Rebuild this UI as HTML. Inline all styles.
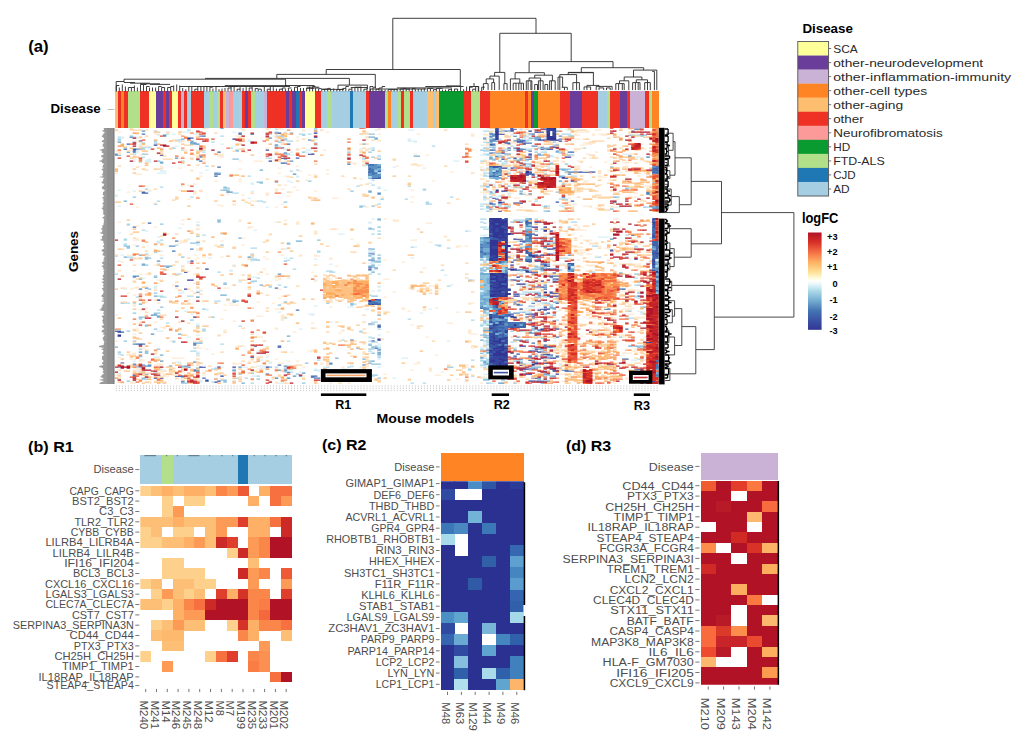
<!DOCTYPE html>
<html><head><meta charset="utf-8"><title>Figure</title>
<style>html,body{margin:0;padding:0;background:#fff;}svg{display:block;font-family:"Liberation Sans",sans-serif;}</style>
</head><body>
<svg width="1019" height="740" viewBox="0 0 1019 740">
<rect width="1019" height="740" fill="#fff"/>
<g shape-rendering="crispEdges"><rect x="114.8" y="91.4" width="3.0" height="36.4" fill="#fdbf6f"/><rect x="117.6" y="91.4" width="3.5" height="36.4" fill="#ee3124"/><rect x="120.7" y="91.4" width="4.0" height="36.4" fill="#ff8524"/><rect x="124.4" y="91.4" width="3.5" height="36.4" fill="#ee3124"/><rect x="127.6" y="91.4" width="12.7" height="36.4" fill="#b2df8a"/><rect x="139.9" y="91.4" width="9.5" height="36.4" fill="#ee3124"/><rect x="149.2" y="91.4" width="6.9" height="36.4" fill="#ffff99"/><rect x="155.7" y="91.4" width="7.4" height="36.4" fill="#6a3d9a"/><rect x="162.9" y="91.4" width="3.5" height="36.4" fill="#ee3124"/><rect x="166.1" y="91.4" width="3.3" height="36.4" fill="#6a3d9a"/><rect x="169.1" y="91.4" width="3.0" height="36.4" fill="#ee3124"/><rect x="171.8" y="91.4" width="6.8" height="36.4" fill="#ffff99"/><rect x="178.3" y="91.4" width="3.5" height="36.4" fill="#ee3124"/><rect x="181.4" y="91.4" width="3.0" height="36.4" fill="#cab2d6"/><rect x="184.2" y="91.4" width="3.3" height="36.4" fill="#ee3124"/><rect x="187.2" y="91.4" width="3.9" height="36.4" fill="#a6cee3"/><rect x="190.8" y="91.4" width="13.6" height="36.4" fill="#ee3124"/><rect x="204.1" y="91.4" width="6.1" height="36.4" fill="#a6cee3"/><rect x="209.9" y="91.4" width="3.7" height="36.4" fill="#b2df8a"/><rect x="213.3" y="91.4" width="3.9" height="36.4" fill="#a6cee3"/><rect x="216.9" y="91.4" width="3.3" height="36.4" fill="#b2df8a"/><rect x="219.9" y="91.4" width="3.3" height="36.4" fill="#ee3124"/><rect x="222.9" y="91.4" width="3.5" height="36.4" fill="#fdbf6f"/><rect x="226.1" y="91.4" width="3.0" height="36.4" fill="#cab2d6"/><rect x="228.8" y="91.4" width="4.4" height="36.4" fill="#fb9a99"/><rect x="233.0" y="91.4" width="9.2" height="36.4" fill="#a6cee3"/><rect x="241.9" y="91.4" width="3.7" height="36.4" fill="#ee3124"/><rect x="245.3" y="91.4" width="3.0" height="36.4" fill="#6a3d9a"/><rect x="248.0" y="91.4" width="3.5" height="36.4" fill="#ee3124"/><rect x="251.2" y="91.4" width="3.7" height="36.4" fill="#b2df8a"/><rect x="254.6" y="91.4" width="9.6" height="36.4" fill="#a6cee3"/><rect x="264.0" y="91.4" width="3.3" height="36.4" fill="#cab2d6"/><rect x="267.0" y="91.4" width="19.5" height="36.4" fill="#ee3124"/><rect x="286.2" y="91.4" width="3.3" height="36.4" fill="#6a3d9a"/><rect x="289.2" y="91.4" width="3.5" height="36.4" fill="#ee3124"/><rect x="292.4" y="91.4" width="3.5" height="36.4" fill="#6a3d9a"/><rect x="295.6" y="91.4" width="3.3" height="36.4" fill="#1f78b4"/><rect x="298.6" y="91.4" width="3.3" height="36.4" fill="#ee3124"/><rect x="301.6" y="91.4" width="3.7" height="36.4" fill="#6a3d9a"/><rect x="305.0" y="91.4" width="10.3" height="36.4" fill="#ffff99"/><rect x="315.1" y="91.4" width="6.2" height="36.4" fill="#ee3124"/><rect x="321.0" y="91.4" width="6.8" height="36.4" fill="#a6cee3"/><rect x="327.4" y="91.4" width="3.7" height="36.4" fill="#b2df8a"/><rect x="330.9" y="91.4" width="19.5" height="36.4" fill="#a6cee3"/><rect x="350.1" y="91.4" width="3.5" height="36.4" fill="#1f78b4"/><rect x="353.3" y="91.4" width="12.9" height="36.4" fill="#a6cee3"/><rect x="365.9" y="91.4" width="3.3" height="36.4" fill="#ee3124"/><rect x="368.9" y="91.4" width="16.6" height="36.4" fill="#6a3d9a"/><rect x="385.2" y="91.4" width="3.3" height="36.4" fill="#b2df8a"/><rect x="388.2" y="91.4" width="3.3" height="36.4" fill="#ff8524"/><rect x="391.3" y="91.4" width="6.6" height="36.4" fill="#a6cee3"/><rect x="397.6" y="91.4" width="3.3" height="36.4" fill="#b2df8a"/><rect x="400.6" y="91.4" width="3.7" height="36.4" fill="#ee3124"/><rect x="404.0" y="91.4" width="6.2" height="36.4" fill="#b2df8a"/><rect x="409.9" y="91.4" width="3.6" height="36.4" fill="#ee3124"/><rect x="413.2" y="91.4" width="13.8" height="36.4" fill="#a6cee3"/><rect x="426.7" y="91.4" width="6.5" height="36.4" fill="#fdbf6f"/><rect x="432.9" y="91.4" width="3.5" height="36.4" fill="#a6cee3"/><rect x="436.1" y="91.4" width="3.6" height="36.4" fill="#fdbf6f"/><rect x="439.3" y="91.4" width="25.0" height="36.4" fill="#0a9b30"/><rect x="464.1" y="91.4" width="6.9" height="36.4" fill="#ee3124"/><rect x="470.7" y="91.4" width="9.9" height="36.4" fill="#b2df8a"/><rect x="480.3" y="91.4" width="9.9" height="36.4" fill="#ee3124"/><rect x="489.9" y="91.4" width="35.0" height="36.4" fill="#ff8524"/><rect x="524.6" y="91.4" width="3.7" height="36.4" fill="#ee3124"/><rect x="528.0" y="91.4" width="3.2" height="36.4" fill="#ff8524"/><rect x="530.9" y="91.4" width="3.5" height="36.4" fill="#6a3d9a"/><rect x="534.1" y="91.4" width="4.0" height="36.4" fill="#0a9b30"/><rect x="537.8" y="91.4" width="22.4" height="36.4" fill="#ff8524"/><rect x="559.9" y="91.4" width="9.9" height="36.4" fill="#ee3124"/><rect x="569.5" y="91.4" width="12.8" height="36.4" fill="#6a3d9a"/><rect x="582.0" y="91.4" width="16.5" height="36.4" fill="#ee3124"/><rect x="598.2" y="91.4" width="9.1" height="36.4" fill="#a6cee3"/><rect x="607.0" y="91.4" width="3.7" height="36.4" fill="#b2df8a"/><rect x="610.4" y="91.4" width="10.2" height="36.4" fill="#ee3124"/><rect x="620.3" y="91.4" width="6.9" height="36.4" fill="#6a3d9a"/><rect x="626.9" y="91.4" width="3.2" height="36.4" fill="#ee3124"/><rect x="629.8" y="91.4" width="15.8" height="36.4" fill="#cab2d6"/><rect x="645.3" y="91.4" width="4.3" height="36.4" fill="#ee3124"/><rect x="649.3" y="91.4" width="3.2" height="36.4" fill="#b2df8a"/><rect x="652.2" y="91.4" width="6.7" height="36.4" fill="#ff8524"/></g>
<defs><clipPath id="hc"><rect x="114.8" y="128.0" width="543.8" height="256.0"/></clipPath></defs><g clip-path="url(#hc)"><g fill="none" stroke-width="1.25"><path stroke="#313695" d="M510.3 128.0h3.5M543.5 129.0h12.6M510.3 130.0h3.5M528.4 131.0h3.5M534.5 132.0h3.5M274.7 133.0h3.5M313.9 133.0h3.5M501.3 134.0h3.5M313.9 137.0h3.5M187.1 138.0h3.5M187.1 139.0h3.5M232.4 139.0h3.5M543.5 140.0h15.6M138.7 141.0h3.5M153.8 145.0h3.5M540.5 147.0h3.5M552.6 147.0h6.5M280.7 148.0h3.5M507.3 148.0h3.5M540.5 149.0h3.5M546.6 149.0h6.5M501.3 150.0h3.5M307.9 154.0h6.5M528.4 154.0h3.5M159.9 155.0h3.5M495.2 156.0h3.5M564.7 157.0h6.5M280.7 158.0h3.5M513.3 158.0h3.5M501.3 159.0h3.5M522.4 164.0h3.5M501.3 168.0h6.5M510.3 168.0h3.5M525.4 171.0h3.5M525.4 172.0h6.5M588.9 172.0h3.5M525.4 173.0h3.5M525.4 175.0h3.5M561.7 177.0h3.5M561.7 178.0h6.5M519.4 182.0h3.5M495.2 190.0h3.5M495.2 191.0h3.5M501.3 191.0h3.5M492.2 198.0h3.5M498.2 202.0h6.5M498.2 203.0h3.5M513.3 203.0h9.6M498.2 211.0h3.5M534.5 222.0h3.5M531.5 227.0h6.5M543.5 227.0h3.5M543.5 230.0h3.5M543.5 231.0h3.5M549.6 231.0h3.5M534.5 235.0h3.5M513.3 239.0h6.5M519.4 241.0h6.5M546.6 244.0h3.5M552.6 248.0h3.5M546.6 249.0h3.5M519.4 251.0h3.5M610.0 251.0h3.5M546.6 254.0h3.5M540.5 255.0h3.5M534.5 256.0h6.5M634.2 259.0h3.5M534.5 261.0h3.5M510.3 262.0h3.5M540.5 264.0h3.5M510.3 265.0h3.5M543.5 266.0h3.5M205.2 269.0h3.5M368.3 269.0h3.5M510.3 269.0h6.5M546.6 269.0h3.5M510.3 270.0h3.5M525.4 271.0h3.5M184.0 272.0h3.5M525.4 272.0h6.5M552.6 273.0h3.5M543.5 275.0h3.5M516.4 277.0h3.5M552.6 279.0h6.5M187.1 280.0h6.5M510.3 280.0h3.5M540.5 281.0h3.5M516.4 284.0h9.6M531.5 287.0h3.5M537.5 287.0h3.5M507.3 289.0h3.5M543.5 292.0h3.5M549.6 292.0h3.5M543.5 293.0h3.5M552.6 293.0h6.5M513.3 294.0h6.5M513.3 296.0h6.5M510.3 299.0h3.5M156.8 300.0h3.5M516.4 301.0h3.5M534.5 301.0h3.5M516.4 304.0h3.5M543.5 307.0h3.5M519.4 309.0h3.5M540.5 309.0h9.6M537.5 310.0h3.5M510.3 316.0h3.5M193.1 317.0h3.5M510.3 317.0h6.5M525.4 317.0h3.5M513.3 318.0h3.5M531.5 318.0h3.5M114.5 331.0h3.5M117.6 335.0h3.5M534.5 335.0h6.5M117.6 336.0h3.5M371.3 341.0h3.5M519.4 346.0h6.5M534.5 349.0h3.5M528.4 351.0h3.5M534.5 351.0h3.5M537.5 352.0h3.5M543.5 354.0h3.5M540.5 355.0h3.5M250.5 357.0h3.5M510.3 358.0h6.5M540.5 358.0h15.6M528.4 360.0h3.5M543.5 360.0h3.5M120.6 363.0h3.5M519.4 363.0h3.5M534.5 363.0h3.5M543.5 363.0h3.5M531.5 364.0h6.5M132.7 365.0h3.5M519.4 365.0h3.5M531.5 365.0h3.5M199.1 367.0h3.5M217.3 367.0h3.5M265.6 367.0h3.5M504.3 368.0h3.5M519.4 369.0h15.6M549.6 369.0h3.5M193.1 370.0h3.5M489.2 371.0h6.5M543.5 371.0h3.5M552.6 371.0h3.5M504.3 373.0h3.5M522.4 374.0h9.6M555.6 374.0h3.5M178.0 376.0h3.5M220.3 376.0h3.5M510.3 376.0h3.5M531.5 378.0h6.5M528.4 381.0h3.5"/><path stroke="#36459c" d="M498.2 134.0h3.5M537.5 139.0h3.5M540.5 140.0h3.5M516.4 141.0h6.5M558.7 141.0h3.5M522.4 143.0h3.5M507.3 144.0h3.5M549.6 147.0h3.5M528.4 157.0h3.5M268.6 161.0h3.5M585.8 172.0h3.5M525.4 174.0h6.5M570.7 181.0h6.5M537.5 222.0h3.5M549.6 249.0h3.5M610.0 250.0h3.5M371.3 254.0h3.5M190.1 261.0h3.5M537.5 261.0h3.5M543.5 265.0h3.5M546.6 266.0h3.5M507.3 269.0h3.5M513.3 270.0h3.5M513.3 280.0h3.5M534.5 287.0h3.5M184.0 289.0h3.5M549.6 293.0h3.5M552.6 296.0h3.5M555.6 303.0h3.5M513.3 304.0h3.5M546.6 313.0h3.5M531.5 314.0h6.5M531.5 316.0h3.5M531.5 326.0h3.5M540.5 329.0h3.5M540.5 330.0h3.5M117.6 331.0h3.5M117.6 332.0h3.5M377.4 339.0h3.5M377.4 340.0h3.5M543.5 341.0h3.5M531.5 351.0h3.5M540.5 352.0h3.5M510.3 353.0h3.5M537.5 364.0h3.5M202.2 367.0h3.5M232.4 367.0h3.5M489.2 367.0h3.5M552.6 370.0h3.5M286.8 372.0h3.5M175.0 376.0h3.5M153.8 378.0h3.5M159.9 378.0h3.5M214.2 382.0h3.5"/><path stroke="#3a54a4" d="M510.3 129.0h6.5M510.3 131.0h3.5M537.5 132.0h3.5M277.7 133.0h3.5M492.2 139.0h3.5M537.5 140.0h3.5M522.4 141.0h3.5M132.7 142.0h3.5M516.4 142.0h6.5M507.3 143.0h3.5M522.4 144.0h3.5M123.6 149.0h3.5M132.7 149.0h3.5M522.4 149.0h3.5M543.5 149.0h3.5M132.7 150.0h3.5M265.6 150.0h3.5M489.2 150.0h3.5M501.3 153.0h3.5M519.4 160.0h3.5M513.3 168.0h3.5M519.4 172.0h3.5M579.8 172.0h6.5M591.9 172.0h3.5M528.4 173.0h3.5M504.3 191.0h3.5M528.4 194.0h3.5M570.7 201.0h3.5M555.6 202.0h3.5M489.2 203.0h3.5M510.3 234.0h3.5M531.5 234.0h3.5M631.2 235.0h3.5M519.4 239.0h3.5M196.1 242.0h3.5M552.6 243.0h3.5M552.6 249.0h3.5M531.5 255.0h6.5M531.5 257.0h3.5M516.4 260.0h3.5M543.5 264.0h3.5M549.6 269.0h6.5M525.4 270.0h3.5M531.5 272.0h6.5M531.5 274.0h3.5M549.6 277.0h3.5M540.5 287.0h3.5M622.1 289.0h3.5M537.5 295.0h3.5M549.6 296.0h3.5M555.6 296.0h3.5M537.5 301.0h3.5M543.5 310.0h3.5M510.3 314.0h3.5M525.4 314.0h3.5M555.6 329.0h3.5M537.5 330.0h3.5M253.5 346.0h3.5M277.7 347.0h3.5M374.4 348.0h3.5M377.4 350.0h3.5M543.5 352.0h3.5M516.4 354.0h3.5M546.6 354.0h3.5M546.6 355.0h6.5M138.7 356.0h3.5M513.3 356.0h3.5M528.4 356.0h3.5M531.5 360.0h3.5M543.5 367.0h3.5M534.5 369.0h3.5M637.2 369.0h6.5M232.4 370.0h3.5M495.2 371.0h3.5M564.7 371.0h3.5M144.8 374.0h3.5M504.3 374.0h3.5M132.7 375.0h3.5M181.0 376.0h3.5M310.9 377.0h3.5M501.3 377.0h3.5M205.2 380.0h3.5M205.2 381.0h3.5M217.3 381.0h3.5M531.5 381.0h3.5"/><path stroke="#4064ac" d="M634.2 129.0h6.5M540.5 132.0h3.5M238.4 134.0h3.5M250.5 134.0h3.5M489.2 134.0h3.5M190.1 138.0h3.5M522.4 140.0h3.5M513.3 141.0h3.5M504.3 142.0h3.5M126.6 144.0h3.5M286.8 144.0h3.5M489.2 144.0h6.5M274.7 145.0h3.5M489.2 145.0h3.5M516.4 149.0h6.5M492.2 150.0h3.5M516.4 150.0h3.5M132.7 151.0h3.5M217.3 152.0h3.5M570.7 152.0h3.5M283.7 153.0h3.5M489.2 153.0h3.5M498.2 153.0h3.5M528.4 155.0h3.5M628.1 156.0h3.5M295.8 158.0h3.5M199.1 161.0h3.5M280.7 163.0h3.5M365.3 164.0h3.5M519.4 165.0h3.5M217.3 167.0h3.5M573.8 172.0h6.5M217.3 174.0h3.5M531.5 174.0h3.5M531.5 175.0h3.5M214.2 176.0h3.5M141.7 192.0h3.5M141.7 193.0h6.5M646.3 193.0h3.5M495.2 199.0h3.5M613.0 202.0h3.5M489.2 204.0h3.5M519.4 222.0h3.5M147.8 223.0h3.5M549.6 238.0h3.5M519.4 248.0h3.5M371.3 260.0h3.5M513.3 260.0h3.5M368.3 267.0h3.5M543.5 269.0h3.5M555.6 269.0h3.5M516.4 270.0h3.5M522.4 270.0h3.5M549.6 276.0h3.5M552.6 281.0h3.5M543.5 289.0h3.5M534.5 293.0h3.5M546.6 296.0h3.5M637.2 296.0h3.5M531.5 303.0h3.5M607.0 309.0h3.5M507.3 314.0h3.5M528.4 314.0h3.5M507.3 315.0h3.5M507.3 316.0h3.5M377.4 326.0h3.5M377.4 327.0h3.5M534.5 327.0h3.5M120.6 332.0h3.5M138.7 344.0h3.5M138.7 345.0h3.5M543.5 345.0h3.5M277.7 346.0h3.5M543.5 347.0h3.5M549.6 347.0h6.5M486.1 350.0h3.5M534.5 356.0h3.5M622.1 359.0h6.5M362.3 365.0h3.5M634.2 369.0h3.5M283.7 370.0h3.5M555.6 370.0h3.5M564.7 370.0h3.5M567.7 371.0h6.5M265.6 374.0h3.5M543.5 374.0h3.5M489.2 375.0h3.5M132.7 376.0h3.5M310.9 376.0h6.5M181.0 377.0h3.5M202.2 378.0h3.5M537.5 381.0h3.5"/><path stroke="#4575b4" d="M504.3 131.0h6.5M631.2 131.0h3.5M238.4 133.0h3.5M141.7 134.0h3.5M492.2 134.0h3.5M528.4 134.0h6.5M202.2 136.0h3.5M513.3 136.0h3.5M129.7 137.0h3.5M537.5 137.0h3.5M516.4 139.0h3.5M558.7 139.0h3.5M519.4 140.0h3.5M193.1 143.0h3.5M504.3 143.0h3.5M525.4 143.0h6.5M492.2 145.0h3.5M513.3 148.0h3.5M138.7 149.0h3.5M507.3 150.0h3.5M528.4 151.0h3.5M132.7 152.0h3.5M567.7 152.0h3.5M492.2 153.0h6.5M646.3 157.0h3.5M528.4 159.0h3.5M283.7 163.0h3.5M347.2 164.0h3.5M567.7 172.0h6.5M214.2 174.0h3.5M567.7 174.0h3.5M513.3 187.0h3.5M489.2 192.0h3.5M646.3 192.0h3.5M646.3 194.0h3.5M561.7 197.0h3.5M492.2 204.0h3.5M132.7 227.0h3.5M549.6 239.0h3.5M175.0 241.0h3.5M522.4 242.0h3.5M172.0 251.0h3.5M549.6 254.0h3.5M507.3 257.0h3.5M519.4 260.0h3.5M374.4 268.0h3.5M540.5 268.0h3.5M519.4 270.0h3.5M540.5 270.0h3.5M552.6 276.0h6.5M175.0 286.0h3.5M543.5 287.0h3.5M274.7 288.0h3.5M138.7 289.0h3.5M619.1 289.0h3.5M534.5 297.0h6.5M516.4 305.0h3.5M604.0 309.0h3.5M295.8 310.0h3.5M368.3 324.0h3.5M377.4 325.0h3.5M534.5 329.0h3.5M625.1 329.0h3.5M555.6 337.0h3.5M350.2 340.0h3.5M531.5 343.0h3.5M135.7 344.0h3.5M141.7 344.0h3.5M543.5 346.0h6.5M546.6 347.0h3.5M540.5 349.0h3.5M513.3 350.0h3.5M555.6 356.0h3.5M555.6 357.0h3.5M528.4 358.0h3.5M519.4 359.0h3.5M147.8 365.0h3.5M277.7 365.0h3.5M561.7 370.0h3.5M153.8 373.0h3.5M546.6 374.0h3.5M489.2 376.0h3.5M274.7 378.0h3.5M286.8 378.0h3.5M313.9 378.0h6.5M181.0 381.0h3.5M534.5 381.0h3.5M540.5 381.0h3.5"/><path stroke="#5c91c2" d="M220.3 128.0h3.5M141.7 131.0h3.5M501.3 131.0h3.5M489.2 133.0h3.5M162.9 135.0h3.5M492.2 135.0h3.5M162.9 136.0h3.5M199.1 136.0h3.5M489.2 136.0h6.5M558.7 136.0h3.5M489.2 137.0h3.5M534.5 137.0h3.5M268.6 138.0h3.5M483.1 138.0h3.5M307.9 140.0h3.5M489.2 140.0h6.5M516.4 140.0h3.5M489.2 141.0h9.6M117.6 142.0h3.5M489.2 142.0h3.5M190.1 144.0h3.5M196.1 144.0h3.5M555.6 145.0h3.5M531.5 146.0h6.5M135.7 149.0h3.5M519.4 150.0h3.5M126.6 152.0h3.5M114.5 154.0h3.5M504.3 154.0h6.5M537.5 154.0h3.5M114.5 155.0h3.5M199.1 156.0h3.5M199.1 157.0h3.5M175.0 158.0h3.5M519.4 158.0h3.5M525.4 160.0h3.5M289.8 161.0h3.5M564.7 172.0h3.5M214.2 173.0h3.5M292.8 174.0h3.5M507.3 176.0h3.5M495.2 179.0h3.5M558.7 181.0h3.5M516.4 187.0h3.5M226.3 192.0h6.5M377.4 193.0h3.5M377.4 194.0h3.5M489.2 209.0h3.5M377.4 219.0h3.5M510.3 227.0h3.5M610.0 239.0h3.5M519.4 244.0h3.5M168.9 246.0h6.5M543.5 247.0h3.5M543.5 248.0h3.5M190.1 249.0h3.5M368.3 249.0h3.5M368.3 253.0h3.5M567.7 255.0h3.5M247.5 257.0h3.5M377.4 258.0h3.5M516.4 258.0h3.5M537.5 258.0h3.5M368.3 260.0h3.5M156.8 261.0h3.5M528.4 262.0h3.5M546.6 264.0h3.5M165.9 267.0h3.5M540.5 269.0h3.5M368.3 270.0h3.5M619.1 273.0h3.5M277.7 274.0h3.5M132.7 276.0h6.5M132.7 277.0h3.5M555.6 281.0h3.5M543.5 285.0h3.5M144.8 288.0h3.5M196.1 292.0h3.5M537.5 293.0h3.5M196.1 297.0h3.5M513.3 302.0h3.5M519.4 305.0h3.5M549.6 307.0h3.5M552.6 308.0h3.5M486.1 310.0h3.5M507.3 312.0h3.5M513.3 313.0h6.5M150.8 315.0h3.5M156.8 316.0h3.5M555.6 328.0h3.5M528.4 332.0h3.5M528.4 333.0h6.5M150.8 334.0h3.5M483.1 337.0h3.5M516.4 337.0h3.5M513.3 340.0h3.5M193.1 343.0h3.5M132.7 344.0h3.5M193.1 344.0h3.5M193.1 345.0h3.5M643.2 346.0h3.5M371.3 347.0h3.5M537.5 349.0h3.5M138.7 352.0h3.5M377.4 354.0h3.5M480.1 357.0h3.5M528.4 357.0h3.5M159.9 361.0h3.5M193.1 362.0h3.5M534.5 362.0h3.5M329.0 363.0h3.5M132.7 364.0h3.5M329.0 364.0h3.5M486.1 364.0h3.5M141.7 365.0h3.5M144.8 366.0h6.5M168.9 366.0h3.5M283.7 366.0h3.5M495.2 366.0h3.5M117.6 367.0h3.5M135.7 367.0h3.5M187.1 367.0h3.5M238.4 367.0h3.5M277.7 370.0h3.5M193.1 371.0h3.5M283.7 371.0h3.5M301.9 373.0h3.5M498.2 374.0h6.5M292.8 376.0h3.5M298.8 376.0h3.5M492.2 376.0h3.5M552.6 376.0h3.5M543.5 381.0h6.5M643.2 381.0h3.5M181.0 382.0h3.5M498.2 383.0h6.5"/><path stroke="#74add1" d="M543.5 128.0h3.5M498.2 131.0h3.5M555.6 131.0h3.5M289.8 133.0h3.5M628.1 135.0h3.5M570.7 136.0h3.5M368.3 137.0h6.5M522.4 137.0h3.5M374.4 138.0h3.5M528.4 138.0h12.6M181.0 139.0h3.5M283.7 139.0h3.5M374.4 139.0h3.5M483.1 139.0h3.5M489.2 139.0h3.5M534.5 139.0h3.5M534.5 140.0h3.5M190.1 141.0h3.5M190.1 142.0h3.5M190.1 143.0h3.5M153.8 144.0h3.5M193.1 144.0h3.5M362.3 144.0h3.5M274.7 147.0h3.5M543.5 148.0h6.5M141.7 149.0h3.5M555.6 151.0h3.5M555.6 152.0h3.5M117.6 155.0h3.5M537.5 155.0h6.5M413.6 156.0h6.5M489.2 157.0h3.5M495.2 157.0h6.5M489.2 158.0h3.5M507.3 158.0h3.5M283.7 159.0h3.5M377.4 159.0h3.5M489.2 159.0h3.5M525.4 159.0h3.5M513.3 160.0h6.5M516.4 161.0h3.5M159.9 162.0h3.5M159.9 163.0h3.5M525.4 164.0h6.5M610.0 167.0h3.5M558.7 169.0h6.5M259.6 170.0h3.5M561.7 170.0h3.5M217.3 173.0h3.5M558.7 176.0h3.5M558.7 177.0h3.5M525.4 181.0h3.5M274.7 182.0h3.5M561.7 184.0h3.5M519.4 187.0h3.5M223.3 190.0h3.5M226.3 191.0h3.5M368.3 191.0h3.5M519.4 191.0h3.5M368.3 192.0h3.5M519.4 193.0h3.5M519.4 194.0h3.5M489.2 197.0h3.5M613.0 197.0h3.5M123.6 201.0h3.5M492.2 206.0h3.5M610.0 209.0h3.5M546.6 211.0h3.5M217.3 220.0h3.5M238.4 238.0h3.5M540.5 239.0h6.5M534.5 240.0h3.5M295.8 241.0h6.5M522.4 247.0h3.5M371.3 249.0h3.5M138.7 255.0h3.5M368.3 255.0h3.5M123.6 257.0h3.5M371.3 258.0h3.5M486.1 259.0h3.5M537.5 259.0h3.5M486.1 260.0h3.5M483.1 262.0h3.5M543.5 263.0h3.5M141.7 264.0h3.5M141.7 265.0h3.5M371.3 265.0h3.5M540.5 265.0h3.5M162.9 266.0h9.6M368.3 266.0h3.5M371.3 267.0h3.5M540.5 267.0h3.5M486.1 268.0h3.5M534.5 269.0h6.5M480.1 270.0h6.5M371.3 272.0h3.5M480.1 272.0h3.5M153.8 277.0h3.5M138.7 279.0h3.5M223.3 284.0h3.5M259.6 285.0h3.5M220.3 295.0h6.5M153.8 296.0h3.5M555.6 298.0h3.5M232.4 301.0h6.5M232.4 302.0h3.5M283.7 302.0h3.5M552.6 302.0h6.5M138.7 304.0h3.5M643.2 307.0h3.5M549.6 308.0h3.5M552.6 309.0h3.5M483.1 310.0h3.5M522.4 312.0h3.5M153.8 314.0h3.5M543.5 314.0h3.5M153.8 315.0h3.5M377.4 315.0h3.5M552.6 315.0h3.5M156.8 317.0h3.5M483.1 322.0h3.5M528.4 322.0h3.5M371.3 324.0h3.5M486.1 325.0h3.5M483.1 330.0h6.5M483.1 331.0h6.5M178.0 334.0h3.5M483.1 335.0h6.5M286.8 336.0h3.5M486.1 337.0h3.5M480.1 340.0h3.5M516.4 340.0h6.5M525.4 340.0h3.5M196.1 343.0h6.5M368.3 345.0h3.5M628.1 346.0h3.5M634.2 346.0h3.5M640.2 346.0h3.5M114.5 347.0h3.5M637.2 347.0h3.5M356.2 348.0h3.5M377.4 349.0h3.5M377.4 352.0h3.5M486.1 352.0h3.5M144.8 353.0h3.5M371.3 353.0h3.5M377.4 353.0h3.5M480.1 353.0h3.5M486.1 353.0h3.5M159.9 355.0h3.5M543.5 356.0h3.5M549.6 356.0h3.5M335.1 358.0h3.5M480.1 358.0h3.5M362.3 359.0h3.5M371.3 361.0h3.5M483.1 361.0h3.5M516.4 361.0h3.5M483.1 362.0h3.5M368.3 363.0h3.5M483.1 363.0h6.5M522.4 364.0h3.5M480.1 365.0h6.5M184.0 366.0h3.5M498.2 366.0h3.5M138.7 367.0h3.5M184.0 367.0h3.5M268.6 367.0h3.5M531.5 367.0h9.6M196.1 368.0h3.5M492.2 368.0h3.5M558.7 368.0h3.5M196.1 370.0h3.5M196.1 371.0h3.5M522.4 371.0h3.5M501.3 375.0h3.5M549.6 376.0h3.5M141.7 378.0h3.5M537.5 378.0h3.5M537.5 379.0h3.5M501.3 380.0h3.5M241.4 383.0h3.5M540.5 383.0h3.5"/><path stroke="#90c3dd" d="M274.7 132.0h3.5M368.3 134.0h6.5M301.9 135.0h3.5M631.2 135.0h15.6M129.7 136.0h3.5M280.7 136.0h3.5M525.4 136.0h3.5M567.7 136.0h3.5M640.2 136.0h3.5M117.6 139.0h3.5M178.0 140.0h3.5M525.4 140.0h3.5M277.7 142.0h3.5M552.6 142.0h3.5M141.7 143.0h3.5M313.9 143.0h3.5M552.6 145.0h3.5M274.7 146.0h3.5M489.2 147.0h6.5M123.6 148.0h3.5M172.0 148.0h3.5M483.1 148.0h3.5M492.2 148.0h3.5M537.5 148.0h6.5M235.4 150.0h3.5M371.3 150.0h3.5M480.1 150.0h3.5M525.4 150.0h3.5M235.4 151.0h3.5M501.3 151.0h3.5M301.9 152.0h3.5M347.2 152.0h3.5M368.3 152.0h3.5M534.5 152.0h3.5M558.7 152.0h3.5M141.7 154.0h6.5M283.7 154.0h6.5M567.7 155.0h6.5M377.4 156.0h3.5M501.3 156.0h3.5M371.3 157.0h3.5M232.4 159.0h6.5M492.2 159.0h3.5M196.1 160.0h3.5M492.2 160.0h3.5M156.8 161.0h3.5M498.2 161.0h3.5M504.3 161.0h3.5M549.6 163.0h3.5M549.6 164.0h3.5M564.7 164.0h3.5M501.3 165.0h3.5M564.7 169.0h6.5M564.7 170.0h3.5M507.3 173.0h3.5M543.5 174.0h3.5M546.6 176.0h3.5M561.7 176.0h3.5M534.5 177.0h3.5M307.9 181.0h3.5M256.5 182.0h6.5M259.6 183.0h3.5M483.1 186.0h6.5M507.3 186.0h3.5M223.3 187.0h3.5M486.1 187.0h3.5M223.3 188.0h6.5M625.1 188.0h3.5M144.8 189.0h3.5M625.1 189.0h3.5M220.3 190.0h3.5M226.3 190.0h3.5M350.2 191.0h3.5M555.6 192.0h3.5M522.4 194.0h3.5M132.7 197.0h3.5M483.1 197.0h3.5M616.1 197.0h3.5M380.4 199.0h3.5M561.7 199.0h3.5M283.7 202.0h3.5M153.8 204.0h3.5M498.2 204.0h3.5M359.3 206.0h3.5M371.3 206.0h3.5M486.1 206.0h3.5M543.5 206.0h3.5M359.3 207.0h3.5M486.1 207.0h3.5M504.3 207.0h3.5M543.5 207.0h3.5M643.2 207.0h3.5M649.3 207.0h3.5M486.1 208.0h3.5M486.1 211.0h3.5M543.5 211.0h3.5M377.4 220.0h3.5M217.3 221.0h3.5M217.3 222.0h3.5M510.3 222.0h3.5M159.9 224.0h3.5M377.4 227.0h3.5M368.3 228.0h3.5M368.3 229.0h6.5M540.5 229.0h3.5M534.5 231.0h3.5M377.4 234.0h3.5M196.1 236.0h3.5M543.5 237.0h3.5M317.0 240.0h3.5M190.1 243.0h6.5M286.8 243.0h3.5M286.8 244.0h3.5M220.3 245.0h3.5M123.6 246.0h6.5M135.7 246.0h3.5M126.6 247.0h3.5M126.6 248.0h3.5M519.4 249.0h3.5M153.8 252.0h3.5M144.8 254.0h3.5M377.4 255.0h3.5M368.3 256.0h3.5M144.8 257.0h3.5M181.0 257.0h3.5M625.1 257.0h3.5M144.8 258.0h6.5M486.1 258.0h3.5M129.7 259.0h3.5M144.8 259.0h3.5M480.1 259.0h3.5M256.5 260.0h3.5M480.1 260.0h3.5M283.7 261.0h3.5M371.3 261.0h9.6M374.4 262.0h6.5M144.8 265.0h3.5M486.1 265.0h3.5M371.3 266.0h3.5M534.5 266.0h3.5M483.1 267.0h3.5M534.5 267.0h6.5M543.5 267.0h3.5M480.1 268.0h3.5M480.1 269.0h3.5M486.1 269.0h3.5M531.5 269.0h3.5M528.4 270.0h3.5M558.7 270.0h3.5M483.1 271.0h3.5M634.2 274.0h6.5M153.8 276.0h3.5M468.0 280.0h3.5M507.3 280.0h3.5M519.4 280.0h3.5M552.6 280.0h3.5M253.5 281.0h3.5M637.2 282.0h3.5M223.3 283.0h3.5M637.2 285.0h3.5M283.7 287.0h3.5M147.8 289.0h3.5M153.8 293.0h3.5M637.2 293.0h3.5M371.3 296.0h6.5M540.5 296.0h3.5M232.4 300.0h3.5M120.6 303.0h3.5M326.0 303.0h3.5M350.2 303.0h3.5M543.5 303.0h3.5M350.2 304.0h3.5M277.7 305.0h3.5M350.2 305.0h3.5M549.6 305.0h3.5M528.4 306.0h6.5M159.9 307.0h3.5M640.2 307.0h3.5M202.2 309.0h3.5M483.1 311.0h3.5M628.1 311.0h3.5M483.1 312.0h3.5M519.4 312.0h3.5M132.7 313.0h3.5M153.8 313.0h6.5M483.1 313.0h3.5M138.7 317.0h6.5M211.2 317.0h3.5M138.7 318.0h3.5M190.1 320.0h3.5M483.1 321.0h6.5M144.8 325.0h3.5M480.1 325.0h3.5M144.8 326.0h3.5M196.1 326.0h3.5M483.1 328.0h6.5M531.5 328.0h3.5M153.8 329.0h3.5M531.5 329.0h3.5M531.5 330.0h3.5M126.6 331.0h3.5M510.3 331.0h3.5M519.4 331.0h3.5M534.5 332.0h6.5M483.1 334.0h3.5M480.1 335.0h3.5M619.1 337.0h3.5M371.3 338.0h3.5M486.1 338.0h3.5M540.5 338.0h6.5M486.1 340.0h3.5M123.6 341.0h3.5M132.7 341.0h3.5M486.1 342.0h3.5M368.3 344.0h3.5M486.1 344.0h3.5M374.4 346.0h3.5M631.2 346.0h3.5M637.2 346.0h3.5M507.3 347.0h3.5M537.5 348.0h3.5M640.2 348.0h6.5M138.7 349.0h3.5M156.8 349.0h3.5M368.3 349.0h3.5M144.8 351.0h3.5M117.6 352.0h3.5M144.8 352.0h3.5M377.4 355.0h3.5M546.6 356.0h3.5M377.4 357.0h3.5M368.3 361.0h3.5M513.3 361.0h3.5M519.4 361.0h3.5M543.5 361.0h3.5M304.9 363.0h3.5M371.3 364.0h9.6M483.1 364.0h3.5M607.0 365.0h6.5M181.0 366.0h3.5M522.4 366.0h3.5M181.0 367.0h3.5M446.9 367.0h6.5M528.4 367.0h3.5M283.7 368.0h3.5M289.8 369.0h3.5M504.3 369.0h3.5M504.3 370.0h3.5M141.7 371.0h3.5M232.4 371.0h3.5M250.5 373.0h3.5M238.4 374.0h3.5M295.8 374.0h3.5M371.3 375.0h6.5M543.5 375.0h6.5M504.3 376.0h3.5M495.2 377.0h6.5M504.3 377.0h3.5M377.4 378.0h3.5M543.5 378.0h3.5M117.6 379.0h3.5M141.7 379.0h6.5M256.5 379.0h3.5M483.1 379.0h6.5M220.3 380.0h6.5M483.1 380.0h6.5M126.6 381.0h3.5M223.3 381.0h3.5M223.3 382.0h3.5M181.0 383.0h6.5M301.9 383.0h3.5M486.1 383.0h3.5M513.3 383.0h3.5"/><path stroke="#abd9e9" d="M313.9 128.0h3.5M567.7 128.0h3.5M274.7 129.0h3.5M313.9 129.0h3.5M519.4 129.0h3.5M187.1 130.0h3.5M313.9 130.0h3.5M153.8 131.0h3.5M483.1 131.0h6.5M522.4 133.0h3.5M165.9 134.0h3.5M268.6 134.0h3.5M298.8 134.0h6.5M307.9 134.0h3.5M561.7 134.0h9.6M220.3 136.0h3.5M274.7 136.0h6.5M117.6 137.0h3.5M132.7 137.0h3.5M280.7 137.0h3.5M543.5 138.0h3.5M498.2 139.0h3.5M117.6 140.0h3.5M175.0 140.0h3.5M283.7 140.0h3.5M528.4 140.0h3.5M117.6 141.0h3.5M153.8 141.0h3.5M286.8 141.0h6.5M525.4 141.0h3.5M153.8 142.0h3.5M211.2 142.0h3.5M483.1 142.0h6.5M486.1 143.0h3.5M313.9 145.0h3.5M431.8 146.0h3.5M510.3 146.0h3.5M141.7 147.0h9.6M277.7 147.0h3.5M229.4 148.0h3.5M371.3 148.0h3.5M486.1 148.0h3.5M582.8 148.0h3.5M504.3 149.0h6.5M528.4 149.0h3.5M181.0 150.0h3.5M202.2 150.0h3.5M483.1 150.0h6.5M513.3 150.0h3.5M483.1 151.0h6.5M504.3 151.0h3.5M202.2 152.0h3.5M540.5 152.0h6.5M558.7 153.0h3.5M132.7 154.0h3.5M483.1 154.0h6.5M564.7 154.0h3.5M486.1 155.0h3.5M498.2 155.0h3.5M504.3 155.0h3.5M498.2 156.0h3.5M546.6 156.0h6.5M141.7 157.0h3.5M265.6 158.0h6.5M362.3 158.0h3.5M362.3 159.0h3.5M181.0 161.0h3.5M480.1 161.0h3.5M138.7 162.0h3.5M501.3 163.0h6.5M365.3 165.0h3.5M555.6 165.0h3.5M205.2 166.0h3.5M522.4 166.0h9.6M525.4 167.0h6.5M486.1 168.0h3.5M507.3 169.0h3.5M519.4 169.0h3.5M546.6 169.0h3.5M295.8 170.0h3.5M289.8 171.0h3.5M543.5 171.0h3.5M483.1 173.0h6.5M483.1 175.0h3.5M247.5 176.0h3.5M483.1 176.0h6.5M570.7 176.0h6.5M371.3 180.0h3.5M486.1 184.0h3.5M371.3 185.0h3.5M356.2 186.0h3.5M407.6 186.0h3.5M480.1 186.0h3.5M519.4 186.0h3.5M159.9 187.0h3.5M377.4 188.0h3.5M628.1 188.0h3.5M422.7 189.0h3.5M422.7 190.0h3.5M486.1 191.0h3.5M570.7 191.0h3.5M232.4 193.0h6.5M489.2 193.0h6.5M489.2 194.0h3.5M498.2 196.0h3.5M190.1 197.0h3.5M449.9 197.0h3.5M404.6 199.0h3.5M483.1 199.0h3.5M558.7 199.0h3.5M564.7 199.0h3.5M564.7 200.0h3.5M156.8 201.0h3.5M256.5 201.0h6.5M534.5 201.0h3.5M262.6 202.0h3.5M425.7 202.0h3.5M425.7 203.0h3.5M377.4 204.0h3.5M425.7 204.0h6.5M480.1 204.0h9.6M498.2 205.0h3.5M362.3 206.0h3.5M480.1 206.0h3.5M498.2 206.0h3.5M504.3 206.0h6.5M546.6 206.0h3.5M507.3 207.0h3.5M646.3 207.0h3.5M480.1 209.0h3.5M480.1 219.0h6.5M534.5 219.0h3.5M513.3 220.0h12.6M513.3 221.0h3.5M519.4 221.0h6.5M480.1 222.0h3.5M570.7 222.0h6.5M483.1 223.0h3.5M126.6 224.0h3.5M126.6 225.0h3.5M196.1 225.0h3.5M480.1 227.0h6.5M567.7 227.0h3.5M483.1 229.0h6.5M141.7 230.0h3.5M377.4 231.0h3.5M465.0 231.0h3.5M531.5 231.0h3.5M371.3 234.0h3.5M202.2 235.0h3.5M625.1 235.0h3.5M649.3 238.0h3.5M123.6 239.0h3.5M123.6 240.0h3.5M159.9 240.0h3.5M516.4 241.0h3.5M156.8 242.0h3.5M543.5 242.0h12.6M196.1 243.0h3.5M123.6 244.0h3.5M549.6 244.0h3.5M123.6 245.0h3.5M175.0 245.0h3.5M434.8 245.0h6.5M437.8 246.0h3.5M591.9 246.0h6.5M634.2 246.0h3.5M410.6 247.0h3.5M634.2 247.0h3.5M250.5 248.0h6.5M446.9 248.0h3.5M510.3 248.0h3.5M317.0 251.0h3.5M317.0 252.0h3.5M371.3 252.0h3.5M552.6 253.0h3.5M250.5 254.0h3.5M114.5 256.0h3.5M126.6 257.0h6.5M250.5 257.0h3.5M594.9 257.0h6.5M159.9 258.0h3.5M289.8 258.0h3.5M558.7 258.0h9.6M250.5 259.0h6.5M377.4 259.0h3.5M250.5 260.0h6.5M286.8 260.0h3.5M483.1 260.0h3.5M371.3 262.0h3.5M156.8 264.0h3.5M480.1 264.0h3.5M292.8 269.0h3.5M374.4 269.0h3.5M440.8 270.0h3.5M326.0 271.0h6.5M519.4 271.0h3.5M540.5 271.0h6.5M217.3 272.0h3.5M329.0 272.0h6.5M588.9 272.0h6.5M114.5 274.0h3.5M175.0 274.0h6.5M368.3 274.0h3.5M377.4 274.0h3.5M256.5 278.0h3.5M634.2 278.0h3.5M471.0 280.0h3.5M516.4 280.0h3.5M250.5 281.0h3.5M250.5 282.0h3.5M546.6 282.0h3.5M277.7 285.0h3.5M634.2 285.0h3.5M268.6 286.0h3.5M446.9 286.0h3.5M519.4 286.0h3.5M268.6 287.0h3.5M522.4 292.0h18.6M637.2 292.0h3.5M519.4 294.0h9.6M368.3 295.0h3.5M156.8 296.0h6.5M187.1 296.0h6.5M543.5 296.0h3.5M634.2 296.0h3.5M135.7 297.0h3.5M159.9 297.0h6.5M543.5 297.0h3.5M634.2 297.0h3.5M637.2 298.0h3.5M226.3 299.0h3.5M214.2 301.0h6.5M123.6 303.0h6.5M132.7 303.0h3.5M540.5 303.0h3.5M546.6 303.0h3.5M353.2 304.0h3.5M546.6 304.0h3.5M156.8 310.0h3.5M486.1 312.0h3.5M528.4 312.0h3.5M640.2 312.0h3.5M486.1 313.0h3.5M525.4 313.0h3.5M486.1 314.0h3.5M486.1 315.0h3.5M483.1 316.0h3.5M480.1 317.0h3.5M283.7 318.0h3.5M625.1 318.0h9.6M138.7 319.0h3.5M407.6 319.0h3.5M471.0 320.0h3.5M483.1 320.0h3.5M555.6 320.0h3.5M371.3 322.0h6.5M165.9 323.0h3.5M483.1 323.0h6.5M483.1 324.0h3.5M238.4 326.0h3.5M480.1 326.0h3.5M202.2 329.0h3.5M377.4 329.0h3.5M483.1 329.0h3.5M114.5 330.0h6.5M202.2 330.0h3.5M594.9 330.0h3.5M202.2 331.0h3.5M359.3 331.0h3.5M522.4 331.0h9.6M359.3 332.0h3.5M368.3 337.0h3.5M341.1 340.0h3.5M172.0 341.0h3.5M286.8 341.0h3.5M368.3 341.0h3.5M483.1 341.0h6.5M172.0 342.0h3.5M371.3 342.0h6.5M510.3 342.0h3.5M220.3 344.0h3.5M483.1 345.0h6.5M377.4 347.0h3.5M640.2 347.0h3.5M193.1 348.0h3.5M371.3 348.0h3.5M486.1 348.0h3.5M513.3 348.0h3.5M531.5 348.0h3.5M371.3 349.0h3.5M480.1 349.0h3.5M480.1 350.0h6.5M540.5 350.0h3.5M190.1 351.0h6.5M368.3 351.0h3.5M543.5 351.0h3.5M483.1 352.0h3.5M196.1 353.0h3.5M117.6 354.0h3.5M120.6 355.0h3.5M196.1 355.0h3.5M483.1 355.0h3.5M483.1 358.0h3.5M486.1 359.0h3.5M637.2 359.0h6.5M317.0 360.0h3.5M471.0 360.0h3.5M480.1 360.0h3.5M486.1 360.0h3.5M480.1 361.0h3.5M486.1 361.0h3.5M531.5 361.0h6.5M486.1 362.0h3.5M286.8 366.0h3.5M350.2 366.0h3.5M274.7 367.0h3.5M326.0 367.0h3.5M347.2 367.0h3.5M483.1 367.0h3.5M552.6 367.0h3.5M214.2 368.0h3.5M483.1 368.0h3.5M211.2 369.0h6.5M232.4 369.0h3.5M468.0 369.0h3.5M313.9 370.0h3.5M326.0 370.0h3.5M468.0 370.0h3.5M528.4 370.0h3.5M362.3 371.0h3.5M283.7 372.0h3.5M289.8 372.0h3.5M347.2 373.0h3.5M362.3 373.0h3.5M256.5 376.0h3.5M371.3 376.0h3.5M471.0 376.0h3.5M498.2 376.0h6.5M543.5 376.0h3.5M235.4 378.0h3.5M244.5 378.0h3.5M543.5 380.0h3.5M232.4 381.0h3.5M211.2 382.0h3.5M250.5 383.0h3.5M410.6 383.0h3.5M422.7 383.0h3.5M489.2 383.0h3.5"/><path stroke="#d8eff6" d="M238.4 128.0h3.5M486.1 128.0h3.5M558.7 128.0h3.5M537.5 129.0h3.5M374.4 130.0h3.5M407.6 130.0h6.5M567.7 130.0h6.5M492.2 131.0h3.5M181.0 132.0h12.6M232.4 132.0h3.5M283.7 132.0h3.5M196.1 133.0h3.5M365.3 133.0h3.5M135.7 134.0h3.5M156.8 134.0h3.5M172.0 134.0h3.5M193.1 134.0h6.5M510.3 134.0h3.5M519.4 134.0h3.5M156.8 135.0h3.5M510.3 135.0h6.5M525.4 135.0h6.5M120.6 137.0h3.5M120.6 138.0h3.5M135.7 138.0h3.5M522.4 138.0h3.5M280.7 139.0h3.5M313.9 139.0h3.5M407.6 139.0h3.5M507.3 139.0h3.5M522.4 139.0h6.5M247.5 140.0h3.5M274.7 140.0h6.5M407.6 140.0h3.5M178.0 141.0h3.5M247.5 141.0h3.5M407.6 141.0h9.6M178.0 142.0h3.5M413.6 142.0h3.5M138.7 144.0h3.5M220.3 144.0h3.5M516.4 144.0h3.5M480.1 145.0h3.5M519.4 145.0h3.5M175.0 146.0h3.5M277.7 146.0h3.5M486.1 146.0h3.5M368.3 148.0h3.5M522.4 148.0h6.5M531.5 148.0h3.5M147.8 149.0h3.5M274.7 149.0h3.5M283.7 149.0h3.5M359.3 149.0h3.5M368.3 149.0h3.5M196.1 150.0h3.5M304.9 150.0h6.5M313.9 150.0h3.5M534.5 150.0h3.5M543.5 150.0h3.5M135.7 151.0h3.5M135.7 152.0h3.5M289.8 152.0h3.5M304.9 152.0h3.5M307.9 153.0h3.5M495.2 154.0h6.5M561.7 154.0h3.5M622.1 154.0h6.5M274.7 155.0h3.5M289.8 155.0h3.5M480.1 155.0h6.5M495.2 155.0h3.5M501.3 155.0h3.5M280.7 157.0h3.5M347.2 157.0h3.5M377.4 157.0h3.5M552.6 157.0h6.5M634.2 157.0h6.5M498.2 158.0h3.5M525.4 158.0h3.5M132.7 159.0h3.5M147.8 159.0h3.5M144.8 160.0h6.5M483.1 160.0h3.5M132.7 161.0h3.5M144.8 161.0h6.5M452.9 161.0h6.5M525.4 161.0h3.5M147.8 162.0h3.5M522.4 162.0h3.5M525.4 165.0h3.5M546.6 165.0h3.5M362.3 166.0h3.5M546.6 166.0h3.5M392.5 167.0h3.5M546.6 167.0h3.5M507.3 168.0h3.5M480.1 169.0h6.5M516.4 169.0h3.5M534.5 169.0h3.5M159.9 170.0h3.5M205.2 170.0h3.5M380.4 170.0h3.5M483.1 170.0h3.5M516.4 170.0h6.5M159.9 171.0h6.5M483.1 171.0h3.5M513.3 171.0h3.5M540.5 171.0h3.5M156.8 173.0h9.6M199.1 173.0h3.5M295.8 176.0h3.5M646.3 176.0h3.5M295.8 177.0h3.5M286.8 181.0h3.5M289.8 182.0h3.5M250.5 183.0h3.5M368.3 183.0h3.5M250.5 184.0h3.5M489.2 184.0h6.5M498.2 184.0h3.5M486.1 185.0h3.5M492.2 185.0h3.5M492.2 186.0h3.5M522.4 186.0h3.5M377.4 187.0h3.5M117.6 190.0h3.5M383.4 190.0h3.5M132.7 191.0h3.5M147.8 191.0h3.5M250.5 191.0h3.5M483.1 191.0h3.5M492.2 191.0h3.5M507.3 193.0h3.5M507.3 194.0h3.5M114.5 195.0h3.5M483.1 195.0h3.5M507.3 195.0h3.5M114.5 196.0h3.5M492.2 197.0h6.5M247.5 198.0h3.5M486.1 199.0h3.5M483.1 200.0h3.5M489.2 200.0h3.5M570.7 204.0h3.5M480.1 205.0h3.5M558.7 205.0h6.5M117.6 206.0h3.5M540.5 206.0h3.5M558.7 206.0h6.5M265.6 207.0h3.5M561.7 207.0h3.5M616.1 207.0h6.5M483.1 209.0h3.5M371.3 219.0h3.5M196.1 222.0h3.5M274.7 222.0h3.5M368.3 222.0h3.5M368.3 223.0h3.5M486.1 227.0h3.5M178.0 228.0h3.5M253.5 230.0h3.5M519.4 230.0h3.5M144.8 231.0h3.5M468.0 231.0h3.5M117.6 233.0h3.5M220.3 234.0h3.5M338.1 234.0h6.5M480.1 235.0h9.6M483.1 236.0h3.5M156.8 237.0h3.5M597.9 237.0h12.6M187.1 239.0h3.5M552.6 240.0h3.5M628.1 240.0h3.5M156.8 241.0h3.5M156.8 243.0h6.5M196.1 244.0h3.5M153.8 245.0h3.5M196.1 245.0h3.5M413.6 247.0h3.5M507.3 248.0h3.5M522.4 248.0h3.5M283.7 249.0h3.5M368.3 250.0h3.5M159.9 251.0h3.5M368.3 251.0h6.5M368.3 252.0h3.5M634.2 254.0h3.5M120.6 255.0h3.5M371.3 255.0h3.5M371.3 256.0h3.5M208.2 258.0h3.5M283.7 258.0h3.5M410.6 258.0h3.5M313.9 259.0h3.5M117.6 261.0h3.5M187.1 261.0h3.5M250.5 261.0h3.5M187.1 262.0h3.5M187.1 263.0h3.5M368.3 263.0h6.5M483.1 263.0h6.5M646.3 263.0h3.5M329.0 264.0h3.5M558.7 264.0h9.6M232.4 265.0h3.5M377.4 265.0h3.5M555.6 265.0h3.5M483.1 266.0h3.5M229.4 270.0h3.5M371.3 270.0h3.5M229.4 271.0h3.5M516.4 273.0h9.6M443.9 275.0h3.5M250.5 277.0h6.5M141.7 278.0h3.5M286.8 278.0h3.5M313.9 280.0h3.5M238.4 281.0h3.5M238.4 282.0h3.5M549.6 282.0h3.5M193.1 283.0h3.5M525.4 284.0h9.6M449.9 285.0h3.5M525.4 285.0h3.5M640.2 285.0h3.5M153.8 286.0h3.5M377.4 286.0h3.5M522.4 286.0h9.6M153.8 287.0h3.5M377.4 287.0h3.5M153.8 288.0h3.5M123.6 289.0h3.5M217.3 290.0h3.5M377.4 290.0h3.5M181.0 291.0h3.5M196.1 291.0h6.5M371.3 291.0h3.5M377.4 291.0h3.5M178.0 293.0h6.5M534.5 296.0h3.5M531.5 301.0h3.5M214.2 302.0h3.5M531.5 302.0h6.5M537.5 304.0h6.5M313.9 306.0h3.5M347.2 307.0h6.5M525.4 308.0h9.6M537.5 308.0h6.5M205.2 309.0h3.5M365.3 309.0h3.5M428.7 309.0h3.5M205.2 310.0h3.5M184.0 311.0h3.5M486.1 311.0h3.5M519.4 311.0h9.6M555.6 311.0h3.5M637.2 311.0h3.5M277.7 312.0h3.5M525.4 312.0h3.5M419.7 313.0h3.5M640.2 313.0h6.5M190.1 314.0h3.5M307.9 314.0h6.5M640.2 314.0h3.5M310.9 315.0h3.5M486.1 320.0h3.5M546.6 321.0h6.5M329.0 322.0h3.5M486.1 322.0h3.5M480.1 323.0h3.5M196.1 324.0h3.5M368.3 325.0h6.5M483.1 325.0h3.5M178.0 328.0h3.5M298.8 329.0h3.5M156.8 331.0h6.5M486.1 334.0h3.5M196.1 335.0h3.5M377.4 335.0h3.5M537.5 336.0h3.5M187.1 337.0h3.5M368.3 338.0h3.5M552.6 338.0h3.5M446.9 341.0h3.5M552.6 341.0h3.5M513.3 342.0h3.5M483.1 343.0h3.5M377.4 344.0h3.5M483.1 344.0h3.5M534.5 345.0h3.5M377.4 346.0h3.5M480.1 347.0h9.6M552.6 348.0h3.5M531.5 349.0h3.5M543.5 349.0h9.6M256.5 351.0h3.5M377.4 351.0h3.5M196.1 352.0h3.5M371.3 352.0h3.5M480.1 352.0h3.5M368.3 353.0h3.5M138.7 357.0h3.5M153.8 357.0h6.5M265.6 357.0h3.5M401.6 358.0h6.5M138.7 359.0h3.5M377.4 359.0h3.5M643.2 359.0h3.5M259.6 360.0h3.5M631.2 360.0h6.5M132.7 361.0h3.5M175.0 362.0h6.5M268.6 362.0h3.5M178.0 363.0h3.5M268.6 363.0h3.5M525.4 363.0h6.5M480.1 364.0h3.5M558.7 364.0h3.5M350.2 365.0h3.5M558.7 365.0h3.5M202.2 366.0h3.5M256.5 366.0h9.6M480.1 366.0h9.6M220.3 367.0h3.5M241.4 367.0h6.5M323.0 367.0h3.5M350.2 367.0h3.5M359.3 367.0h3.5M377.4 367.0h3.5M486.1 367.0h3.5M259.6 368.0h6.5M323.0 368.0h3.5M341.1 368.0h3.5M159.9 369.0h3.5M313.9 369.0h3.5M344.2 369.0h3.5M135.7 370.0h3.5M159.9 370.0h3.5M317.0 370.0h3.5M329.0 370.0h3.5M353.2 370.0h3.5M543.5 370.0h3.5M135.7 371.0h6.5M286.8 371.0h6.5M317.0 371.0h3.5M326.0 371.0h6.5M153.8 372.0h3.5M298.8 372.0h3.5M117.6 373.0h3.5M117.6 374.0h3.5M326.0 374.0h3.5M483.1 374.0h6.5M507.3 374.0h3.5M326.0 375.0h3.5M368.3 375.0h3.5M498.2 375.0h3.5M250.5 376.0h6.5M495.2 376.0h3.5M356.2 377.0h3.5M480.1 377.0h3.5M214.2 378.0h3.5M392.5 378.0h3.5M486.1 378.0h3.5M271.6 379.0h3.5M323.0 379.0h3.5M199.1 380.0h3.5M132.7 381.0h3.5M199.1 381.0h3.5M283.7 381.0h3.5M501.3 381.0h3.5M199.1 382.0h3.5M159.9 383.0h3.5M277.7 383.0h6.5M492.2 383.0h3.5"/><path stroke="#fee9cf" d="M202.2 128.0h6.5M268.6 128.0h3.5M277.7 128.0h3.5M383.4 128.0h3.5M504.3 128.0h3.5M513.3 128.0h9.6M540.5 128.0h3.5M622.1 128.0h3.5M202.2 129.0h3.5M241.4 129.0h3.5M277.7 129.0h6.5M522.4 129.0h3.5M531.5 129.0h3.5M564.7 129.0h3.5M570.7 129.0h3.5M129.7 130.0h3.5M241.4 130.0h3.5M301.9 130.0h3.5M540.5 130.0h3.5M594.9 130.0h6.5M613.0 130.0h3.5M301.9 131.0h3.5M516.4 131.0h9.6M585.8 131.0h3.5M117.6 132.0h3.5M326.0 132.0h3.5M365.3 132.0h3.5M501.3 132.0h3.5M507.3 132.0h3.5M573.8 132.0h15.6M165.9 133.0h3.5M501.3 133.0h3.5M628.1 133.0h3.5M153.8 134.0h3.5M377.4 134.0h3.5M416.7 134.0h3.5M471.0 134.0h3.5M483.1 134.0h3.5M573.8 134.0h3.5M591.9 134.0h3.5M597.9 134.0h9.6M610.0 134.0h3.5M628.1 134.0h3.5M634.2 134.0h3.5M196.1 135.0h3.5M471.0 135.0h3.5M483.1 135.0h6.5M573.8 135.0h6.5M591.9 135.0h3.5M600.9 135.0h6.5M235.4 136.0h6.5M471.0 136.0h3.5M238.4 137.0h6.5M283.7 137.0h3.5M295.8 137.0h3.5M525.4 137.0h3.5M138.7 138.0h3.5M486.1 138.0h3.5M274.7 139.0h3.5M365.3 139.0h3.5M513.3 139.0h3.5M573.8 139.0h6.5M202.2 140.0h3.5M295.8 140.0h3.5M313.9 140.0h3.5M377.4 140.0h3.5M114.5 141.0h3.5M132.7 141.0h6.5M172.0 141.0h3.5M187.1 141.0h3.5M295.8 141.0h3.5M377.4 141.0h3.5M483.1 141.0h6.5M510.3 142.0h6.5M543.5 142.0h3.5M510.3 143.0h6.5M555.6 143.0h3.5M582.8 143.0h12.6M628.1 143.0h6.5M486.1 144.0h3.5M495.2 144.0h3.5M501.3 144.0h3.5M585.8 144.0h6.5M640.2 144.0h3.5M483.1 145.0h6.5M501.3 145.0h9.6M579.8 145.0h6.5M141.7 146.0h6.5M537.5 146.0h6.5M265.6 148.0h3.5M558.7 148.0h3.5M579.8 148.0h3.5M202.2 149.0h3.5M280.7 149.0h3.5M310.9 149.0h3.5M365.3 149.0h3.5M501.3 149.0h3.5M643.2 149.0h3.5M129.7 150.0h3.5M138.7 150.0h6.5M184.0 150.0h3.5M295.8 150.0h3.5M323.0 150.0h3.5M359.3 150.0h3.5M471.0 150.0h3.5M114.5 151.0h6.5M359.3 151.0h3.5M573.8 151.0h3.5M607.0 151.0h3.5M117.6 152.0h3.5M241.4 152.0h6.5M594.9 152.0h3.5M117.6 153.0h3.5M144.8 153.0h3.5M613.0 153.0h3.5M117.6 154.0h3.5M156.8 154.0h3.5M217.3 154.0h6.5M413.6 154.0h3.5M492.2 154.0h3.5M585.8 154.0h3.5M628.1 154.0h6.5M138.7 155.0h3.5M193.1 155.0h6.5M217.3 155.0h6.5M265.6 155.0h3.5M362.3 155.0h3.5M425.7 155.0h3.5M181.0 156.0h3.5M196.1 156.0h3.5M217.3 156.0h6.5M504.3 156.0h3.5M570.7 156.0h3.5M220.3 157.0h3.5M359.3 157.0h3.5M613.0 157.0h6.5M178.0 158.0h3.5M196.1 158.0h3.5M588.9 158.0h3.5M616.1 158.0h3.5M555.6 160.0h3.5M640.2 160.0h3.5M202.2 161.0h3.5M238.4 161.0h3.5M253.5 161.0h9.6M283.7 161.0h3.5M519.4 161.0h3.5M537.5 161.0h3.5M555.6 161.0h3.5M561.7 161.0h3.5M576.8 161.0h6.5M362.3 162.0h3.5M537.5 162.0h3.5M561.7 162.0h3.5M604.0 162.0h3.5M622.1 162.0h9.6M350.2 163.0h6.5M483.1 163.0h6.5M513.3 163.0h3.5M625.1 163.0h3.5M353.2 164.0h3.5M362.3 164.0h3.5M410.6 164.0h3.5M486.1 164.0h3.5M531.5 164.0h3.5M537.5 164.0h3.5M410.6 165.0h12.6M510.3 165.0h6.5M159.9 166.0h3.5M295.8 166.0h3.5M395.5 166.0h3.5M416.7 166.0h3.5M573.8 166.0h6.5M625.1 166.0h3.5M480.1 167.0h3.5M573.8 167.0h6.5M588.9 167.0h3.5M625.1 167.0h3.5M178.0 168.0h3.5M277.7 168.0h3.5M422.7 168.0h3.5M625.1 168.0h3.5M238.4 169.0h3.5M513.3 169.0h3.5M552.6 169.0h3.5M190.1 170.0h3.5M326.0 170.0h3.5M534.5 170.0h3.5M607.0 170.0h3.5M190.1 171.0h3.5M298.8 171.0h3.5M507.3 171.0h3.5M582.8 171.0h6.5M449.9 172.0h3.5M543.5 172.0h3.5M619.1 172.0h3.5M649.3 172.0h3.5M114.5 173.0h3.5M277.7 173.0h3.5M513.3 173.0h3.5M537.5 173.0h6.5M549.6 173.0h3.5M564.7 173.0h3.5M643.2 173.0h3.5M649.3 173.0h3.5M135.7 174.0h6.5M326.0 174.0h3.5M501.3 174.0h3.5M307.9 175.0h3.5M313.9 175.0h3.5M480.1 175.0h3.5M199.1 176.0h3.5M238.4 176.0h3.5M283.7 176.0h6.5M597.9 176.0h3.5M637.2 176.0h3.5M286.8 177.0h3.5M525.4 177.0h3.5M597.9 177.0h9.6M625.1 177.0h3.5M238.4 179.0h3.5M359.3 179.0h3.5M483.1 179.0h3.5M304.9 180.0h3.5M531.5 180.0h6.5M214.2 181.0h3.5M238.4 181.0h3.5M431.8 181.0h3.5M531.5 181.0h3.5M582.8 181.0h6.5M531.5 182.0h3.5M564.7 182.0h3.5M582.8 182.0h3.5M516.4 183.0h3.5M573.8 183.0h6.5M646.3 183.0h3.5M193.1 184.0h3.5M181.0 185.0h3.5M187.1 185.0h3.5M283.7 185.0h3.5M649.3 185.0h3.5M181.0 186.0h3.5M643.2 186.0h6.5M292.8 187.0h3.5M480.1 187.0h3.5M510.3 187.0h3.5M534.5 187.0h3.5M573.8 187.0h3.5M513.3 188.0h6.5M522.4 188.0h6.5M534.5 188.0h3.5M646.3 188.0h6.5M274.7 189.0h3.5M280.7 189.0h3.5M513.3 189.0h3.5M555.6 189.0h3.5M144.8 190.0h6.5M178.0 190.0h3.5M199.1 190.0h3.5M274.7 190.0h3.5M295.8 190.0h3.5M410.6 190.0h3.5M492.2 190.0h3.5M193.1 191.0h3.5M274.7 191.0h3.5M313.9 191.0h3.5M573.8 191.0h3.5M610.0 191.0h3.5M622.1 191.0h6.5M126.6 192.0h3.5M193.1 192.0h3.5M289.8 192.0h3.5M480.1 192.0h9.6M573.8 192.0h6.5M613.0 192.0h6.5M193.1 193.0h3.5M265.6 193.0h3.5M483.1 193.0h6.5M510.3 193.0h3.5M522.4 193.0h3.5M570.7 193.0h3.5M616.1 193.0h3.5M634.2 193.0h3.5M193.1 194.0h3.5M226.3 194.0h3.5M265.6 194.0h3.5M241.4 195.0h3.5M265.6 195.0h3.5M286.8 196.0h3.5M196.1 197.0h3.5M380.4 197.0h3.5M410.6 197.0h3.5M628.1 197.0h9.6M332.1 198.0h6.5M513.3 198.0h6.5M567.7 198.0h3.5M187.1 199.0h3.5M616.1 199.0h3.5M613.0 200.0h3.5M250.5 201.0h6.5M501.3 201.0h3.5M640.2 201.0h3.5M410.6 202.0h3.5M564.7 202.0h6.5M153.8 203.0h3.5M232.4 204.0h3.5M280.7 204.0h3.5M573.8 204.0h3.5M217.3 205.0h3.5M232.4 205.0h3.5M220.3 206.0h3.5M582.8 206.0h9.6M610.0 206.0h3.5M135.7 207.0h3.5M274.7 207.0h3.5M365.3 207.0h3.5M519.4 207.0h3.5M588.9 207.0h3.5M610.0 207.0h6.5M594.9 208.0h9.6M534.5 211.0h3.5M383.4 219.0h3.5M613.0 219.0h6.5M181.0 220.0h3.5M238.4 220.0h3.5M283.7 220.0h3.5M392.5 220.0h6.5M238.4 221.0h3.5M392.5 221.0h6.5M117.6 222.0h3.5M295.8 222.0h3.5M552.6 222.0h3.5M295.8 223.0h3.5M425.7 223.0h6.5M181.0 224.0h3.5M295.8 224.0h3.5M135.7 226.0h3.5M196.1 226.0h3.5M153.8 227.0h3.5M247.5 227.0h6.5M576.8 227.0h3.5M619.1 227.0h3.5M247.5 228.0h3.5M329.0 229.0h3.5M335.1 229.0h3.5M573.8 229.0h6.5M573.8 230.0h12.6M313.9 231.0h3.5M519.4 231.0h3.5M313.9 232.0h3.5M531.5 232.0h3.5M313.9 233.0h3.5M564.7 233.0h3.5M165.9 234.0h3.5M313.9 234.0h3.5M543.5 234.0h6.5M570.7 234.0h3.5M268.6 235.0h3.5M543.5 235.0h3.5M443.9 236.0h3.5M579.8 236.0h3.5M443.9 237.0h3.5M241.4 238.0h3.5M516.4 238.0h6.5M135.7 239.0h3.5M350.2 239.0h3.5M634.2 239.0h3.5M132.7 240.0h6.5M410.6 240.0h6.5M582.8 240.0h9.6M178.0 241.0h9.6M196.1 241.0h3.5M220.3 241.0h3.5M181.0 242.0h6.5M428.7 242.0h3.5M619.1 242.0h3.5M178.0 243.0h3.5M588.9 243.0h6.5M637.2 243.0h6.5M356.2 244.0h3.5M537.5 244.0h3.5M588.9 244.0h9.6M631.2 244.0h3.5M637.2 244.0h3.5M132.7 245.0h3.5M214.2 245.0h3.5M241.4 245.0h3.5M356.2 245.0h3.5M543.5 245.0h3.5M646.3 245.0h6.5M214.2 246.0h3.5M455.9 246.0h6.5M465.0 246.0h3.5M597.9 246.0h3.5M625.1 246.0h3.5M455.9 247.0h3.5M573.8 247.0h9.6M604.0 248.0h3.5M196.1 249.0h3.5M607.0 249.0h3.5M613.0 249.0h3.5M196.1 250.0h3.5M576.8 250.0h9.6M628.1 250.0h6.5M628.1 251.0h6.5M649.3 251.0h3.5M573.8 252.0h12.6M610.0 252.0h9.6M510.3 253.0h3.5M573.8 253.0h9.6M576.8 254.0h3.5M585.8 254.0h6.5M126.6 255.0h6.5M144.8 255.0h6.5M159.9 255.0h3.5M193.1 255.0h3.5M280.7 255.0h3.5M298.8 255.0h3.5M313.9 255.0h3.5M507.3 255.0h9.6M579.8 255.0h3.5M144.8 256.0h3.5M202.2 256.0h3.5M238.4 256.0h3.5M298.8 256.0h3.5M313.9 256.0h6.5M510.3 256.0h6.5M594.9 256.0h3.5M202.2 257.0h3.5M220.3 257.0h3.5M262.6 257.0h3.5M543.5 257.0h3.5M558.7 257.0h6.5M135.7 258.0h3.5M196.1 258.0h3.5M329.0 258.0h3.5M132.7 259.0h9.6M265.6 259.0h3.5M329.0 259.0h3.5M570.7 259.0h3.5M628.1 259.0h3.5M649.3 259.0h3.5M193.1 260.0h3.5M383.4 260.0h3.5M576.8 260.0h3.5M175.0 261.0h3.5M120.6 262.0h3.5M401.6 262.0h3.5M531.5 262.0h3.5M241.4 264.0h3.5M531.5 264.0h3.5M613.0 264.0h3.5M619.1 264.0h3.5M631.2 264.0h9.6M153.8 265.0h3.5M190.1 265.0h3.5M525.4 265.0h3.5M585.8 265.0h9.6M613.0 265.0h3.5M335.1 266.0h3.5M573.8 266.0h3.5M588.9 266.0h3.5M573.8 267.0h9.6M634.2 267.0h6.5M181.0 268.0h3.5M422.7 268.0h3.5M262.6 269.0h3.5M576.8 269.0h3.5M637.2 269.0h3.5M117.6 270.0h3.5M165.9 270.0h3.5M588.9 270.0h3.5M117.6 271.0h3.5M132.7 271.0h3.5M184.0 271.0h6.5M576.8 271.0h3.5M600.9 271.0h3.5M610.0 271.0h6.5M310.9 272.0h3.5M567.7 272.0h3.5M138.7 274.0h3.5M144.8 274.0h3.5M193.1 274.0h3.5M256.5 274.0h3.5M265.6 274.0h3.5M537.5 274.0h3.5M540.5 275.0h3.5M640.2 276.0h3.5M277.7 278.0h3.5M277.7 279.0h3.5M326.0 279.0h6.5M347.2 279.0h3.5M383.4 279.0h6.5M156.8 280.0h6.5M244.5 280.0h3.5M274.7 280.0h3.5M326.0 280.0h3.5M362.3 280.0h3.5M622.1 280.0h3.5M649.3 280.0h3.5M313.9 281.0h3.5M507.3 281.0h3.5M522.4 282.0h3.5M537.5 282.0h3.5M631.2 282.0h3.5M156.8 283.0h3.5M649.3 283.0h3.5M434.8 284.0h3.5M172.0 285.0h3.5M144.8 286.0h3.5M428.7 286.0h6.5M628.1 286.0h3.5M135.7 287.0h3.5M625.1 287.0h3.5M640.2 287.0h3.5M123.6 288.0h3.5M132.7 288.0h6.5M175.0 288.0h3.5M223.3 288.0h6.5M407.6 288.0h3.5M129.7 289.0h3.5M277.7 289.0h3.5M434.8 289.0h6.5M199.1 290.0h3.5M525.4 290.0h3.5M634.2 290.0h6.5M144.8 291.0h3.5M190.1 291.0h3.5M619.1 291.0h15.6M392.5 292.0h3.5M126.6 293.0h3.5M628.1 293.0h6.5M619.1 294.0h3.5M132.7 295.0h3.5M190.1 295.0h3.5M280.7 296.0h3.5M138.7 297.0h3.5M383.4 297.0h3.5M519.4 297.0h6.5M277.7 298.0h3.5M341.1 299.0h3.5M187.1 300.0h3.5M196.1 300.0h3.5M323.0 300.0h3.5M341.1 300.0h3.5M347.2 300.0h3.5M507.3 301.0h3.5M582.8 301.0h3.5M607.0 301.0h3.5M144.8 302.0h3.5M256.5 302.0h3.5M350.2 302.0h3.5M588.9 302.0h3.5M156.8 303.0h3.5M229.4 303.0h3.5M271.6 303.0h3.5M280.7 303.0h3.5M468.0 303.0h6.5M507.3 303.0h3.5M516.4 303.0h9.6M537.5 303.0h3.5M610.0 303.0h3.5M625.1 303.0h3.5M190.1 304.0h3.5M468.0 304.0h3.5M591.9 304.0h3.5M628.1 304.0h6.5M132.7 305.0h3.5M223.3 305.0h3.5M229.4 305.0h9.6M513.3 305.0h3.5M531.5 305.0h9.6M591.9 305.0h3.5M132.7 306.0h3.5M329.0 307.0h3.5M144.8 308.0h3.5M401.6 308.0h3.5M434.8 308.0h3.5M604.0 308.0h3.5M628.1 308.0h6.5M274.7 309.0h6.5M401.6 309.0h3.5M422.7 309.0h3.5M558.7 309.0h3.5M591.9 309.0h3.5M622.1 309.0h9.6M138.7 310.0h6.5M223.3 310.0h3.5M422.7 310.0h3.5M522.4 310.0h6.5M558.7 310.0h3.5M591.9 310.0h3.5M597.9 310.0h6.5M407.6 311.0h3.5M196.1 312.0h3.5M455.9 312.0h3.5M585.8 312.0h6.5M594.9 312.0h3.5M600.9 312.0h3.5M643.2 312.0h3.5M585.8 313.0h3.5M144.8 314.0h3.5M196.1 314.0h3.5M591.9 314.0h3.5M604.0 314.0h3.5M628.1 314.0h6.5M114.5 315.0h3.5M196.1 315.0h3.5M280.7 315.0h3.5M256.5 316.0h6.5M280.7 316.0h3.5M537.5 316.0h3.5M144.8 317.0h3.5M280.7 317.0h3.5M582.8 317.0h3.5M588.9 317.0h6.5M610.0 317.0h3.5M634.2 317.0h12.6M280.7 318.0h3.5M546.6 318.0h6.5M561.7 318.0h6.5M588.9 318.0h12.6M613.0 318.0h3.5M637.2 318.0h9.6M220.3 319.0h3.5M280.7 319.0h3.5M280.7 320.0h3.5M232.4 321.0h3.5M564.7 321.0h3.5M600.9 321.0h3.5M138.7 322.0h3.5M153.8 322.0h3.5M558.7 322.0h6.5M604.0 322.0h3.5M310.9 323.0h3.5M446.9 323.0h6.5M607.0 323.0h3.5M634.2 323.0h6.5M576.8 324.0h18.6M410.6 325.0h3.5M540.5 325.0h3.5M561.7 325.0h3.5M576.8 325.0h3.5M597.9 325.0h9.6M610.0 325.0h3.5M147.8 326.0h3.5M159.9 327.0h6.5M168.9 327.0h3.5M600.9 327.0h3.5M162.9 328.0h3.5M274.7 328.0h3.5M313.9 328.0h3.5M607.0 328.0h3.5M132.7 329.0h6.5M274.7 329.0h3.5M223.3 330.0h3.5M341.1 330.0h3.5M468.0 330.0h3.5M132.7 331.0h6.5M199.1 331.0h3.5M341.1 331.0h3.5M468.0 331.0h3.5M640.2 331.0h3.5M292.8 332.0h3.5M362.3 332.0h3.5M386.5 332.0h3.5M468.0 332.0h3.5M591.9 332.0h3.5M597.9 332.0h12.6M640.2 332.0h3.5M338.1 333.0h3.5M365.3 333.0h3.5M468.0 333.0h3.5M597.9 333.0h12.6M132.7 334.0h3.5M471.0 334.0h6.5M619.1 335.0h6.5M217.3 336.0h3.5M579.8 336.0h3.5M622.1 336.0h3.5M256.5 337.0h6.5M425.7 337.0h3.5M480.1 337.0h3.5M564.7 337.0h3.5M622.1 337.0h6.5M643.2 337.0h3.5M196.1 338.0h6.5M640.2 339.0h3.5M114.5 341.0h3.5M168.9 341.0h3.5M193.1 341.0h6.5M558.7 341.0h3.5M564.7 341.0h3.5M468.0 342.0h3.5M561.7 343.0h3.5M362.3 344.0h3.5M564.7 344.0h3.5M196.1 345.0h3.5M235.4 346.0h3.5M241.4 346.0h3.5M347.2 346.0h3.5M555.6 346.0h3.5M196.1 347.0h3.5M510.3 347.0h3.5M138.7 348.0h6.5M196.1 348.0h6.5M250.5 348.0h3.5M471.0 348.0h3.5M519.4 348.0h6.5M205.2 349.0h3.5M362.3 349.0h3.5M558.7 349.0h3.5M634.2 349.0h3.5M310.9 350.0h3.5M634.2 350.0h3.5M307.9 351.0h6.5M555.6 351.0h6.5M591.9 351.0h9.6M631.2 351.0h3.5M289.8 352.0h3.5M513.3 352.0h6.5M558.7 352.0h9.6M634.2 352.0h9.6M132.7 353.0h3.5M250.5 353.0h3.5M561.7 353.0h6.5M622.1 353.0h9.6M126.6 354.0h9.6M153.8 354.0h3.5M211.2 354.0h3.5M126.6 355.0h9.6M265.6 355.0h3.5M434.8 355.0h3.5M196.1 356.0h3.5M643.2 356.0h3.5M117.6 357.0h3.5M519.4 357.0h3.5M558.7 357.0h9.6M172.0 358.0h12.6M129.7 359.0h6.5M274.7 359.0h3.5M543.5 359.0h6.5M138.7 360.0h6.5M546.6 360.0h3.5M558.7 360.0h3.5M576.8 360.0h6.5M585.8 360.0h3.5M594.9 360.0h6.5M613.0 360.0h3.5M643.2 360.0h3.5M138.7 361.0h3.5M247.5 361.0h6.5M286.8 361.0h3.5M295.8 361.0h3.5M416.7 362.0h3.5M147.8 363.0h3.5M232.4 363.0h3.5M238.4 363.0h3.5M277.7 363.0h6.5M320.0 363.0h3.5M416.7 363.0h3.5M558.7 363.0h3.5M564.7 363.0h6.5M120.6 364.0h3.5M156.8 364.0h6.5M232.4 364.0h6.5M320.0 364.0h3.5M413.6 364.0h3.5M564.7 364.0h3.5M622.1 364.0h9.6M640.2 364.0h3.5M114.5 365.0h3.5M153.8 365.0h9.6M326.0 365.0h3.5M465.0 365.0h3.5M625.1 365.0h3.5M132.7 366.0h3.5M326.0 366.0h3.5M362.3 366.0h6.5M253.5 367.0h3.5M292.8 367.0h3.5M301.9 367.0h3.5M341.1 367.0h3.5M365.3 367.0h3.5M465.0 367.0h3.5M480.1 367.0h3.5M588.9 367.0h3.5M135.7 368.0h3.5M428.7 368.0h3.5M588.9 368.0h9.6M132.7 369.0h3.5M250.5 369.0h3.5M256.5 369.0h3.5M292.8 369.0h3.5M428.7 369.0h3.5M446.9 369.0h3.5M555.6 369.0h3.5M561.7 369.0h3.5M138.7 370.0h3.5M280.7 370.0h3.5M338.1 370.0h3.5M359.3 370.0h3.5M410.6 370.0h3.5M428.7 370.0h3.5M483.1 370.0h3.5M631.2 370.0h3.5M159.9 371.0h3.5M181.0 371.0h3.5M428.7 371.0h3.5M594.9 371.0h6.5M135.7 372.0h3.5M181.0 372.0h3.5M238.4 372.0h3.5M440.8 372.0h3.5M597.9 372.0h3.5M135.7 373.0h3.5M144.8 373.0h3.5M159.9 373.0h3.5M353.2 373.0h3.5M162.9 374.0h3.5M172.0 374.0h3.5M190.1 374.0h6.5M353.2 374.0h3.5M383.4 374.0h3.5M558.7 374.0h6.5M114.5 375.0h3.5M144.8 375.0h3.5M162.9 375.0h3.5M172.0 375.0h6.5M202.2 375.0h3.5M214.2 375.0h3.5M350.2 375.0h3.5M434.8 375.0h6.5M504.3 375.0h3.5M156.8 376.0h12.6M301.9 376.0h3.5M483.1 376.0h3.5M591.9 376.0h3.5M362.3 377.0h3.5M483.1 377.0h3.5M181.0 378.0h3.5M196.1 378.0h3.5M326.0 378.0h3.5M347.2 378.0h6.5M359.3 378.0h3.5M480.1 378.0h3.5M489.2 378.0h15.6M567.7 378.0h6.5M625.1 378.0h6.5M175.0 379.0h3.5M283.7 379.0h3.5M329.0 379.0h3.5M455.9 379.0h3.5M531.5 379.0h3.5M625.1 379.0h3.5M232.4 380.0h3.5M250.5 380.0h3.5M323.0 380.0h3.5M356.2 380.0h3.5M153.8 381.0h3.5M196.1 381.0h3.5M326.0 381.0h3.5M365.3 381.0h3.5M561.7 381.0h3.5M129.7 382.0h3.5M274.7 382.0h3.5M516.4 382.0h3.5M564.7 382.0h3.5M591.9 382.0h12.6M610.0 382.0h3.5M120.6 383.0h3.5M129.7 383.0h6.5M147.8 383.0h3.5M274.7 383.0h3.5M286.8 383.0h3.5M329.0 383.0h3.5M347.2 383.0h3.5M480.1 383.0h3.5M516.4 383.0h3.5M613.0 383.0h3.5"/><path stroke="#fdd6a5" d="M619.1 128.0h3.5M265.6 129.0h3.5M377.4 129.0h3.5M498.2 129.0h6.5M525.4 129.0h3.5M628.1 129.0h3.5M132.7 130.0h9.6M144.8 130.0h3.5M320.0 130.0h3.5M443.9 130.0h3.5M498.2 130.0h3.5M576.8 130.0h9.6M489.2 131.0h3.5M543.5 131.0h3.5M573.8 131.0h3.5M634.2 131.0h3.5M165.9 132.0h3.5M489.2 132.0h3.5M628.1 132.0h3.5M214.2 133.0h3.5M525.4 133.0h3.5M178.0 134.0h3.5M274.7 134.0h3.5M283.7 134.0h6.5M365.3 134.0h3.5M537.5 134.0h9.6M283.7 135.0h3.5M504.3 135.0h3.5M540.5 135.0h3.5M144.8 136.0h3.5M504.3 136.0h6.5M634.2 136.0h6.5M274.7 137.0h3.5M365.3 137.0h3.5M504.3 137.0h6.5M238.4 138.0h3.5M280.7 138.0h3.5M607.0 138.0h3.5M628.1 138.0h3.5M301.9 139.0h3.5M582.8 139.0h3.5M172.0 140.0h3.5M371.3 140.0h3.5M175.0 141.0h3.5M181.0 141.0h3.5M591.9 141.0h12.6M138.7 142.0h3.5M280.7 142.0h3.5M546.6 142.0h6.5M588.9 142.0h6.5M238.4 144.0h3.5M280.7 144.0h3.5M359.3 144.0h3.5M365.3 144.0h3.5M465.0 144.0h3.5M184.0 145.0h9.6M607.0 145.0h3.5M138.7 146.0h3.5M607.0 146.0h3.5M607.0 147.0h3.5M168.9 148.0h3.5M301.9 148.0h3.5M362.3 148.0h3.5M613.0 148.0h3.5M619.1 148.0h3.5M168.9 149.0h3.5M238.4 149.0h3.5M286.8 149.0h3.5M295.8 149.0h3.5M573.8 149.0h6.5M159.9 150.0h3.5M347.2 150.0h3.5M365.3 150.0h3.5M564.7 150.0h3.5M607.0 150.0h3.5M634.2 150.0h6.5M126.6 151.0h3.5M159.9 151.0h3.5M196.1 151.0h6.5M232.4 151.0h3.5M274.7 152.0h3.5M359.3 152.0h3.5M159.9 153.0h3.5M274.7 153.0h3.5M129.7 154.0h3.5M159.9 154.0h3.5M277.7 155.0h3.5M588.9 155.0h6.5M132.7 156.0h3.5M162.9 156.0h3.5M196.1 157.0h3.5M362.3 157.0h3.5M516.4 157.0h6.5M591.9 157.0h3.5M610.0 157.0h3.5M190.1 158.0h3.5M534.5 158.0h3.5M555.6 158.0h3.5M582.8 158.0h3.5M591.9 158.0h6.5M640.2 158.0h3.5M162.9 159.0h9.6M190.1 159.0h3.5M202.2 159.0h3.5M392.5 159.0h3.5M543.5 159.0h3.5M634.2 159.0h3.5M392.5 160.0h3.5M277.7 161.0h3.5M362.3 161.0h6.5M507.3 161.0h3.5M531.5 161.0h3.5M552.6 161.0h3.5M643.2 161.0h6.5M486.1 162.0h3.5M534.5 162.0h3.5M579.8 162.0h3.5M646.3 162.0h3.5M480.1 163.0h3.5M534.5 163.0h9.6M634.2 163.0h3.5M313.9 164.0h3.5M413.6 164.0h3.5M513.3 164.0h9.6M610.0 164.0h3.5M196.1 165.0h3.5M362.3 165.0h3.5M486.1 165.0h3.5M498.2 165.0h3.5M504.3 165.0h6.5M117.6 166.0h3.5M443.9 166.0h3.5M501.3 166.0h9.6M534.5 166.0h12.6M135.7 167.0h3.5M540.5 167.0h3.5M622.1 167.0h3.5M159.9 168.0h3.5M549.6 168.0h3.5M156.8 169.0h3.5M486.1 169.0h3.5M573.8 169.0h6.5M649.3 169.0h3.5M144.8 170.0h3.5M486.1 170.0h3.5M573.8 170.0h3.5M519.4 171.0h6.5M597.9 171.0h3.5M625.1 171.0h9.6M471.0 173.0h3.5M519.4 173.0h3.5M534.5 173.0h3.5M588.9 173.0h3.5M597.9 173.0h3.5M637.2 173.0h3.5M513.3 174.0h3.5M534.5 174.0h3.5M501.3 175.0h6.5M522.4 175.0h3.5M313.9 176.0h3.5M341.1 176.0h3.5M407.6 176.0h3.5M501.3 176.0h3.5M579.8 176.0h3.5M289.8 177.0h3.5M501.3 177.0h3.5M501.3 178.0h3.5M265.6 179.0h3.5M480.1 179.0h3.5M610.0 180.0h3.5M501.3 181.0h3.5M507.3 181.0h3.5M528.4 181.0h3.5M534.5 181.0h3.5M561.7 182.0h3.5M407.6 183.0h3.5M483.1 183.0h3.5M510.3 183.0h6.5M607.0 183.0h3.5M628.1 183.0h3.5M365.3 184.0h3.5M483.1 184.0h3.5M564.7 184.0h6.5M277.7 185.0h3.5M359.3 185.0h3.5M407.6 185.0h3.5M534.5 185.0h3.5M564.7 185.0h3.5M597.9 185.0h3.5M516.4 186.0h3.5M558.7 186.0h3.5M573.8 186.0h3.5M501.3 187.0h6.5M528.4 187.0h6.5M555.6 187.0h6.5M628.1 187.0h3.5M531.5 188.0h3.5M573.8 188.0h9.6M153.8 189.0h3.5M347.2 189.0h3.5M492.2 189.0h3.5M576.8 189.0h15.6M646.3 189.0h3.5M573.8 190.0h6.5M588.9 190.0h6.5M610.0 190.0h3.5M646.3 190.0h6.5M199.1 191.0h3.5M543.5 191.0h9.6M576.8 191.0h6.5M591.9 191.0h6.5M286.8 192.0h3.5M250.5 193.0h3.5M543.5 193.0h3.5M362.3 194.0h3.5M543.5 194.0h6.5M362.3 195.0h6.5M525.4 195.0h6.5M567.7 195.0h3.5M594.9 195.0h6.5M362.3 196.0h3.5M591.9 196.0h3.5M175.0 197.0h3.5M307.9 197.0h3.5M576.8 197.0h3.5M591.9 197.0h18.6M175.0 198.0h3.5M307.9 198.0h6.5M486.1 198.0h3.5M597.9 198.0h12.6M175.0 199.0h3.5M455.9 199.0h3.5M172.0 200.0h3.5M640.2 200.0h3.5M528.4 201.0h3.5M643.2 201.0h3.5M244.5 202.0h3.5M247.5 203.0h3.5M446.9 203.0h3.5M507.3 204.0h3.5M613.0 204.0h3.5M649.3 204.0h3.5M374.4 205.0h3.5M486.1 205.0h3.5M567.7 205.0h3.5M649.3 205.0h3.5M597.9 206.0h3.5M570.7 207.0h3.5M492.2 209.0h6.5M498.2 210.0h3.5M516.4 210.0h15.6M597.9 210.0h12.6M489.2 211.0h3.5M525.4 211.0h9.6M576.8 219.0h3.5M558.7 220.0h3.5M558.7 221.0h9.6M277.7 222.0h3.5M558.7 222.0h6.5M649.3 222.0h3.5M141.7 223.0h3.5M561.7 223.0h6.5M573.8 225.0h3.5M582.8 226.0h6.5M613.0 228.0h3.5M196.1 229.0h3.5M332.1 229.0h3.5M416.7 229.0h3.5M558.7 229.0h3.5M610.0 229.0h3.5M558.7 230.0h3.5M610.0 230.0h3.5M190.1 231.0h3.5M552.6 231.0h3.5M558.7 231.0h6.5M610.0 231.0h3.5M628.1 231.0h3.5M129.7 234.0h3.5M175.0 234.0h3.5M196.1 234.0h3.5M268.6 234.0h3.5M649.3 234.0h3.5M196.1 235.0h3.5M159.9 236.0h3.5M132.7 238.0h3.5M377.4 238.0h3.5M573.8 238.0h3.5M184.0 240.0h3.5M265.6 240.0h3.5M446.9 240.0h3.5M573.8 240.0h3.5M625.1 240.0h3.5M202.2 241.0h3.5M265.6 241.0h3.5M585.8 241.0h3.5M262.6 242.0h3.5M368.3 242.0h3.5M507.3 242.0h6.5M634.2 242.0h6.5M368.3 243.0h3.5M579.8 243.0h3.5M594.9 243.0h3.5M619.1 243.0h3.5M625.1 243.0h3.5M552.6 244.0h3.5M619.1 244.0h3.5M159.9 245.0h3.5M619.1 245.0h3.5M217.3 246.0h3.5M326.0 246.0h3.5M519.4 246.0h3.5M570.7 246.0h6.5M141.7 247.0h3.5M217.3 247.0h6.5M232.4 247.0h3.5M516.4 247.0h3.5M516.4 248.0h3.5M597.9 248.0h3.5M628.1 248.0h6.5M120.6 249.0h3.5M280.7 249.0h3.5M543.5 249.0h3.5M199.1 250.0h3.5M552.6 250.0h3.5M613.0 250.0h3.5M625.1 250.0h3.5M640.2 250.0h3.5M144.8 251.0h3.5M531.5 251.0h3.5M350.2 252.0h6.5M631.2 253.0h6.5M178.0 254.0h3.5M558.7 254.0h3.5M114.5 255.0h3.5M178.0 255.0h3.5M208.2 255.0h3.5M604.0 255.0h3.5M643.2 255.0h3.5M649.3 255.0h3.5M250.5 256.0h3.5M132.7 258.0h3.5M187.1 258.0h3.5M247.5 259.0h3.5M567.7 259.0h3.5M549.6 260.0h3.5M607.0 260.0h3.5M582.8 261.0h3.5M175.0 262.0h3.5M465.0 263.0h3.5M622.1 264.0h9.6M132.7 265.0h3.5M172.0 265.0h3.5M313.9 265.0h3.5M440.8 265.0h3.5M552.6 265.0h3.5M558.7 265.0h6.5M628.1 265.0h6.5M181.0 266.0h3.5M232.4 266.0h3.5M613.0 266.0h3.5M634.2 266.0h9.6M640.2 267.0h6.5M564.7 268.0h3.5M392.5 270.0h3.5M585.8 271.0h3.5M419.7 272.0h3.5M147.8 273.0h3.5M147.8 274.0h3.5M465.0 274.0h3.5M516.4 274.0h6.5M555.6 274.0h3.5M579.8 274.0h3.5M628.1 274.0h3.5M241.4 275.0h3.5M323.0 275.0h3.5M247.5 276.0h3.5M274.7 276.0h3.5M356.2 276.0h9.6M247.5 277.0h3.5M274.7 277.0h3.5M323.0 278.0h6.5M335.1 278.0h3.5M356.2 278.0h3.5M465.0 278.0h3.5M135.7 279.0h3.5M573.8 279.0h3.5M238.4 280.0h6.5M365.3 280.0h3.5M437.8 280.0h3.5M537.5 280.0h3.5M573.8 280.0h3.5M646.3 280.0h3.5M132.7 281.0h3.5M471.0 281.0h3.5M510.3 281.0h3.5M132.7 282.0h3.5M175.0 282.0h3.5M534.5 283.0h12.6M649.3 284.0h3.5M268.6 285.0h3.5M422.7 285.0h3.5M434.8 285.0h3.5M628.1 285.0h3.5M295.8 286.0h3.5M196.1 287.0h3.5M120.6 288.0h3.5M196.1 288.0h3.5M419.7 288.0h3.5M519.4 288.0h21.6M555.6 288.0h3.5M187.1 289.0h3.5M247.5 289.0h3.5M410.6 289.0h3.5M419.7 289.0h6.5M153.8 290.0h3.5M428.7 290.0h3.5M628.1 290.0h6.5M416.7 291.0h3.5M422.7 292.0h3.5M471.0 292.0h3.5M540.5 292.0h3.5M193.1 293.0h3.5M259.6 293.0h3.5M422.7 293.0h3.5M428.7 293.0h3.5M199.1 294.0h3.5M543.5 294.0h6.5M265.6 295.0h3.5M286.8 295.0h3.5M619.1 295.0h3.5M619.1 296.0h6.5M510.3 297.0h3.5M138.7 298.0h3.5M522.4 298.0h21.6M365.3 299.0h3.5M522.4 299.0h6.5M531.5 299.0h3.5M153.8 300.0h3.5M329.0 300.0h3.5M335.1 300.0h3.5M525.4 300.0h3.5M531.5 300.0h3.5M555.6 300.0h3.5M362.3 301.0h6.5M585.8 301.0h6.5M120.6 302.0h6.5M326.0 302.0h6.5M516.4 302.0h3.5M622.1 302.0h6.5M172.0 303.0h6.5M187.1 303.0h3.5M283.7 303.0h12.6M558.7 303.0h3.5M564.7 303.0h3.5M607.0 303.0h3.5M613.0 303.0h3.5M622.1 303.0h3.5M181.0 304.0h9.6M286.8 304.0h3.5M619.1 304.0h3.5M362.3 306.0h3.5M625.1 306.0h6.5M607.0 307.0h9.6M250.5 308.0h3.5M265.6 308.0h3.5M594.9 310.0h3.5M265.6 311.0h3.5M371.3 311.0h3.5M564.7 311.0h3.5M613.0 311.0h3.5M144.8 312.0h3.5M383.4 312.0h6.5M537.5 312.0h3.5M383.4 313.0h3.5M383.4 314.0h3.5M588.9 314.0h3.5M159.9 315.0h6.5M362.3 315.0h3.5M480.1 315.0h6.5M604.0 315.0h12.6M516.4 316.0h3.5M543.5 316.0h3.5M564.7 316.0h3.5M208.2 317.0h3.5M283.7 317.0h3.5M552.6 317.0h3.5M525.4 318.0h6.5M610.0 318.0h3.5M159.9 319.0h3.5M486.1 319.0h3.5M525.4 319.0h12.6M597.9 319.0h3.5M519.4 321.0h3.5M178.0 322.0h3.5M335.1 322.0h3.5M362.3 322.0h3.5M138.7 323.0h3.5M187.1 323.0h3.5M540.5 323.0h3.5M604.0 323.0h3.5M613.0 323.0h3.5M561.7 324.0h6.5M564.7 325.0h3.5M326.0 326.0h3.5M416.7 326.0h6.5M555.6 326.0h3.5M579.8 326.0h3.5M196.1 327.0h3.5M347.2 327.0h3.5M555.6 327.0h3.5M241.4 328.0h3.5M310.9 328.0h3.5M416.7 328.0h3.5M604.0 328.0h3.5M362.3 329.0h3.5M588.9 329.0h3.5M193.1 330.0h3.5M350.2 330.0h3.5M591.9 330.0h3.5M591.9 331.0h6.5M223.3 332.0h3.5M326.0 332.0h3.5M525.4 332.0h3.5M594.9 332.0h3.5M637.2 332.0h3.5M362.3 333.0h3.5M250.5 334.0h3.5M576.8 334.0h3.5M604.0 334.0h6.5M184.0 335.0h3.5M217.3 335.0h3.5M561.7 335.0h3.5M616.1 335.0h3.5M510.3 337.0h3.5M519.4 337.0h3.5M534.5 337.0h3.5M549.6 337.0h6.5M597.9 337.0h3.5M610.0 337.0h6.5M534.5 338.0h3.5M135.7 339.0h6.5M380.4 339.0h3.5M262.6 341.0h3.5M338.1 341.0h3.5M353.2 341.0h3.5M431.8 341.0h3.5M468.0 341.0h3.5M576.8 341.0h3.5M610.0 341.0h9.6M132.7 342.0h3.5M323.0 342.0h3.5M350.2 342.0h3.5M564.7 342.0h3.5M350.2 343.0h3.5M362.3 343.0h3.5M558.7 343.0h3.5M564.7 343.0h6.5M326.0 344.0h3.5M600.9 344.0h6.5M600.9 345.0h3.5M238.4 346.0h3.5M250.5 346.0h3.5M471.0 346.0h6.5M597.9 346.0h3.5M610.0 346.0h3.5M265.6 347.0h3.5M474.1 347.0h3.5M555.6 347.0h3.5M265.6 348.0h3.5M265.6 349.0h3.5M555.6 349.0h3.5M564.7 349.0h3.5M144.8 350.0h3.5M552.6 350.0h6.5M153.8 351.0h3.5M579.8 351.0h12.6M640.2 351.0h6.5M220.3 352.0h3.5M259.6 352.0h3.5M280.7 352.0h3.5M362.3 352.0h3.5M552.6 352.0h3.5M585.8 352.0h3.5M597.9 352.0h3.5M153.8 353.0h3.5M540.5 353.0h9.6M585.8 353.0h3.5M362.3 354.0h3.5M561.7 354.0h6.5M643.2 354.0h3.5M350.2 356.0h6.5M480.1 356.0h6.5M537.5 356.0h6.5M256.5 357.0h6.5M362.3 357.0h3.5M561.7 358.0h6.5M634.2 358.0h3.5M153.8 359.0h6.5M196.1 359.0h3.5M250.5 359.0h3.5M365.3 359.0h3.5M525.4 359.0h3.5M594.9 359.0h3.5M640.2 360.0h3.5M241.4 361.0h3.5M507.3 361.0h6.5M597.9 361.0h3.5M640.2 361.0h3.5M196.1 362.0h3.5M253.5 362.0h3.5M196.1 363.0h3.5M326.0 363.0h3.5M573.8 363.0h3.5M591.9 363.0h3.5M613.0 363.0h6.5M634.2 363.0h6.5M519.4 364.0h3.5M567.7 364.0h3.5M591.9 364.0h3.5M597.9 364.0h3.5M129.7 365.0h3.5M196.1 365.0h3.5M295.8 365.0h6.5M446.9 365.0h3.5M534.5 365.0h6.5M561.7 365.0h3.5M591.9 365.0h3.5M597.9 365.0h3.5M129.7 366.0h3.5M208.2 366.0h3.5M446.9 366.0h3.5M543.5 366.0h3.5M129.7 367.0h3.5M168.9 367.0h3.5M250.5 367.0h3.5M362.3 367.0h3.5M462.0 367.0h3.5M495.2 367.0h6.5M519.4 367.0h3.5M558.7 367.0h3.5M579.8 367.0h3.5M172.0 368.0h3.5M184.0 368.0h3.5M462.0 368.0h3.5M607.0 368.0h3.5M138.7 369.0h3.5M190.1 369.0h3.5M274.7 369.0h3.5M483.1 369.0h3.5M558.7 369.0h3.5M117.6 370.0h3.5M168.9 370.0h6.5M181.0 370.0h3.5M214.2 370.0h3.5M558.7 370.0h3.5M628.1 370.0h3.5M132.7 371.0h3.5M162.9 371.0h3.5M168.9 371.0h6.5M190.1 371.0h3.5M250.5 371.0h6.5M356.2 371.0h3.5M504.3 371.0h3.5M634.2 371.0h3.5M132.7 372.0h3.5M168.9 372.0h6.5M362.3 372.0h3.5M132.7 373.0h3.5M147.8 373.0h3.5M202.2 373.0h3.5M217.3 373.0h3.5M217.3 374.0h3.5M341.1 374.0h3.5M350.2 374.0h3.5M465.0 374.0h3.5M576.8 374.0h3.5M610.0 374.0h3.5M117.6 375.0h3.5M135.7 375.0h6.5M277.7 375.0h3.5M471.0 375.0h3.5M513.3 375.0h3.5M564.7 375.0h3.5M576.8 375.0h3.5M600.9 375.0h3.5M643.2 375.0h3.5M117.6 376.0h3.5M277.7 376.0h3.5M283.7 376.0h3.5M513.3 376.0h3.5M519.4 376.0h3.5M567.7 376.0h9.6M579.8 376.0h3.5M600.9 376.0h6.5M156.8 377.0h6.5M238.4 377.0h3.5M271.6 377.0h3.5M329.0 377.0h3.5M522.4 377.0h3.5M531.5 377.0h6.5M613.0 377.0h3.5M117.6 378.0h3.5M175.0 378.0h3.5M271.6 378.0h3.5M301.9 378.0h3.5M356.2 378.0h3.5M504.3 378.0h3.5M135.7 379.0h3.5M220.3 379.0h3.5M301.9 379.0h3.5M407.6 379.0h3.5M525.4 379.0h3.5M607.0 379.0h3.5M631.2 379.0h3.5M637.2 379.0h9.6M181.0 380.0h3.5M196.1 380.0h3.5M377.4 380.0h3.5M407.6 380.0h3.5M159.9 381.0h3.5M268.6 381.0h3.5M377.4 381.0h3.5M465.0 381.0h3.5M147.8 382.0h3.5M159.9 382.0h6.5M313.9 382.0h3.5M377.4 382.0h3.5M513.3 382.0h3.5M283.7 383.0h3.5M338.1 383.0h3.5M504.3 383.0h3.5M567.7 383.0h3.5M631.2 383.0h3.5"/><path stroke="#fdc283" d="M489.2 128.0h6.5M129.7 129.0h3.5M567.7 129.0h3.5M114.5 130.0h3.5M637.2 131.0h3.5M153.8 132.0h6.5M178.0 132.0h3.5M570.7 132.0h3.5M283.7 133.0h3.5M362.3 133.0h3.5M498.2 133.0h3.5M359.3 134.0h3.5M607.0 134.0h3.5M631.2 136.0h3.5M138.7 137.0h3.5M277.7 137.0h3.5M561.7 137.0h12.6M616.1 137.0h3.5M643.2 137.0h6.5M277.7 138.0h3.5M265.6 139.0h3.5M585.8 139.0h3.5M310.9 140.0h3.5M310.9 141.0h3.5M181.0 144.0h3.5M235.4 144.0h3.5M543.5 144.0h9.6M564.7 144.0h6.5M235.4 145.0h3.5M613.0 145.0h3.5M202.2 146.0h3.5M555.6 146.0h3.5M610.0 146.0h3.5M622.1 146.0h3.5M123.6 147.0h3.5M202.2 147.0h3.5M138.7 148.0h3.5M202.2 148.0h3.5M501.3 148.0h3.5M640.2 148.0h3.5M649.3 148.0h3.5M241.4 149.0h3.5M486.1 149.0h3.5M141.7 151.0h6.5M377.4 151.0h3.5M495.2 151.0h6.5M184.0 152.0h3.5M196.1 152.0h3.5M495.2 152.0h6.5M519.4 152.0h3.5M184.0 153.0h3.5M519.4 154.0h3.5M250.5 155.0h3.5M320.0 155.0h3.5M489.2 155.0h6.5M507.3 155.0h3.5M516.4 155.0h9.6M564.7 155.0h3.5M649.3 155.0h3.5M202.2 156.0h3.5M522.4 156.0h3.5M132.7 157.0h6.5M522.4 157.0h3.5M622.1 157.0h12.6M129.7 158.0h3.5M374.4 158.0h3.5M537.5 158.0h9.6M613.0 158.0h3.5M628.1 158.0h6.5M619.1 159.0h3.5M631.2 159.0h3.5M640.2 159.0h3.5M622.1 160.0h3.5M483.1 161.0h3.5M510.3 161.0h6.5M181.0 162.0h3.5M649.3 162.0h6.5M181.0 163.0h3.5M495.2 164.0h3.5M555.6 164.0h3.5M495.2 165.0h3.5M211.2 166.0h3.5M492.2 166.0h3.5M613.0 168.0h3.5M640.2 168.0h3.5M132.7 169.0h3.5M141.7 169.0h3.5M153.8 169.0h3.5M625.1 169.0h3.5M114.5 170.0h3.5M480.1 170.0h3.5M501.3 171.0h6.5M634.2 171.0h3.5M640.2 171.0h3.5M534.5 172.0h9.6M634.2 172.0h3.5M646.3 172.0h3.5M132.7 173.0h3.5M501.3 173.0h6.5M573.8 173.0h3.5M646.3 173.0h3.5M646.3 174.0h3.5M232.4 175.0h3.5M549.6 175.0h6.5M619.1 175.0h3.5M392.5 176.0h3.5M313.9 177.0h3.5M570.7 177.0h3.5M591.9 177.0h3.5M196.1 178.0h3.5M353.2 178.0h3.5M196.1 179.0h3.5M579.8 179.0h3.5M597.9 180.0h3.5M613.0 180.0h3.5M295.8 181.0h3.5M486.1 181.0h3.5M573.8 182.0h3.5M622.1 182.0h3.5M643.2 182.0h3.5M531.5 183.0h6.5M622.1 183.0h6.5M631.2 183.0h6.5M407.6 184.0h3.5M582.8 184.0h3.5M634.2 184.0h9.6M483.1 185.0h3.5M561.7 185.0h3.5M567.7 185.0h3.5M573.8 185.0h6.5M534.5 186.0h3.5M594.9 186.0h3.5M631.2 187.0h9.6M649.3 187.0h3.5M519.4 188.0h3.5M138.7 191.0h3.5M507.3 191.0h3.5M588.9 191.0h3.5M649.3 191.0h3.5M631.2 192.0h3.5M567.7 194.0h6.5M492.2 195.0h3.5M501.3 195.0h3.5M640.2 195.0h3.5M365.3 196.0h3.5M371.3 197.0h3.5M610.0 197.0h3.5M313.9 198.0h3.5M371.3 198.0h3.5M504.3 199.0h3.5M534.5 199.0h3.5M241.4 200.0h3.5M310.9 200.0h3.5M561.7 200.0h3.5M214.2 201.0h3.5M489.2 201.0h3.5M114.5 202.0h6.5M250.5 205.0h3.5M507.3 205.0h3.5M564.7 205.0h3.5M597.9 205.0h6.5M187.1 206.0h3.5M634.2 206.0h3.5M377.4 207.0h3.5M543.5 208.0h6.5M570.7 209.0h3.5M597.9 209.0h6.5M567.7 219.0h6.5M126.6 220.0h3.5M540.5 220.0h3.5M283.7 224.0h3.5M310.9 224.0h3.5M591.9 224.0h3.5M132.7 229.0h3.5M350.2 229.0h3.5M350.2 230.0h3.5M564.7 231.0h3.5M132.7 232.0h6.5M419.7 232.0h3.5M298.8 236.0h3.5M540.5 237.0h3.5M546.6 238.0h3.5M513.3 242.0h3.5M600.9 242.0h3.5M280.7 243.0h3.5M622.1 243.0h3.5M159.9 244.0h3.5M320.0 244.0h3.5M628.1 244.0h3.5M552.6 245.0h3.5M356.2 246.0h3.5M534.5 246.0h3.5M607.0 246.0h3.5M643.2 246.0h6.5M607.0 247.0h3.5M199.1 248.0h3.5M232.4 248.0h3.5M619.1 248.0h3.5M625.1 248.0h3.5M117.6 249.0h3.5M199.1 249.0h3.5M531.5 249.0h6.5M625.1 249.0h9.6M573.8 250.0h3.5M619.1 250.0h6.5M289.8 251.0h3.5M265.6 252.0h3.5M649.3 252.0h3.5M208.2 254.0h3.5M250.5 255.0h3.5M407.6 255.0h6.5M640.2 255.0h3.5M646.3 255.0h3.5M238.4 257.0h3.5M634.2 257.0h3.5M138.7 258.0h3.5M510.3 258.0h3.5M582.8 258.0h3.5M546.6 259.0h3.5M546.6 260.0h3.5M640.2 260.0h3.5M507.3 261.0h3.5M585.8 261.0h3.5M507.3 262.0h3.5M585.8 262.0h6.5M196.1 263.0h3.5M362.3 263.0h3.5M607.0 263.0h3.5M649.3 263.0h3.5M483.1 264.0h3.5M516.4 264.0h3.5M156.8 265.0h3.5M480.1 265.0h6.5M528.4 266.0h6.5M564.7 266.0h3.5M576.8 266.0h3.5M594.9 267.0h3.5M196.1 268.0h3.5M159.9 269.0h6.5M162.9 270.0h3.5M594.9 270.0h9.6M181.0 271.0h3.5M588.9 271.0h3.5M643.2 271.0h3.5M259.6 272.0h3.5M543.5 272.0h3.5M646.3 272.0h3.5M543.5 273.0h3.5M649.3 273.0h3.5M196.1 274.0h3.5M543.5 274.0h12.6M616.1 274.0h3.5M622.1 274.0h3.5M175.0 275.0h3.5M196.1 275.0h3.5M220.3 275.0h3.5M247.5 275.0h3.5M329.0 275.0h3.5M347.2 275.0h3.5M359.3 275.0h3.5M365.3 275.0h3.5M507.3 275.0h3.5M531.5 275.0h3.5M637.2 275.0h3.5M313.9 276.0h3.5M326.0 276.0h3.5M332.1 276.0h3.5M347.2 276.0h9.6M365.3 276.0h3.5M507.3 276.0h3.5M353.2 277.0h3.5M365.3 277.0h3.5M138.7 278.0h3.5M365.3 278.0h3.5M323.0 279.0h3.5M365.3 279.0h3.5M323.0 280.0h3.5M344.2 280.0h3.5M356.2 280.0h6.5M531.5 280.0h3.5M576.8 280.0h3.5M616.1 280.0h3.5M159.9 281.0h3.5M468.0 281.0h3.5M579.8 281.0h3.5M579.8 282.0h3.5M422.7 283.0h6.5M625.1 284.0h3.5M211.2 285.0h3.5M232.4 285.0h3.5M410.6 285.0h6.5M419.7 285.0h3.5M555.6 285.0h3.5M622.1 285.0h6.5M214.2 286.0h3.5M262.6 286.0h3.5M419.7 286.0h6.5M434.8 286.0h3.5M619.1 286.0h3.5M141.7 287.0h3.5M247.5 287.0h3.5M434.8 287.0h3.5M410.6 288.0h3.5M425.7 288.0h3.5M114.5 289.0h3.5M519.4 289.0h3.5M178.0 290.0h3.5M419.7 290.0h3.5M425.7 290.0h3.5M256.5 291.0h3.5M419.7 291.0h3.5M425.7 291.0h3.5M434.8 291.0h3.5M419.7 292.0h3.5M552.6 292.0h3.5M434.8 293.0h3.5M144.8 294.0h3.5M434.8 294.0h3.5M144.8 295.0h3.5M622.1 295.0h3.5M628.1 297.0h3.5M301.9 299.0h3.5M310.9 299.0h3.5M347.2 299.0h6.5M362.3 299.0h3.5M552.6 299.0h6.5M226.3 300.0h3.5M350.2 300.0h3.5M362.3 300.0h3.5M610.0 300.0h3.5M168.9 301.0h3.5M202.2 301.0h6.5M326.0 301.0h3.5M347.2 301.0h6.5M141.7 302.0h3.5M168.9 302.0h6.5M289.8 302.0h3.5M347.2 302.0h3.5M507.3 302.0h6.5M558.7 302.0h3.5M576.8 302.0h6.5M643.2 302.0h3.5M141.7 303.0h3.5M181.0 303.0h3.5M214.2 303.0h3.5M561.7 303.0h3.5M622.1 304.0h3.5M365.3 305.0h3.5M543.5 305.0h6.5M582.8 305.0h6.5M365.3 306.0h3.5M588.9 306.0h3.5M190.1 307.0h3.5M356.2 307.0h6.5M377.4 307.0h3.5M600.9 307.0h6.5M181.0 308.0h3.5M582.8 308.0h3.5M132.7 309.0h3.5M564.7 309.0h3.5M640.2 309.0h3.5M371.3 310.0h3.5M528.4 310.0h3.5M576.8 311.0h3.5M625.1 311.0h3.5M190.1 312.0h3.5M377.4 312.0h3.5M465.0 312.0h6.5M607.0 312.0h6.5M613.0 313.0h3.5M286.8 314.0h6.5M377.4 314.0h3.5M289.8 315.0h3.5M516.4 315.0h3.5M585.8 315.0h3.5M480.1 318.0h3.5M486.1 318.0h3.5M377.4 319.0h3.5M513.3 319.0h6.5M634.2 319.0h3.5M540.5 322.0h3.5M543.5 323.0h3.5M597.9 323.0h6.5M597.9 324.0h3.5M356.2 325.0h3.5M579.8 325.0h6.5M202.2 326.0h6.5M338.1 326.0h6.5M610.0 326.0h3.5M326.0 327.0h3.5M341.1 327.0h3.5M196.1 328.0h3.5M347.2 328.0h3.5M347.2 329.0h3.5M486.1 329.0h3.5M132.7 330.0h3.5M561.7 330.0h3.5M607.0 330.0h3.5M640.2 330.0h3.5M193.1 331.0h6.5M561.7 331.0h3.5M196.1 332.0h3.5M486.1 332.0h3.5M138.7 333.0h3.5M585.8 334.0h6.5M181.0 335.0h3.5M132.7 337.0h3.5M531.5 337.0h3.5M537.5 337.0h12.6M132.7 338.0h6.5M610.0 340.0h3.5M640.2 340.0h3.5M199.1 341.0h3.5M344.2 341.0h3.5M350.2 341.0h3.5M465.0 341.0h3.5M513.3 341.0h3.5M359.3 342.0h6.5M465.0 342.0h3.5M561.7 342.0h3.5M147.8 343.0h3.5M329.0 343.0h3.5M637.2 343.0h6.5M576.8 344.0h6.5M588.9 344.0h6.5M607.0 344.0h3.5M540.5 345.0h3.5M549.6 345.0h3.5M564.7 345.0h3.5M604.0 345.0h6.5M613.0 345.0h3.5M483.1 346.0h3.5M600.9 346.0h3.5M347.2 347.0h3.5M356.2 347.0h3.5M558.7 347.0h3.5M564.7 347.0h3.5M597.9 347.0h3.5M604.0 347.0h3.5M610.0 347.0h3.5M604.0 348.0h3.5M323.0 349.0h6.5M613.0 349.0h3.5M313.9 350.0h3.5M561.7 350.0h3.5M165.9 351.0h3.5M247.5 351.0h3.5M313.9 351.0h3.5M419.7 351.0h3.5M600.9 351.0h3.5M607.0 351.0h6.5M126.6 352.0h3.5M283.7 352.0h3.5M313.9 352.0h3.5M591.9 352.0h3.5M329.0 353.0h3.5M347.2 353.0h3.5M640.2 353.0h3.5M326.0 354.0h3.5M534.5 354.0h3.5M600.9 354.0h6.5M591.9 355.0h3.5M604.0 355.0h6.5M129.7 356.0h6.5M558.7 356.0h3.5M588.9 356.0h3.5M640.2 356.0h3.5M129.7 357.0h3.5M323.0 357.0h3.5M365.3 357.0h3.5M588.9 357.0h6.5M604.0 357.0h3.5M597.9 358.0h9.6M610.0 358.0h6.5M120.6 359.0h3.5M323.0 359.0h6.5M528.4 359.0h6.5M153.8 360.0h3.5M323.0 360.0h3.5M265.6 361.0h3.5M365.3 361.0h3.5M555.6 361.0h3.5M561.7 361.0h3.5M564.7 362.0h3.5M172.0 363.0h3.5M199.1 363.0h3.5M247.5 363.0h3.5M347.2 363.0h3.5M401.6 363.0h3.5M610.0 363.0h3.5M262.6 364.0h3.5M313.9 364.0h3.5M365.3 364.0h3.5M190.1 365.0h3.5M459.0 365.0h6.5M522.4 365.0h3.5M573.8 365.0h3.5M613.0 365.0h3.5M459.0 366.0h6.5M471.0 366.0h3.5M561.7 366.0h6.5M600.9 366.0h12.6M165.9 367.0h3.5M471.0 367.0h3.5M492.2 367.0h3.5M501.3 367.0h3.5M522.4 367.0h3.5M564.7 367.0h3.5M570.7 367.0h3.5M604.0 367.0h9.6M153.8 368.0h6.5M362.3 368.0h3.5M604.0 368.0h3.5M156.8 369.0h3.5M181.0 369.0h3.5M196.1 369.0h3.5M217.3 369.0h3.5M238.4 369.0h3.5M486.1 369.0h3.5M567.7 369.0h6.5M597.9 369.0h9.6M156.8 370.0h3.5M455.9 370.0h6.5M501.3 370.0h3.5M570.7 370.0h3.5M579.8 370.0h3.5M643.2 370.0h3.5M123.6 371.0h6.5M205.2 371.0h3.5M274.7 371.0h3.5M280.7 371.0h3.5M501.3 371.0h3.5M628.1 371.0h6.5M138.7 372.0h6.5M501.3 372.0h3.5M631.2 372.0h3.5M141.7 373.0h3.5M220.3 373.0h3.5M247.5 373.0h3.5M591.9 373.0h3.5M607.0 373.0h3.5M459.0 374.0h6.5M564.7 374.0h6.5M573.8 374.0h3.5M579.8 374.0h3.5M613.0 374.0h3.5M141.7 375.0h3.5M223.3 375.0h3.5M449.9 375.0h3.5M459.0 375.0h3.5M465.0 375.0h3.5M534.5 376.0h3.5M576.8 376.0h3.5M610.0 376.0h3.5M619.1 376.0h3.5M519.4 377.0h3.5M576.8 377.0h6.5M604.0 377.0h9.6M616.1 377.0h6.5M383.4 378.0h3.5M613.0 378.0h3.5M640.2 378.0h3.5M193.1 379.0h3.5M238.4 379.0h3.5M374.4 379.0h3.5M549.6 379.0h3.5M567.7 379.0h3.5M573.8 379.0h3.5M600.9 379.0h6.5M374.4 380.0h3.5M446.9 380.0h3.5M465.0 380.0h3.5M567.7 380.0h9.6M637.2 380.0h3.5M238.4 381.0h3.5M313.9 381.0h3.5M573.8 381.0h3.5M117.6 382.0h3.5M144.8 382.0h3.5M153.8 382.0h6.5M232.4 382.0h3.5M576.8 382.0h6.5M141.7 383.0h3.5M162.9 383.0h3.5M187.1 383.0h6.5M232.4 383.0h3.5M313.9 383.0h3.5M564.7 383.0h3.5"/><path stroke="#fdae61" d="M498.2 128.0h3.5M619.1 130.0h3.5M362.3 131.0h3.5M570.7 131.0h3.5M649.3 132.0h3.5M135.7 133.0h3.5M280.7 134.0h3.5M555.6 134.0h3.5M613.0 134.0h3.5M280.7 135.0h3.5M522.4 135.0h3.5M613.0 135.0h3.5M283.7 136.0h3.5M540.5 136.0h3.5M196.1 137.0h3.5M540.5 137.0h3.5M613.0 137.0h3.5M649.3 137.0h3.5M619.1 138.0h3.5M241.4 139.0h3.5M561.7 139.0h3.5M153.8 140.0h3.5M265.6 140.0h3.5M619.1 140.0h3.5M168.9 141.0h3.5M546.6 141.0h3.5M120.6 144.0h3.5M141.7 144.0h3.5M156.8 144.0h3.5M268.6 144.0h3.5M570.7 144.0h3.5M120.6 145.0h3.5M120.6 146.0h3.5M625.1 146.0h3.5M129.7 148.0h3.5M156.8 148.0h3.5M465.0 148.0h3.5M199.1 150.0h3.5M561.7 150.0h3.5M622.1 150.0h6.5M561.7 151.0h3.5M622.1 151.0h3.5M362.3 152.0h3.5M522.4 152.0h3.5M616.1 152.0h3.5M190.1 153.0h3.5M196.1 153.0h3.5M362.3 153.0h3.5M543.5 154.0h3.5M634.2 154.0h3.5M543.5 155.0h3.5M202.2 157.0h3.5M468.0 157.0h3.5M510.3 157.0h3.5M619.1 157.0h3.5M495.2 158.0h3.5M522.4 158.0h3.5M277.7 159.0h3.5M522.4 160.0h3.5M274.7 161.0h3.5M286.8 161.0h3.5M613.0 161.0h3.5M144.8 163.0h3.5M492.2 164.0h3.5M552.6 164.0h3.5M649.3 164.0h3.5M144.8 165.0h3.5M489.2 165.0h6.5M489.2 166.0h3.5M516.4 166.0h3.5M516.4 167.0h3.5M534.5 168.0h3.5M610.0 168.0h3.5M616.1 168.0h3.5M649.3 168.0h3.5M114.5 169.0h3.5M537.5 169.0h3.5M613.0 169.0h3.5M622.1 169.0h3.5M640.2 170.0h6.5M114.5 171.0h3.5M613.0 171.0h3.5M637.2 171.0h3.5M643.2 171.0h9.6M634.2 173.0h3.5M235.4 175.0h3.5M507.3 175.0h3.5M604.0 175.0h3.5M613.0 175.0h6.5M622.1 175.0h3.5M241.4 176.0h3.5M564.7 177.0h6.5M570.7 178.0h6.5M573.8 179.0h6.5M640.2 179.0h3.5M573.8 180.0h6.5M640.2 180.0h3.5M622.1 181.0h3.5M628.1 181.0h3.5M498.2 182.0h3.5M528.4 182.0h3.5M640.2 182.0h3.5M646.3 182.0h3.5M528.4 183.0h3.5M610.0 183.0h3.5M637.2 183.0h3.5M504.3 184.0h3.5M576.8 184.0h6.5M585.8 184.0h9.6M498.2 185.0h3.5M513.3 186.0h3.5M616.1 186.0h3.5M634.2 186.0h6.5M492.2 187.0h3.5M498.2 187.0h3.5M613.0 187.0h3.5M640.2 187.0h3.5M540.5 188.0h3.5M540.5 189.0h3.5M483.1 190.0h3.5M181.0 191.0h6.5M510.3 191.0h6.5M540.5 191.0h3.5M619.1 191.0h3.5M646.3 191.0h3.5M540.5 192.0h3.5M622.1 192.0h9.6M649.3 192.0h3.5M613.0 194.0h6.5M220.3 195.0h3.5M649.3 195.0h3.5M507.3 197.0h3.5M582.8 199.0h9.6M313.9 200.0h6.5M232.4 201.0h3.5M492.2 201.0h3.5M516.4 204.0h3.5M628.1 204.0h3.5M640.2 204.0h3.5M637.2 206.0h3.5M283.7 207.0h3.5M564.7 209.0h3.5M501.3 210.0h6.5M504.3 211.0h6.5M558.7 211.0h3.5M628.1 211.0h9.6M187.1 219.0h3.5M646.3 220.0h3.5M643.2 221.0h6.5M564.7 222.0h3.5M637.2 222.0h3.5M247.5 223.0h3.5M310.9 223.0h3.5M613.0 223.0h3.5M534.5 224.0h3.5M543.5 229.0h3.5M570.7 230.0h3.5M162.9 233.0h3.5M190.1 233.0h3.5M220.3 233.0h3.5M223.3 234.0h3.5M631.2 234.0h6.5M567.7 235.0h3.5M634.2 235.0h3.5M211.2 237.0h3.5M637.2 237.0h3.5M631.2 240.0h3.5M607.0 241.0h3.5M625.1 241.0h3.5M144.8 242.0h3.5M649.3 244.0h3.5M549.6 245.0h3.5M607.0 245.0h3.5M353.2 246.0h3.5M616.1 247.0h3.5M286.8 248.0h3.5M622.1 248.0h3.5M585.8 249.0h6.5M622.1 249.0h3.5M153.8 250.0h3.5M153.8 251.0h6.5M573.8 251.0h3.5M616.1 251.0h3.5M634.2 252.0h3.5M646.3 252.0h3.5M202.2 255.0h3.5M226.3 256.0h3.5M519.4 256.0h3.5M507.3 258.0h3.5M516.4 259.0h3.5M543.5 260.0h3.5M516.4 261.0h6.5M543.5 261.0h3.5M552.6 261.0h3.5M649.3 261.0h3.5M591.9 262.0h9.6M597.9 263.0h3.5M610.0 263.0h3.5M486.1 264.0h3.5M241.4 265.0h3.5M528.4 265.0h3.5M540.5 266.0h3.5M594.9 266.0h3.5M597.9 267.0h3.5M600.9 268.0h3.5M181.0 270.0h3.5M573.8 270.0h6.5M531.5 271.0h6.5M640.2 271.0h3.5M646.3 271.0h3.5M613.0 272.0h3.5M172.0 274.0h3.5M229.4 274.0h3.5M573.8 274.0h3.5M649.3 274.0h3.5M356.2 275.0h3.5M362.3 275.0h3.5M120.6 276.0h3.5M283.7 276.0h6.5M649.3 276.0h3.5M579.8 279.0h3.5M341.1 280.0h3.5M353.2 280.0h3.5M579.8 280.0h3.5M634.2 281.0h6.5M141.7 282.0h3.5M196.1 282.0h3.5M543.5 282.0h3.5M573.8 282.0h6.5M634.2 282.0h3.5M141.7 283.0h3.5M377.4 283.0h3.5M616.1 283.0h3.5M622.1 283.0h3.5M211.2 284.0h3.5M616.1 284.0h9.6M265.6 285.0h3.5M510.3 285.0h3.5M619.1 285.0h3.5M410.6 286.0h9.6M622.1 286.0h3.5M410.6 287.0h3.5M434.8 288.0h3.5M522.4 289.0h3.5M540.5 290.0h3.5M555.6 292.0h6.5M147.8 294.0h3.5M256.5 294.0h3.5M422.7 294.0h3.5M147.8 295.0h3.5M552.6 295.0h3.5M175.0 297.0h3.5M353.2 300.0h3.5M365.3 300.0h6.5M582.8 300.0h6.5M338.1 301.0h3.5M359.3 301.0h3.5M558.7 301.0h3.5M610.0 301.0h6.5M132.7 302.0h3.5M600.9 302.0h6.5M610.0 302.0h3.5M640.2 302.0h3.5M579.8 304.0h3.5M368.3 305.0h3.5M377.4 305.0h3.5M371.3 306.0h3.5M591.9 306.0h3.5M422.7 307.0h3.5M591.9 307.0h3.5M280.7 308.0h3.5M579.8 308.0h3.5M585.8 308.0h3.5M640.2 308.0h3.5M280.7 309.0h3.5M585.8 309.0h3.5M588.9 310.0h3.5M175.0 311.0h3.5M480.1 311.0h3.5M619.1 311.0h3.5M187.1 312.0h3.5M193.1 312.0h3.5M619.1 312.0h3.5M597.9 314.0h6.5M643.2 314.0h3.5M564.7 315.0h3.5M576.8 315.0h3.5M117.6 318.0h3.5M510.3 319.0h3.5M519.4 319.0h3.5M480.1 320.0h3.5M564.7 320.0h3.5M326.0 322.0h3.5M534.5 322.0h6.5M549.6 322.0h3.5M295.8 323.0h3.5M132.7 324.0h3.5M634.2 324.0h3.5M165.9 326.0h3.5M631.2 327.0h3.5M178.0 329.0h3.5M175.0 330.0h3.5M564.7 330.0h3.5M604.0 330.0h3.5M175.0 331.0h3.5M483.1 332.0h3.5M558.7 332.0h3.5M610.0 332.0h3.5M640.2 333.0h3.5M558.7 334.0h3.5M591.9 334.0h3.5M525.4 335.0h3.5M591.9 335.0h3.5M597.9 335.0h3.5M607.0 335.0h3.5M607.0 336.0h3.5M253.5 337.0h3.5M165.9 338.0h3.5M561.7 340.0h3.5M250.5 341.0h3.5M280.7 341.0h3.5M594.9 341.0h3.5M588.9 342.0h3.5M607.0 342.0h3.5M323.0 343.0h3.5M537.5 343.0h3.5M585.8 343.0h3.5M643.2 343.0h3.5M332.1 344.0h3.5M350.2 344.0h6.5M537.5 344.0h3.5M582.8 344.0h3.5M594.9 344.0h6.5M613.0 344.0h3.5M643.2 344.0h3.5M344.2 345.0h6.5M546.6 345.0h3.5M552.6 345.0h3.5M558.7 345.0h3.5M582.8 345.0h3.5M643.2 345.0h3.5M144.8 346.0h3.5M537.5 346.0h3.5M607.0 346.0h3.5M235.4 348.0h3.5M326.0 348.0h3.5M507.3 348.0h6.5M235.4 349.0h3.5M262.6 349.0h3.5M350.2 349.0h3.5M359.3 349.0h3.5M582.8 349.0h3.5M604.0 349.0h6.5M607.0 350.0h3.5M625.1 350.0h3.5M510.3 351.0h3.5M564.7 351.0h3.5M613.0 351.0h3.5M247.5 352.0h3.5M546.6 352.0h3.5M604.0 352.0h3.5M613.0 352.0h6.5M579.8 353.0h6.5M588.9 353.0h3.5M604.0 353.0h3.5M365.3 354.0h3.5M579.8 354.0h3.5M607.0 354.0h6.5M634.2 354.0h3.5M561.7 356.0h3.5M594.9 356.0h6.5M604.0 356.0h6.5M326.0 357.0h3.5M597.9 357.0h6.5M588.9 358.0h3.5M256.5 359.0h3.5M579.8 359.0h3.5M588.9 359.0h6.5M597.9 359.0h3.5M604.0 359.0h3.5M156.8 360.0h3.5M326.0 361.0h3.5M564.7 361.0h3.5M362.3 362.0h3.5M543.5 362.0h3.5M187.1 363.0h6.5M350.2 363.0h3.5M604.0 364.0h3.5M135.7 365.0h3.5M175.0 365.0h6.5M525.4 365.0h6.5M628.1 365.0h3.5M289.8 366.0h6.5M510.3 366.0h6.5M567.7 366.0h3.5M507.3 367.0h3.5M567.7 367.0h3.5M573.8 367.0h6.5M597.9 367.0h6.5M613.0 367.0h3.5M643.2 367.0h3.5M564.7 368.0h3.5M573.8 368.0h3.5M613.0 368.0h3.5M153.8 369.0h3.5M168.9 369.0h3.5M286.8 369.0h3.5M492.2 369.0h3.5M564.7 369.0h3.5M594.9 369.0h3.5M607.0 369.0h6.5M190.1 370.0h3.5M259.6 370.0h3.5M537.5 370.0h3.5M594.9 370.0h3.5M610.0 370.0h3.5M208.2 371.0h3.5M546.6 371.0h3.5M175.0 372.0h6.5M256.5 372.0h3.5M462.0 372.0h3.5M546.6 372.0h3.5M555.6 372.0h3.5M576.8 372.0h3.5M156.8 373.0h3.5M187.1 373.0h3.5M238.4 373.0h3.5M594.9 373.0h6.5M165.9 374.0h6.5M214.2 374.0h3.5M537.5 374.0h6.5M594.9 374.0h3.5M607.0 374.0h3.5M184.0 375.0h6.5M534.5 375.0h6.5M144.8 376.0h3.5M187.1 376.0h6.5M531.5 376.0h3.5M537.5 376.0h6.5M594.9 376.0h3.5M613.0 376.0h6.5M147.8 377.0h3.5M280.7 377.0h3.5M477.1 377.0h3.5M594.9 377.0h9.6M184.0 378.0h3.5M232.4 378.0h3.5M280.7 378.0h3.5M564.7 378.0h3.5M147.8 379.0h3.5M187.1 379.0h3.5M564.7 379.0h3.5M570.7 379.0h3.5M594.9 379.0h3.5M610.0 379.0h3.5M159.9 380.0h3.5M187.1 380.0h3.5M576.8 380.0h6.5M591.9 380.0h3.5M613.0 380.0h3.5M634.2 380.0h3.5M549.6 381.0h3.5M604.0 381.0h3.5M613.0 381.0h3.5M504.3 382.0h3.5M156.8 383.0h3.5M217.3 383.0h3.5M546.6 383.0h3.5M576.8 383.0h3.5"/><path stroke="#f88e52" d="M628.1 128.0h6.5M286.8 130.0h3.5M640.2 130.0h3.5M313.9 131.0h3.5M516.4 132.0h3.5M132.7 133.0h3.5M190.1 133.0h3.5M289.8 134.0h3.5M519.4 135.0h3.5M181.0 136.0h3.5M537.5 136.0h3.5M543.5 136.0h3.5M184.0 137.0h3.5M570.7 138.0h3.5M347.2 139.0h3.5M619.1 139.0h3.5M187.1 140.0h3.5M241.4 141.0h3.5M274.7 141.0h3.5M543.5 141.0h3.5M628.1 141.0h3.5M283.7 144.0h3.5M649.3 144.0h6.5M117.6 146.0h3.5M181.0 148.0h3.5M347.2 148.0h3.5M159.9 149.0h3.5M347.2 149.0h3.5M468.0 149.0h3.5M468.0 150.0h3.5M558.7 150.0h3.5M313.9 151.0h3.5M468.0 151.0h3.5M610.0 151.0h6.5M649.3 151.0h3.5M619.1 152.0h3.5M295.8 153.0h3.5M214.2 154.0h3.5M280.7 154.0h3.5M465.0 154.0h3.5M199.1 155.0h3.5M546.6 155.0h3.5M561.7 155.0h3.5M616.1 155.0h3.5M534.5 156.0h3.5M619.1 156.0h3.5M365.3 157.0h3.5M546.6 157.0h3.5M138.7 159.0h3.5M495.2 159.0h3.5M504.3 159.0h3.5M534.5 159.0h3.5M138.7 160.0h3.5M138.7 161.0h3.5M616.1 161.0h3.5M347.2 162.0h3.5M202.2 163.0h3.5M543.5 164.0h3.5M187.1 165.0h3.5M513.3 166.0h3.5M519.4 167.0h3.5M631.2 168.0h3.5M528.4 170.0h3.5M537.5 170.0h3.5M546.6 170.0h3.5M610.0 171.0h3.5M516.4 172.0h3.5M540.5 175.0h9.6M229.4 176.0h3.5M649.3 176.0h3.5M646.3 177.0h6.5M504.3 178.0h3.5M643.2 180.0h3.5M625.1 181.0h3.5M495.2 182.0h3.5M628.1 182.0h3.5M519.4 183.0h3.5M613.0 185.0h3.5M625.1 186.0h3.5M537.5 188.0h3.5M483.1 189.0h3.5M631.2 189.0h6.5M510.3 190.0h3.5M628.1 190.0h6.5M649.3 194.0h3.5M196.1 198.0h3.5M625.1 198.0h3.5M561.7 203.0h3.5M646.3 203.0h6.5M513.3 204.0h3.5M516.4 205.0h3.5M634.2 205.0h3.5M564.7 208.0h6.5M561.7 211.0h6.5M570.7 211.0h3.5M616.1 211.0h3.5M640.2 220.0h3.5M640.2 221.0h3.5M513.3 222.0h3.5M640.2 226.0h3.5M558.7 227.0h3.5M546.6 229.0h3.5M567.7 229.0h6.5M187.1 231.0h3.5M223.3 233.0h3.5M522.4 234.0h3.5M628.1 234.0h3.5M637.2 234.0h6.5M522.4 235.0h3.5M637.2 236.0h3.5M172.0 238.0h3.5M141.7 240.0h3.5M531.5 241.0h3.5M531.5 242.0h6.5M153.8 244.0h3.5M649.3 249.0h3.5M585.8 250.0h3.5M649.3 250.0h3.5M277.7 252.0h3.5M637.2 252.0h3.5M543.5 253.0h3.5M135.7 254.0h3.5M132.7 255.0h3.5M141.7 255.0h3.5M570.7 255.0h3.5M622.1 255.0h3.5M637.2 255.0h3.5M522.4 256.0h3.5M640.2 257.0h3.5M546.6 258.0h3.5M643.2 258.0h3.5M600.9 262.0h3.5M202.2 263.0h3.5M244.5 265.0h3.5M244.5 266.0h3.5M610.0 270.0h3.5M631.2 270.0h3.5M540.5 274.0h3.5M619.1 274.0h3.5M510.3 275.0h3.5M573.8 275.0h3.5M277.7 276.0h6.5M525.4 277.0h3.5M573.8 277.0h3.5M338.1 278.0h3.5M350.2 279.0h3.5M576.8 279.0h3.5M619.1 282.0h3.5M153.8 283.0h3.5M247.5 283.0h3.5M625.1 283.0h3.5M196.1 284.0h3.5M528.4 285.0h6.5M625.1 286.0h3.5M643.2 286.0h3.5M531.5 289.0h3.5M147.8 293.0h3.5M138.7 294.0h3.5M283.7 296.0h3.5M628.1 296.0h3.5M619.1 299.0h3.5M625.1 299.0h3.5M564.7 300.0h3.5M175.0 301.0h3.5M519.4 302.0h3.5M582.8 304.0h3.5M607.0 304.0h3.5M607.0 305.0h3.5M607.0 306.0h3.5M190.1 308.0h3.5M377.4 308.0h3.5M585.8 310.0h3.5M613.0 310.0h3.5M144.8 316.0h3.5M594.9 316.0h3.5M622.1 316.0h3.5M561.7 317.0h3.5M519.4 318.0h3.5M250.5 320.0h3.5M561.7 320.0h3.5M250.5 321.0h3.5M543.5 322.0h3.5M588.9 322.0h3.5M549.6 323.0h3.5M549.6 324.0h3.5M625.1 324.0h3.5M147.8 325.0h3.5M634.2 325.0h3.5M552.6 326.0h3.5M114.5 329.0h6.5M168.9 329.0h3.5M543.5 329.0h3.5M558.7 329.0h3.5M576.8 329.0h3.5M168.9 330.0h3.5M256.5 330.0h3.5M597.9 330.0h6.5M525.4 333.0h3.5M600.9 335.0h6.5M625.1 335.0h6.5M250.5 337.0h3.5M528.4 337.0h3.5M628.1 337.0h3.5M250.5 338.0h3.5M631.2 338.0h3.5M588.9 340.0h3.5M585.8 341.0h6.5M597.9 341.0h3.5M607.0 341.0h3.5M625.1 341.0h3.5M537.5 342.0h3.5M591.9 342.0h6.5M610.0 342.0h6.5M582.8 343.0h3.5M597.9 343.0h3.5M610.0 344.0h3.5M594.9 345.0h3.5M610.0 345.0h3.5M582.8 346.0h3.5M607.0 347.0h3.5M613.0 347.0h3.5M607.0 348.0h3.5M250.5 349.0h3.5M153.8 350.0h3.5M259.6 350.0h3.5M579.8 350.0h3.5M628.1 350.0h3.5M637.2 350.0h6.5M480.1 351.0h3.5M513.3 351.0h3.5M519.4 351.0h3.5M576.8 351.0h3.5M519.4 352.0h3.5M607.0 352.0h3.5M247.5 353.0h3.5M555.6 353.0h3.5M616.1 353.0h3.5M582.8 354.0h6.5M597.9 354.0h3.5M138.7 355.0h3.5M241.4 355.0h3.5M582.8 355.0h3.5M613.0 355.0h3.5M135.7 357.0h3.5M353.2 357.0h3.5M579.8 357.0h6.5M610.0 357.0h6.5M519.4 358.0h6.5M591.9 358.0h3.5M607.0 358.0h3.5M576.8 359.0h3.5M600.9 359.0h3.5M613.0 359.0h3.5M153.8 361.0h3.5M256.5 361.0h3.5M552.6 361.0h3.5M147.8 362.0h3.5M546.6 362.0h3.5M217.3 363.0h3.5M579.8 363.0h3.5M588.9 364.0h3.5M579.8 365.0h9.6M631.2 365.0h3.5M510.3 367.0h3.5M289.8 368.0h3.5M634.2 368.0h3.5M247.5 369.0h3.5M265.6 369.0h3.5M323.0 369.0h3.5M591.9 369.0h3.5M208.2 370.0h3.5M531.5 370.0h6.5M591.9 370.0h3.5M613.0 370.0h3.5M259.6 371.0h3.5M259.6 372.0h3.5M573.8 372.0h3.5M579.8 372.0h3.5M604.0 372.0h3.5M196.1 373.0h3.5M241.4 373.0h3.5M604.0 373.0h3.5M132.7 374.0h3.5M153.8 374.0h3.5M619.1 374.0h3.5M190.1 375.0h3.5M265.6 375.0h3.5M540.5 375.0h3.5M640.2 375.0h3.5M153.8 377.0h3.5M570.7 377.0h6.5M114.5 378.0h3.5M510.3 378.0h3.5M555.6 378.0h3.5M594.9 378.0h6.5M214.2 379.0h3.5M597.9 379.0h3.5M613.0 379.0h3.5M138.7 380.0h3.5M280.7 380.0h6.5M610.0 380.0h3.5M138.7 381.0h3.5M280.7 381.0h3.5M564.7 381.0h3.5M120.6 382.0h3.5M549.6 383.0h3.5"/><path stroke="#f46d43" d="M362.3 128.0h3.5M537.5 131.0h3.5M558.7 131.0h3.5M196.1 132.0h3.5M519.4 132.0h6.5M265.6 133.0h6.5M519.4 133.0h3.5M202.2 134.0h3.5M265.6 137.0h3.5M184.0 138.0h3.5M238.4 139.0h3.5M205.2 140.0h3.5M504.3 140.0h3.5M238.4 141.0h3.5M262.6 141.0h3.5M347.2 142.0h3.5M129.7 144.0h3.5M313.9 144.0h3.5M226.3 148.0h3.5M277.7 148.0h3.5M498.2 148.0h3.5M549.6 148.0h3.5M465.0 149.0h3.5M534.5 149.0h3.5M117.6 150.0h3.5M498.2 150.0h3.5M610.0 150.0h3.5M465.0 153.0h3.5M561.7 153.0h3.5M190.1 154.0h3.5M274.7 154.0h6.5M347.2 154.0h3.5M202.2 155.0h3.5M280.7 155.0h3.5M347.2 155.0h3.5M534.5 155.0h3.5M175.0 156.0h3.5M465.0 156.0h3.5M465.0 157.0h3.5M501.3 157.0h3.5M534.5 157.0h3.5M181.0 158.0h3.5M628.1 160.0h3.5M313.9 161.0h3.5M531.5 162.0h3.5M492.2 163.0h3.5M286.8 164.0h3.5M489.2 164.0h3.5M540.5 164.0h3.5M546.6 164.0h3.5M522.4 165.0h3.5M519.4 168.0h6.5M634.2 168.0h6.5M540.5 170.0h3.5M637.2 170.0h3.5M549.6 171.0h6.5M229.4 175.0h3.5M546.6 177.0h3.5M274.7 181.0h3.5M181.0 184.0h3.5M610.0 184.0h3.5M616.1 185.0h3.5M141.7 186.0h3.5M622.1 186.0h3.5M507.3 190.0h3.5M622.1 190.0h6.5M634.2 190.0h3.5M274.7 193.0h6.5M628.1 198.0h3.5M634.2 201.0h3.5M564.7 203.0h3.5M501.3 204.0h3.5M637.2 205.0h3.5M489.2 207.0h3.5M498.2 208.0h3.5M567.7 211.0h3.5M519.4 227.0h3.5M625.1 231.0h3.5M625.1 232.0h3.5M646.3 234.0h3.5M141.7 241.0h3.5M534.5 241.0h3.5M537.5 242.0h3.5M625.1 244.0h3.5M513.3 245.0h6.5M637.2 250.0h3.5M531.5 253.0h3.5M132.7 254.0h3.5M561.7 255.0h3.5M643.2 257.0h3.5M646.3 258.0h3.5M129.7 260.0h3.5M159.9 266.0h3.5M643.2 266.0h6.5M634.2 270.0h3.5M159.9 273.0h3.5M640.2 273.0h3.5M513.3 275.0h3.5M576.8 275.0h3.5M573.8 276.0h3.5M579.8 276.0h3.5M646.3 276.0h3.5M528.4 277.0h3.5M643.2 278.0h3.5M199.1 279.0h3.5M310.9 279.0h3.5M640.2 280.0h3.5M616.1 282.0h3.5M531.5 286.0h3.5M519.4 290.0h3.5M616.1 292.0h3.5M256.5 293.0h3.5M247.5 294.0h3.5M178.0 296.0h3.5M631.2 296.0h3.5M622.1 299.0h3.5M628.1 299.0h6.5M141.7 300.0h3.5M631.2 300.0h3.5M184.0 301.0h3.5M591.9 302.0h3.5M600.9 303.0h3.5M640.2 304.0h3.5M610.0 306.0h3.5M597.9 307.0h3.5M247.5 308.0h3.5M377.4 309.0h3.5M597.9 309.0h3.5M588.9 311.0h3.5M613.0 312.0h3.5M196.1 313.0h3.5M604.0 313.0h6.5M613.0 314.0h3.5M519.4 315.0h3.5M528.4 316.0h3.5M591.9 316.0h3.5M619.1 316.0h3.5M625.1 316.0h3.5M159.9 317.0h3.5M196.1 317.0h3.5M546.6 317.0h6.5M132.7 319.0h3.5M619.1 319.0h9.6M546.6 322.0h3.5M552.6 323.0h3.5M588.9 323.0h3.5M552.6 324.0h3.5M558.7 324.0h3.5M607.0 324.0h9.6M528.4 325.0h3.5M631.2 325.0h3.5M637.2 326.0h3.5M516.4 328.0h3.5M516.4 330.0h3.5M516.4 331.0h3.5M546.6 331.0h3.5M552.6 335.0h3.5M558.7 336.0h3.5M522.4 337.0h6.5M607.0 337.0h3.5M631.2 337.0h3.5M178.0 338.0h3.5M628.1 341.0h6.5M597.9 342.0h6.5M338.1 345.0h6.5M579.8 346.0h3.5M591.9 346.0h3.5M507.3 349.0h3.5M637.2 349.0h6.5M543.5 350.0h3.5M582.8 350.0h3.5M259.6 351.0h3.5M483.1 351.0h3.5M516.4 351.0h3.5M262.6 352.0h3.5M616.1 355.0h3.5M585.8 357.0h3.5M135.7 358.0h3.5M525.4 358.0h3.5M640.2 358.0h3.5M150.8 359.0h3.5M510.3 359.0h3.5M150.8 360.0h3.5M622.1 360.0h3.5M549.6 362.0h3.5M610.0 362.0h3.5M220.3 363.0h3.5M262.6 363.0h3.5M313.9 363.0h3.5M613.0 364.0h3.5M132.7 367.0h3.5M156.8 367.0h3.5M513.3 367.0h6.5M217.3 368.0h3.5M292.8 368.0h3.5M637.2 368.0h3.5M443.9 369.0h3.5M274.7 370.0h3.5M241.4 371.0h3.5M613.0 371.0h3.5M135.7 374.0h3.5M178.0 375.0h3.5M268.6 375.0h3.5M619.1 375.0h3.5M465.0 377.0h3.5M543.5 377.0h3.5M604.0 378.0h3.5M156.8 379.0h3.5M250.5 379.0h3.5M616.1 379.0h6.5M156.8 380.0h3.5M135.7 382.0h3.5M552.6 382.0h3.5M543.5 383.0h3.5M594.9 383.0h3.5M600.9 383.0h3.5M607.0 383.0h3.5"/><path stroke="#e64e35" d="M359.3 128.0h3.5M199.1 132.0h3.5M513.3 133.0h3.5M199.1 134.0h3.5M159.9 136.0h3.5M519.4 137.0h3.5M202.2 139.0h6.5M211.2 139.0h3.5M141.7 140.0h3.5M280.7 140.0h3.5M567.7 140.0h3.5M498.2 141.0h3.5M504.3 141.0h3.5M564.7 141.0h3.5M519.4 144.0h3.5M516.4 145.0h3.5M199.1 146.0h3.5M274.7 148.0h3.5M190.1 150.0h3.5M501.3 152.0h3.5M265.6 154.0h3.5M295.8 154.0h3.5M126.6 156.0h3.5M265.6 156.0h3.5M280.7 156.0h3.5M298.8 156.0h6.5M277.7 157.0h3.5M462.0 157.0h3.5M138.7 158.0h3.5M365.3 158.0h3.5M561.7 158.0h3.5M465.0 161.0h3.5M465.0 162.0h3.5M510.3 162.0h3.5M489.2 163.0h3.5M516.4 168.0h3.5M525.4 168.0h3.5M510.3 170.0h6.5M543.5 170.0h3.5M631.2 170.0h6.5M543.5 177.0h3.5M613.0 177.0h3.5M501.3 179.0h3.5M564.7 181.0h3.5M138.7 186.0h3.5M190.1 186.0h3.5M528.4 191.0h3.5M561.7 195.0h3.5M537.5 197.0h6.5M129.7 204.0h3.5M504.3 204.0h3.5M640.2 205.0h3.5M501.3 208.0h3.5M613.0 211.0h3.5M534.5 221.0h6.5M637.2 225.0h3.5M643.2 225.0h3.5M510.3 229.0h3.5M637.2 230.0h3.5M628.1 232.0h3.5M552.6 237.0h3.5M628.1 241.0h6.5M540.5 242.0h3.5M558.7 255.0h3.5M537.5 257.0h6.5M619.1 258.0h3.5M619.1 259.0h3.5M283.7 264.0h3.5M117.6 265.0h3.5M510.3 267.0h3.5M646.3 267.0h3.5M159.9 272.0h3.5M640.2 272.0h3.5M159.9 274.0h3.5M537.5 275.0h3.5M579.8 275.0h3.5M519.4 276.0h3.5M525.4 276.0h3.5M534.5 278.0h3.5M640.2 278.0h3.5M646.3 278.0h6.5M549.6 286.0h3.5M616.1 288.0h3.5M247.5 295.0h3.5M616.1 299.0h3.5M138.7 300.0h3.5M241.4 300.0h3.5M534.5 300.0h3.5M600.9 300.0h3.5M244.5 301.0h3.5M519.4 301.0h3.5M594.9 302.0h3.5M634.2 303.0h3.5M634.2 304.0h6.5M594.9 307.0h3.5M561.7 308.0h6.5M507.3 309.0h3.5M513.3 309.0h3.5M594.9 309.0h3.5M540.5 312.0h3.5M552.6 313.0h3.5M597.9 313.0h3.5M534.5 317.0h3.5M607.0 319.0h3.5M613.0 320.0h3.5M141.7 322.0h3.5M531.5 325.0h6.5M513.3 329.0h3.5M513.3 330.0h3.5M528.4 330.0h3.5M540.5 331.0h6.5M262.6 332.0h3.5M628.1 332.0h3.5M262.6 333.0h3.5M540.5 334.0h3.5M549.6 334.0h3.5M597.9 334.0h3.5M613.0 335.0h3.5M196.1 339.0h3.5M576.8 339.0h3.5M622.1 340.0h3.5M253.5 345.0h3.5M631.2 345.0h3.5M594.9 346.0h3.5M643.2 347.0h3.5M610.0 348.0h3.5M643.2 349.0h3.5M643.2 350.0h3.5M262.6 351.0h3.5M522.4 352.0h6.5M531.5 352.0h3.5M597.9 353.0h6.5M531.5 354.0h3.5M250.5 356.0h3.5M640.2 357.0h3.5M582.8 358.0h3.5M507.3 359.0h3.5M513.3 359.0h3.5M552.6 363.0h3.5M576.8 363.0h3.5M138.7 364.0h3.5M540.5 364.0h3.5M241.4 365.0h3.5M153.8 367.0h3.5M289.8 367.0h3.5M549.6 367.0h3.5M622.1 367.0h3.5M513.3 368.0h3.5M543.5 369.0h3.5M178.0 371.0h3.5M513.3 371.0h3.5M196.1 372.0h3.5M241.4 372.0h3.5M232.4 373.0h3.5M610.0 373.0h9.6M286.8 374.0h3.5M622.1 375.0h3.5M135.7 376.0h3.5M129.7 377.0h6.5M187.1 378.0h3.5M507.3 378.0h3.5M513.3 378.0h3.5M132.7 379.0h3.5M510.3 379.0h3.5M492.2 381.0h3.5M516.4 381.0h3.5M187.1 382.0h3.5M196.1 382.0h3.5M555.6 382.0h3.5M607.0 382.0h3.5M528.4 383.0h3.5M597.9 383.0h3.5"/><path stroke="#d73027" d="M610.0 128.0h3.5M537.5 130.0h3.5M268.6 132.0h3.5M202.2 133.0h3.5M640.2 134.0h3.5M196.1 139.0h6.5M235.4 139.0h3.5M567.7 139.0h3.5M205.2 141.0h3.5M501.3 141.0h3.5M253.5 142.0h3.5M132.7 143.0h3.5M253.5 143.0h3.5M534.5 144.0h3.5M628.1 144.0h3.5M150.8 149.0h3.5M558.7 149.0h3.5M241.4 151.0h3.5M519.4 151.0h3.5M613.0 154.0h3.5M295.8 155.0h3.5M362.3 156.0h3.5M117.6 158.0h3.5M178.0 162.0h3.5M516.4 162.0h3.5M172.0 163.0h3.5M365.3 163.0h3.5M567.7 166.0h3.5M525.4 169.0h3.5M631.2 169.0h3.5M610.0 176.0h3.5M610.0 177.0h3.5M570.7 180.0h3.5M561.7 196.0h3.5M537.5 198.0h3.5M625.1 199.0h3.5M522.4 202.0h3.5M531.5 204.0h3.5M534.5 205.0h6.5M649.3 206.0h9.6M504.3 208.0h3.5M540.5 222.0h3.5M510.3 228.0h3.5M640.2 230.0h3.5M552.6 233.0h3.5M531.5 238.0h3.5M543.5 238.0h3.5M543.5 240.0h3.5M549.6 241.0h3.5M634.2 241.0h3.5M649.3 241.0h3.5M534.5 243.0h3.5M546.6 246.0h6.5M519.4 250.0h3.5M516.4 255.0h3.5M549.6 255.0h3.5M619.1 257.0h3.5M610.0 258.0h3.5M567.7 261.0h3.5M546.6 262.0h3.5M190.1 263.0h3.5M555.6 266.0h3.5M625.1 268.0h3.5M555.6 271.0h3.5M643.2 272.0h3.5M643.2 273.0h3.5M534.5 274.0h3.5M640.2 274.0h3.5M534.5 275.0h3.5M616.1 275.0h3.5M196.1 276.0h3.5M537.5 276.0h3.5M202.2 277.0h3.5M199.1 278.0h3.5M537.5 285.0h3.5M522.4 287.0h3.5M217.3 288.0h3.5M616.1 289.0h3.5M320.0 290.0h3.5M616.1 290.0h3.5M159.9 291.0h3.5M534.5 294.0h3.5M543.5 295.0h3.5M120.6 296.0h6.5M138.7 296.0h3.5M640.2 297.0h3.5M507.3 298.0h3.5M616.1 298.0h3.5M540.5 300.0h3.5M640.2 300.0h3.5M241.4 301.0h3.5M244.5 302.0h3.5M522.4 302.0h3.5M597.9 302.0h3.5M594.9 303.0h6.5M510.3 309.0h3.5M552.6 312.0h3.5M594.9 313.0h3.5M600.9 313.0h3.5M610.0 314.0h3.5M537.5 317.0h3.5M597.9 317.0h3.5M543.5 318.0h3.5M241.4 321.0h3.5M634.2 322.0h3.5M534.5 323.0h3.5M531.5 324.0h3.5M604.0 324.0h3.5M138.7 325.0h3.5M537.5 325.0h3.5M513.3 328.0h3.5M552.6 328.0h3.5M250.5 332.0h3.5M631.2 332.0h3.5M534.5 333.0h6.5M543.5 334.0h6.5M600.9 334.0h3.5M610.0 334.0h3.5M594.9 335.0h3.5M543.5 336.0h3.5M576.8 338.0h3.5M625.1 340.0h6.5M522.4 341.0h3.5M256.5 345.0h3.5M507.3 346.0h3.5M528.4 346.0h3.5M594.9 347.0h3.5M594.9 348.0h3.5M250.5 350.0h3.5M528.4 352.0h3.5M317.0 357.0h3.5M516.4 359.0h3.5M561.7 359.0h6.5M540.5 363.0h3.5M549.6 363.0h3.5M600.9 363.0h3.5M607.0 363.0h3.5M549.6 364.0h3.5M117.6 365.0h3.5M187.1 365.0h3.5M117.6 366.0h3.5M528.4 366.0h3.5M286.8 367.0h3.5M582.8 367.0h3.5M625.1 367.0h3.5M634.2 367.0h3.5M286.8 368.0h3.5M555.6 368.0h3.5M622.1 368.0h3.5M640.2 368.0h6.5M510.3 369.0h3.5M516.4 369.0h3.5M141.7 370.0h3.5M507.3 370.0h3.5M150.8 371.0h3.5M507.3 371.0h6.5M525.4 373.0h3.5M531.5 373.0h3.5M232.4 374.0h3.5M196.1 375.0h3.5M522.4 375.0h3.5M232.4 376.0h3.5M193.1 377.0h3.5M513.3 379.0h3.5M265.6 380.0h3.5M193.1 382.0h3.5M525.4 382.0h3.5M196.1 383.0h3.5M265.6 383.0h3.5M525.4 383.0h3.5"/><path stroke="#c32228" d="M640.2 129.0h3.5M196.1 131.0h3.5M610.0 131.0h3.5M634.2 132.0h6.5M250.5 133.0h3.5M516.4 133.0h3.5M646.3 134.0h6.5M625.1 136.0h3.5M362.3 140.0h3.5M498.2 142.0h3.5M498.2 143.0h3.5M132.7 144.0h3.5M537.5 144.0h3.5M159.9 145.0h3.5M310.9 148.0h3.5M561.7 149.0h3.5M247.5 150.0h3.5M286.8 150.0h3.5M268.6 154.0h3.5M283.7 156.0h3.5M347.2 158.0h3.5M153.8 161.0h3.5M546.6 161.0h3.5M531.5 166.0h3.5M616.1 170.0h3.5M628.1 170.0h3.5M504.3 174.0h3.5M522.4 174.0h3.5M489.2 185.0h3.5M561.7 186.0h3.5M610.0 187.0h3.5M525.4 189.0h3.5M613.0 189.0h3.5M187.1 191.0h3.5M501.3 198.0h6.5M519.4 201.0h3.5M531.5 205.0h3.5M619.1 206.0h3.5M543.5 223.0h3.5M634.2 225.0h3.5M534.5 229.0h3.5M643.2 230.0h3.5M522.4 233.0h3.5M540.5 238.0h3.5M114.5 240.0h3.5M531.5 243.0h3.5M537.5 243.0h6.5M543.5 246.0h3.5M516.4 249.0h3.5M522.4 250.0h3.5M631.2 252.0h3.5M610.0 254.0h3.5M552.6 255.0h3.5M610.0 255.0h3.5M516.4 256.0h3.5M534.5 257.0h3.5M622.1 258.0h6.5M519.4 259.0h3.5M570.7 260.0h3.5M622.1 266.0h3.5M625.1 267.0h3.5M522.4 268.0h6.5M546.6 270.0h3.5M162.9 274.0h3.5M546.6 276.0h3.5M625.1 276.0h3.5M196.1 277.0h6.5M631.2 277.0h3.5M640.2 281.0h3.5M555.6 291.0h3.5M631.2 292.0h3.5M625.1 294.0h3.5M531.5 295.0h3.5M147.8 300.0h3.5M604.0 300.0h6.5M625.1 300.0h3.5M643.2 300.0h3.5M613.0 305.0h3.5M613.0 306.0h3.5M531.5 310.0h3.5M591.9 312.0h3.5M591.9 313.0h3.5M543.5 317.0h3.5M607.0 318.0h3.5M625.1 323.0h3.5M507.3 329.0h6.5M525.4 330.0h3.5M534.5 334.0h6.5M613.0 334.0h3.5M513.3 336.0h3.5M552.6 336.0h3.5M543.5 340.0h6.5M564.7 340.0h3.5M631.2 340.0h3.5M184.0 342.0h3.5M522.4 342.0h3.5M250.5 345.0h3.5M259.6 345.0h3.5M138.7 346.0h3.5M531.5 346.0h3.5M549.6 346.0h6.5M564.7 346.0h3.5M597.9 348.0h3.5M549.6 351.0h3.5M507.3 357.0h3.5M317.0 358.0h3.5M534.5 358.0h3.5M534.5 359.0h3.5M604.0 363.0h3.5M138.7 366.0h3.5M616.1 366.0h3.5M114.5 367.0h3.5M141.7 367.0h3.5M516.4 368.0h3.5M507.3 369.0h3.5M510.3 370.0h3.5M540.5 371.0h3.5M546.6 373.0h3.5M150.8 374.0h3.5M184.0 376.0h3.5M196.1 376.0h3.5M196.1 377.0h3.5M507.3 379.0h3.5M313.9 380.0h6.5M187.1 381.0h9.6M190.1 382.0h3.5M531.5 382.0h6.5M193.1 383.0h3.5M289.8 383.0h3.5"/><path stroke="#af1428" d="M540.5 129.0h3.5M534.5 130.0h3.5M613.0 131.0h3.5M631.2 132.0h3.5M640.2 132.0h9.6M610.0 133.0h3.5M265.6 134.0h3.5M241.4 136.0h3.5M265.6 136.0h3.5M313.9 136.0h3.5M531.5 136.0h3.5M631.2 137.0h3.5M132.7 138.0h3.5M649.3 138.0h3.5M564.7 139.0h3.5M649.3 139.0h3.5M235.4 140.0h6.5M507.3 140.0h3.5M625.1 140.0h6.5M202.2 141.0h3.5M250.5 142.0h3.5M501.3 142.0h3.5M250.5 143.0h3.5M162.9 145.0h3.5M241.4 145.0h3.5M132.7 146.0h3.5M162.9 146.0h6.5M199.1 148.0h3.5M313.9 148.0h3.5M516.4 148.0h3.5M555.6 148.0h3.5M199.1 149.0h3.5M613.0 149.0h3.5M625.1 149.0h3.5M211.2 150.0h3.5M516.4 151.0h3.5M156.8 153.0h3.5M516.4 154.0h3.5M646.3 154.0h3.5M268.6 155.0h3.5M359.3 155.0h3.5M525.4 157.0h3.5M283.7 158.0h6.5M196.1 159.0h3.5M347.2 159.0h3.5M274.7 160.0h3.5M129.7 161.0h3.5M543.5 161.0h3.5M519.4 163.0h3.5M613.0 163.0h3.5M531.5 165.0h3.5M570.7 167.0h3.5M528.4 169.0h3.5M628.1 169.0h3.5M634.2 169.0h6.5M613.0 170.0h3.5M646.3 170.0h6.5M519.4 174.0h3.5M537.5 175.0h3.5M537.5 176.0h6.5M613.0 176.0h3.5M531.5 177.0h3.5M625.1 179.0h6.5M522.4 183.0h3.5M534.5 184.0h3.5M513.3 185.0h6.5M528.4 185.0h3.5M501.3 186.0h3.5M525.4 187.0h3.5M504.3 188.0h3.5M522.4 189.0h3.5M543.5 189.0h3.5M504.3 190.0h3.5M613.0 190.0h3.5M190.1 191.0h3.5M495.2 192.0h3.5M501.3 197.0h6.5M646.3 198.0h3.5M637.2 199.0h3.5M498.2 200.0h3.5M522.4 201.0h3.5M610.0 201.0h6.5M625.1 201.0h3.5M610.0 203.0h3.5M616.1 204.0h6.5M625.1 204.0h3.5M622.1 206.0h9.6M495.2 207.0h3.5M649.3 210.0h3.5M516.4 222.0h3.5M543.5 222.0h3.5M610.0 222.0h3.5M616.1 222.0h3.5M546.6 223.0h6.5M543.5 224.0h6.5M628.1 224.0h3.5M519.4 225.0h3.5M507.3 227.0h3.5M552.6 227.0h3.5M507.3 228.0h3.5M613.0 229.0h6.5M622.1 229.0h3.5M510.3 231.0h3.5M522.4 231.0h3.5M613.0 231.0h9.6M616.1 232.0h6.5M510.3 233.0h12.6M549.6 233.0h3.5M162.9 234.0h3.5M549.6 234.0h9.6M613.0 234.0h6.5M162.9 235.0h3.5M613.0 235.0h6.5M534.5 238.0h6.5M613.0 238.0h3.5M625.1 238.0h6.5M540.5 241.0h9.6M631.2 242.0h3.5M640.2 242.0h3.5M540.5 244.0h3.5M613.0 245.0h3.5M540.5 246.0h3.5M510.3 249.0h6.5M634.2 249.0h9.6M516.4 250.0h3.5M646.3 250.0h3.5M537.5 251.0h3.5M507.3 252.0h3.5M516.4 252.0h6.5M534.5 252.0h6.5M625.1 252.0h6.5M622.1 254.0h6.5M543.5 255.0h6.5M516.4 257.0h3.5M613.0 257.0h6.5M634.2 258.0h3.5M534.5 260.0h6.5M540.5 261.0h3.5M564.7 261.0h3.5M540.5 262.0h6.5M646.3 264.0h3.5M622.1 265.0h3.5M519.4 267.0h6.5M555.6 267.0h3.5M622.1 267.0h3.5M543.5 270.0h3.5M549.6 270.0h9.6M649.3 270.0h3.5M649.3 272.0h3.5M643.2 274.0h3.5M625.1 275.0h3.5M643.2 275.0h3.5M649.3 275.0h3.5M543.5 276.0h3.5M616.1 276.0h6.5M628.1 276.0h3.5M543.5 277.0h3.5M625.1 277.0h6.5M117.6 279.0h3.5M247.5 279.0h3.5M649.3 279.0h6.5M546.6 280.0h3.5M516.4 281.0h3.5M525.4 281.0h3.5M534.5 281.0h3.5M643.2 281.0h3.5M649.3 281.0h3.5M528.4 282.0h6.5M552.6 282.0h6.5M643.2 282.0h6.5M646.3 283.0h3.5M640.2 286.0h3.5M528.4 289.0h3.5M555.6 289.0h3.5M555.6 290.0h3.5M513.3 292.0h3.5M628.1 292.0h3.5M640.2 292.0h3.5M625.1 293.0h3.5M640.2 293.0h3.5M528.4 294.0h3.5M525.4 295.0h3.5M546.6 295.0h3.5M247.5 296.0h3.5M640.2 296.0h3.5M549.6 297.0h3.5M625.1 297.0h3.5M543.5 300.0h3.5M594.9 300.0h3.5M196.1 301.0h3.5M549.6 301.0h3.5M625.1 301.0h3.5M634.2 301.0h3.5M634.2 302.0h3.5M643.2 303.0h6.5M507.3 307.0h3.5M555.6 307.0h3.5M141.7 309.0h3.5M534.5 313.0h3.5M540.5 314.0h3.5M534.5 315.0h3.5M622.1 315.0h3.5M175.0 317.0h3.5M540.5 317.0h3.5M144.8 318.0h6.5M604.0 318.0h3.5M543.5 319.0h3.5M513.3 320.0h6.5M528.4 320.0h3.5M607.0 320.0h6.5M181.0 321.0h3.5M540.5 321.0h6.5M552.6 321.0h3.5M613.0 322.0h3.5M643.2 322.0h3.5M531.5 323.0h3.5M640.2 323.0h6.5M525.4 324.0h6.5M540.5 324.0h3.5M543.5 326.0h6.5M564.7 327.0h3.5M510.3 328.0h3.5M534.5 328.0h3.5M543.5 328.0h6.5M640.2 328.0h6.5M549.6 329.0h3.5M519.4 330.0h6.5M543.5 330.0h12.6M585.8 330.0h3.5M588.9 332.0h3.5M543.5 339.0h3.5M519.4 341.0h3.5M537.5 341.0h3.5M181.0 342.0h3.5M525.4 342.0h3.5M643.2 342.0h9.6M519.4 345.0h3.5M534.5 347.0h9.6M540.5 348.0h6.5M549.6 350.0h3.5M507.3 351.0h3.5M265.6 352.0h3.5M507.3 352.0h6.5M256.5 353.0h9.6M150.8 354.0h3.5M540.5 357.0h6.5M531.5 358.0h3.5M537.5 359.0h3.5M594.9 361.0h3.5M516.4 362.0h3.5M531.5 362.0h3.5M622.1 362.0h3.5M507.3 363.0h6.5M516.4 363.0h3.5M537.5 363.0h3.5M546.6 363.0h3.5M594.9 363.0h6.5M619.1 363.0h6.5M594.9 364.0h3.5M607.0 364.0h6.5M643.2 364.0h3.5M138.7 365.0h3.5M564.7 365.0h3.5M120.6 366.0h3.5M126.6 366.0h3.5M549.6 366.0h3.5M120.6 367.0h9.6M159.9 367.0h3.5M178.0 367.0h3.5M504.3 367.0h3.5M525.4 367.0h3.5M546.6 367.0h3.5M585.8 367.0h3.5M631.2 367.0h3.5M120.6 368.0h3.5M126.6 368.0h3.5M141.7 368.0h3.5M519.4 368.0h6.5M543.5 368.0h12.6M619.1 368.0h3.5M141.7 369.0h3.5M184.0 369.0h3.5M552.6 369.0h3.5M144.8 370.0h6.5M184.0 370.0h3.5M250.5 370.0h3.5M519.4 370.0h3.5M640.2 370.0h3.5M153.8 371.0h3.5M537.5 371.0h3.5M555.6 371.0h3.5M114.5 372.0h3.5M540.5 372.0h6.5M175.0 373.0h3.5M528.4 373.0h3.5M138.7 374.0h3.5M519.4 374.0h3.5M643.2 374.0h3.5M153.8 375.0h6.5M283.7 375.0h3.5M298.8 375.0h3.5M519.4 375.0h3.5M144.8 377.0h3.5M537.5 377.0h3.5M132.7 378.0h3.5M549.6 378.0h6.5M543.5 379.0h3.5M117.6 380.0h3.5M132.7 380.0h3.5M190.1 380.0h3.5M616.1 381.0h3.5M268.6 382.0h3.5M537.5 382.0h9.6M640.2 383.0h3.5"/><path stroke="#313695" stroke-width="2" d="M546.6 128.0h9.6M552.6 130.0h3.5M546.6 131.0h3.5M495.2 132.0h3.5M495.2 133.0h3.5M546.6 133.0h3.5M552.6 133.0h3.5M495.2 134.0h3.5M546.6 134.0h3.5M546.6 135.0h3.5M552.6 135.0h3.5M546.6 136.0h3.5M546.6 137.0h9.6M546.6 138.0h9.6M546.6 139.0h9.6M655.3 166.0h3.5M489.2 219.0h12.6M489.2 220.0h12.6M504.3 220.0h3.5M652.3 220.0h3.5M492.2 221.0h15.6M489.2 222.0h18.6M652.3 222.0h3.5M489.2 223.0h18.6M489.2 224.0h6.5M498.2 224.0h6.5M489.2 225.0h18.6M492.2 226.0h9.6M504.3 226.0h3.5M489.2 227.0h12.6M492.2 228.0h12.6M489.2 229.0h6.5M498.2 229.0h9.6M489.2 230.0h18.6M492.2 231.0h3.5M498.2 231.0h6.5M652.3 231.0h3.5M489.2 232.0h15.6M492.2 233.0h12.6M492.2 234.0h18.6M489.2 235.0h18.6M492.2 236.0h6.5M501.3 236.0h3.5M652.3 236.0h3.5M489.2 237.0h18.6M495.2 238.0h12.6M652.3 238.0h3.5M498.2 239.0h3.5M504.3 239.0h3.5M489.2 240.0h9.6M501.3 240.0h3.5M489.2 241.0h9.6M504.3 241.0h3.5M489.2 242.0h9.6M504.3 242.0h3.5M489.2 243.0h9.6M504.3 243.0h3.5M489.2 244.0h9.6M489.2 245.0h9.6M504.3 245.0h3.5M489.2 246.0h9.6M504.3 246.0h6.5M489.2 247.0h3.5M489.2 248.0h3.5M504.3 248.0h3.5M489.2 249.0h9.6M504.3 249.0h3.5M489.2 250.0h9.6M504.3 250.0h3.5M489.2 251.0h9.6M504.3 251.0h3.5M489.2 252.0h9.6M528.4 252.0h3.5M489.2 253.0h9.6M504.3 253.0h3.5M652.3 253.0h6.5M489.2 254.0h9.6M504.3 254.0h3.5M489.2 255.0h9.6M504.3 255.0h3.5M489.2 256.0h3.5M495.2 256.0h3.5M504.3 256.0h3.5M492.2 257.0h6.5M504.3 257.0h3.5M492.2 258.0h6.5M504.3 258.0h3.5M489.2 259.0h3.5M504.3 259.0h3.5M489.2 260.0h6.5M504.3 260.0h3.5M489.2 261.0h6.5M652.3 261.0h3.5M655.3 262.0h3.5M652.3 264.0h3.5M655.3 272.0h3.5M489.2 273.0h15.6M489.2 274.0h6.5M498.2 274.0h9.6M489.2 275.0h9.6M501.3 275.0h6.5M489.2 276.0h18.6M495.2 277.0h3.5M501.3 277.0h3.5M489.2 278.0h18.6M489.2 279.0h9.6M504.3 279.0h3.5M489.2 280.0h9.6M504.3 280.0h3.5M495.2 281.0h12.6M489.2 282.0h18.6M489.2 283.0h6.5M498.2 283.0h9.6M495.2 284.0h6.5M492.2 285.0h12.6M489.2 286.0h3.5M498.2 286.0h9.6M489.2 287.0h18.6M492.2 288.0h9.6M504.3 288.0h3.5M495.2 289.0h3.5M498.2 290.0h6.5M489.2 291.0h18.6M489.2 292.0h12.6M498.2 293.0h3.5M504.3 293.0h3.5M489.2 294.0h9.6M504.3 294.0h6.5M489.2 295.0h12.6M504.3 295.0h3.5M489.2 296.0h6.5M498.2 296.0h9.6M489.2 297.0h9.6M501.3 297.0h6.5M368.3 301.0h3.5M492.2 301.0h9.6M495.2 306.0h3.5M492.2 308.0h3.5M489.2 314.0h3.5M495.2 316.0h3.5M489.2 317.0h3.5M501.3 317.0h3.5M649.3 317.0h3.5M489.2 319.0h3.5M498.2 322.0h3.5M489.2 323.0h3.5M501.3 324.0h3.5M513.3 324.0h3.5M489.2 325.0h3.5M495.2 325.0h6.5M513.3 325.0h3.5M513.3 326.0h3.5M489.2 328.0h3.5M489.2 329.0h3.5M504.3 330.0h3.5M489.2 331.0h3.5M492.2 332.0h3.5M504.3 332.0h3.5M504.3 333.0h3.5M489.2 334.0h3.5M495.2 336.0h3.5M492.2 338.0h3.5M498.2 338.0h3.5M504.3 338.0h3.5M492.2 339.0h3.5M498.2 339.0h9.6M489.2 340.0h3.5M498.2 340.0h3.5M489.2 341.0h12.6M504.3 341.0h3.5M492.2 342.0h9.6M489.2 343.0h3.5M498.2 343.0h6.5M652.3 343.0h3.5M489.2 344.0h6.5M504.3 344.0h3.5M492.2 345.0h3.5M501.3 345.0h3.5M489.2 346.0h3.5M495.2 346.0h12.6M498.2 347.0h6.5M492.2 348.0h15.6M492.2 349.0h6.5M501.3 349.0h6.5M489.2 350.0h3.5M498.2 350.0h6.5M489.2 351.0h15.6M495.2 352.0h6.5M504.3 352.0h3.5M489.2 353.0h18.6M492.2 354.0h15.6M495.2 355.0h12.6M492.2 356.0h15.6M504.3 357.0h3.5M492.2 358.0h6.5M498.2 359.0h6.5M489.2 360.0h3.5M495.2 360.0h12.6M489.2 361.0h6.5M501.3 361.0h6.5M489.2 362.0h15.6M498.2 363.0h3.5M492.2 364.0h15.6M498.2 365.0h3.5M504.3 365.0h3.5"/><path stroke="#36459c" stroke-width="2" d="M495.2 130.0h3.5M546.6 130.0h6.5M495.2 131.0h3.5M552.6 131.0h3.5M546.6 132.0h3.5M552.6 134.0h3.5M495.2 135.0h3.5M495.2 136.0h3.5M552.6 136.0h3.5M495.2 137.0h3.5M495.2 138.0h3.5M495.2 139.0h3.5M652.3 172.0h3.5M489.2 173.0h3.5M501.3 220.0h3.5M489.2 221.0h3.5M652.3 223.0h3.5M504.3 224.0h3.5M652.3 224.0h3.5M489.2 226.0h3.5M501.3 226.0h3.5M504.3 227.0h3.5M489.2 228.0h3.5M652.3 228.0h3.5M495.2 229.0h3.5M489.2 231.0h3.5M495.2 231.0h3.5M504.3 231.0h3.5M504.3 232.0h3.5M489.2 233.0h3.5M504.3 233.0h3.5M652.3 233.0h3.5M489.2 236.0h3.5M498.2 236.0h3.5M504.3 236.0h3.5M492.2 238.0h3.5M501.3 239.0h3.5M498.2 240.0h3.5M504.3 240.0h3.5M501.3 245.0h3.5M655.3 246.0h3.5M492.2 247.0h6.5M504.3 247.0h3.5M492.2 248.0h6.5M652.3 251.0h3.5M504.3 252.0h3.5M655.3 254.0h3.5M528.4 255.0h3.5M492.2 256.0h3.5M528.4 256.0h6.5M489.2 257.0h3.5M492.2 259.0h6.5M495.2 260.0h3.5M652.3 260.0h3.5M495.2 261.0h3.5M652.3 262.0h3.5M567.7 264.0h3.5M652.3 265.0h3.5M567.7 268.0h3.5M652.3 271.0h3.5M495.2 274.0h3.5M498.2 275.0h3.5M655.3 276.0h3.5M489.2 277.0h3.5M498.2 277.0h3.5M498.2 279.0h6.5M498.2 280.0h6.5M495.2 283.0h3.5M492.2 284.0h3.5M489.2 285.0h3.5M504.3 285.0h3.5M492.2 286.0h6.5M501.3 288.0h3.5M492.2 289.0h3.5M498.2 289.0h9.6M492.2 290.0h6.5M504.3 290.0h6.5M504.3 292.0h3.5M492.2 293.0h6.5M501.3 293.0h3.5M498.2 294.0h6.5M501.3 295.0h3.5M646.3 295.0h3.5M495.2 296.0h3.5M498.2 297.0h3.5M374.4 300.0h3.5M492.2 300.0h3.5M371.3 304.0h3.5M492.2 305.0h3.5M495.2 308.0h3.5M489.2 315.0h6.5M498.2 317.0h3.5M504.3 317.0h3.5M498.2 318.0h6.5M501.3 322.0h3.5M498.2 323.0h3.5M492.2 324.0h6.5M492.2 325.0h3.5M492.2 326.0h3.5M519.4 326.0h6.5M492.2 328.0h3.5M495.2 331.0h3.5M501.3 331.0h6.5M495.2 332.0h3.5M489.2 333.0h3.5M492.2 335.0h3.5M489.2 336.0h6.5M492.2 337.0h3.5M504.3 337.0h3.5M489.2 338.0h3.5M495.2 338.0h3.5M501.3 338.0h3.5M492.2 340.0h6.5M501.3 340.0h3.5M501.3 342.0h6.5M492.2 343.0h6.5M504.3 343.0h3.5M646.3 343.0h6.5M655.3 343.0h3.5M495.2 344.0h9.6M495.2 347.0h3.5M498.2 349.0h3.5M492.2 350.0h6.5M504.3 351.0h3.5M489.2 352.0h3.5M489.2 355.0h3.5M492.2 357.0h12.6M489.2 358.0h3.5M501.3 358.0h6.5M489.2 359.0h9.6M504.3 359.0h3.5M495.2 361.0h6.5M489.2 363.0h9.6M501.3 363.0h6.5M495.2 365.0h3.5M501.3 365.0h3.5M646.3 381.0h3.5M652.3 381.0h6.5M649.3 382.0h3.5"/><path stroke="#3a54a4" stroke-width="2" d="M495.2 129.0h3.5M552.6 132.0h3.5M492.2 167.0h9.6M492.2 168.0h3.5M655.3 168.0h3.5M377.4 171.0h3.5M495.2 171.0h3.5M655.3 171.0h3.5M368.3 172.0h3.5M492.2 173.0h3.5M504.3 219.0h3.5M652.3 219.0h3.5M525.4 222.0h6.5M495.2 224.0h3.5M652.3 225.0h3.5M652.3 226.0h3.5M501.3 227.0h3.5M652.3 227.0h3.5M504.3 228.0h3.5M652.3 235.0h3.5M525.4 236.0h3.5M652.3 237.0h3.5M489.2 239.0h9.6M498.2 241.0h3.5M652.3 241.0h3.5M652.3 243.0h3.5M504.3 244.0h3.5M652.3 245.0h3.5M501.3 246.0h3.5M652.3 246.0h3.5M655.3 248.0h3.5M525.4 251.0h3.5M501.3 252.0h3.5M528.4 254.0h3.5M652.3 254.0h3.5M501.3 256.0h3.5M655.3 256.0h3.5M655.3 257.0h3.5M652.3 259.0h3.5M498.2 261.0h9.6M525.4 261.0h3.5M498.2 262.0h3.5M495.2 263.0h3.5M652.3 263.0h3.5M652.3 267.0h3.5M492.2 268.0h3.5M652.3 268.0h3.5M652.3 270.0h3.5M655.3 273.0h3.5M492.2 277.0h3.5M504.3 277.0h3.5M489.2 281.0h3.5M489.2 284.0h3.5M504.3 284.0h3.5M489.2 288.0h3.5M489.2 289.0h3.5M489.2 290.0h3.5M489.2 293.0h3.5M495.2 300.0h3.5M371.3 301.0h3.5M501.3 301.0h3.5M374.4 303.0h3.5M495.2 305.0h6.5M495.2 307.0h3.5M495.2 311.0h3.5M495.2 313.0h3.5M495.2 314.0h3.5M489.2 316.0h3.5M495.2 318.0h3.5M498.2 321.0h6.5M489.2 322.0h9.6M498.2 324.0h3.5M522.4 324.0h3.5M501.3 325.0h3.5M516.4 325.0h3.5M495.2 326.0h3.5M489.2 327.0h6.5M498.2 327.0h3.5M510.3 327.0h3.5M516.4 327.0h3.5M495.2 328.0h3.5M501.3 328.0h3.5M492.2 329.0h3.5M495.2 330.0h3.5M492.2 331.0h3.5M498.2 331.0h3.5M498.2 332.0h3.5M492.2 333.0h6.5M501.3 334.0h3.5M489.2 335.0h3.5M495.2 335.0h3.5M498.2 336.0h3.5M495.2 337.0h3.5M501.3 337.0h3.5M489.2 339.0h3.5M495.2 339.0h3.5M504.3 340.0h3.5M489.2 342.0h3.5M489.2 345.0h3.5M495.2 345.0h3.5M492.2 346.0h3.5M489.2 347.0h6.5M504.3 347.0h3.5M504.3 350.0h3.5M492.2 352.0h3.5M501.3 352.0h3.5M489.2 357.0h3.5M489.2 365.0h6.5M655.3 372.0h3.5M649.3 381.0h3.5M652.3 382.0h3.5"/><path stroke="#4064ac" stroke-width="2" d="M368.3 166.0h3.5M489.2 167.0h3.5M368.3 168.0h3.5M495.2 168.0h3.5M652.3 168.0h3.5M368.3 169.0h3.5M652.3 169.0h6.5M489.2 170.0h3.5M652.3 170.0h6.5M377.4 172.0h3.5M492.2 172.0h6.5M652.3 173.0h6.5M495.2 176.0h3.5M489.2 177.0h3.5M371.3 178.0h9.6M655.3 209.0h3.5M652.3 221.0h3.5M525.4 223.0h3.5M528.4 224.0h3.5M652.3 230.0h3.5M489.2 234.0h3.5M525.4 234.0h6.5M652.3 234.0h3.5M525.4 235.0h3.5M528.4 236.0h3.5M489.2 238.0h3.5M483.1 239.0h3.5M655.3 241.0h3.5M525.4 242.0h6.5M652.3 242.0h6.5M655.3 243.0h3.5M652.3 244.0h6.5M655.3 245.0h3.5M655.3 247.0h3.5M652.3 248.0h3.5M655.3 249.0h3.5M655.3 250.0h3.5M480.1 251.0h3.5M655.3 251.0h3.5M652.3 252.0h6.5M525.4 253.0h3.5M652.3 255.0h6.5M498.2 256.0h3.5M652.3 256.0h3.5M652.3 257.0h3.5M652.3 258.0h3.5M525.4 259.0h3.5M528.4 261.0h3.5M501.3 263.0h3.5M570.7 264.0h3.5M652.3 266.0h3.5M567.7 270.0h3.5M504.3 273.0h3.5M655.3 277.0h3.5M492.2 281.0h3.5M655.3 282.0h3.5M501.3 284.0h3.5M655.3 291.0h3.5M501.3 292.0h3.5M377.4 301.0h3.5M498.2 302.0h3.5M501.3 303.0h3.5M368.3 304.0h3.5M374.4 304.0h6.5M498.2 309.0h3.5M498.2 310.0h3.5M489.2 312.0h3.5M501.3 314.0h3.5M495.2 315.0h3.5M492.2 316.0h3.5M501.3 316.0h3.5M492.2 317.0h6.5M492.2 318.0h3.5M501.3 319.0h3.5M492.2 320.0h3.5M492.2 323.0h3.5M501.3 323.0h9.6M519.4 323.0h3.5M510.3 324.0h3.5M522.4 325.0h3.5M489.2 326.0h3.5M504.3 326.0h9.6M495.2 327.0h3.5M501.3 327.0h3.5M507.3 327.0h3.5M513.3 327.0h3.5M519.4 327.0h6.5M498.2 328.0h3.5M504.3 328.0h3.5M495.2 329.0h3.5M501.3 329.0h3.5M489.2 330.0h6.5M498.2 330.0h3.5M498.2 334.0h3.5M498.2 335.0h3.5M501.3 336.0h3.5M489.2 349.0h3.5M489.2 354.0h3.5M655.3 361.0h3.5M504.3 362.0h3.5M655.3 362.0h3.5M489.2 364.0h3.5M655.3 367.0h3.5M655.3 375.0h3.5"/><path stroke="#4575b4" stroke-width="2" d="M368.3 165.0h6.5M371.3 166.0h6.5M377.4 167.0h3.5M655.3 167.0h3.5M374.4 168.0h6.5M371.3 169.0h3.5M368.3 170.0h3.5M492.2 170.0h3.5M368.3 171.0h6.5M498.2 171.0h3.5M652.3 171.0h3.5M371.3 172.0h3.5M655.3 172.0h3.5M368.3 173.0h9.6M371.3 174.0h9.6M495.2 174.0h3.5M655.3 174.0h3.5M368.3 175.0h6.5M492.2 175.0h3.5M498.2 175.0h3.5M492.2 176.0h3.5M377.4 177.0h3.5M495.2 177.0h3.5M528.4 220.0h3.5M528.4 223.0h3.5M525.4 224.0h3.5M655.3 226.0h3.5M528.4 227.0h3.5M652.3 229.0h3.5M528.4 230.0h3.5M652.3 232.0h3.5M528.4 235.0h3.5M528.4 237.0h3.5M486.1 238.0h3.5M528.4 238.0h3.5M480.1 239.0h3.5M528.4 239.0h3.5M525.4 240.0h3.5M486.1 242.0h3.5M483.1 243.0h6.5M480.1 244.0h3.5M486.1 244.0h3.5M528.4 244.0h3.5M480.1 245.0h3.5M480.1 247.0h3.5M480.1 248.0h3.5M525.4 248.0h3.5M486.1 250.0h3.5M525.4 250.0h3.5M652.3 250.0h3.5M480.1 252.0h3.5M480.1 253.0h6.5M501.3 253.0h3.5M528.4 253.0h3.5M483.1 254.0h6.5M483.1 255.0h3.5M528.4 257.0h3.5M655.3 258.0h3.5M528.4 259.0h3.5M525.4 260.0h6.5M498.2 263.0h3.5M567.7 266.0h6.5M495.2 267.0h3.5M504.3 268.0h3.5M655.3 269.0h3.5M495.2 270.0h3.5M655.3 278.0h3.5M655.3 281.0h3.5M655.3 283.0h3.5M655.3 286.0h3.5M655.3 294.0h3.5M495.2 298.0h3.5M489.2 299.0h3.5M377.4 300.0h3.5M371.3 302.0h6.5M504.3 302.0h3.5M368.3 303.0h6.5M377.4 303.0h3.5M492.2 306.0h3.5M492.2 307.0h3.5M480.1 308.0h3.5M489.2 310.0h9.6M492.2 312.0h3.5M492.2 314.0h3.5M504.3 314.0h3.5M504.3 315.0h3.5M504.3 316.0h3.5M498.2 319.0h3.5M504.3 319.0h3.5M489.2 320.0h3.5M504.3 320.0h3.5M495.2 321.0h3.5M504.3 322.0h3.5M510.3 323.0h9.6M522.4 323.0h3.5M507.3 324.0h3.5M516.4 324.0h6.5M507.3 325.0h6.5M498.2 326.0h6.5M516.4 326.0h3.5M504.3 327.0h3.5M498.2 329.0h3.5M504.3 329.0h3.5M501.3 330.0h3.5M501.3 332.0h3.5M501.3 333.0h3.5M504.3 335.0h3.5M504.3 336.0h3.5M498.2 337.0h3.5M501.3 341.0h3.5M498.2 345.0h3.5M655.3 360.0h3.5M655.3 365.0h3.5M655.3 366.0h3.5M655.3 368.0h3.5M655.3 369.0h3.5M655.3 376.0h3.5"/><path stroke="#5c91c2" stroke-width="2" d="M374.4 165.0h3.5M377.4 166.0h3.5M652.3 166.0h3.5M368.3 167.0h9.6M652.3 167.0h3.5M371.3 168.0h3.5M489.2 168.0h3.5M498.2 168.0h3.5M374.4 169.0h3.5M498.2 169.0h3.5M377.4 170.0h3.5M495.2 170.0h6.5M374.4 172.0h3.5M498.2 172.0h3.5M495.2 173.0h6.5M368.3 174.0h3.5M492.2 174.0h3.5M652.3 174.0h3.5M374.4 175.0h6.5M489.2 175.0h3.5M368.3 176.0h12.6M371.3 177.0h6.5M655.3 182.0h3.5M655.3 207.0h3.5M652.3 208.0h6.5M525.4 220.0h3.5M525.4 226.0h6.5M525.4 227.0h3.5M525.4 231.0h3.5M528.4 233.0h3.5M483.1 238.0h3.5M525.4 238.0h3.5M486.1 239.0h3.5M525.4 239.0h3.5M652.3 239.0h3.5M528.4 240.0h3.5M480.1 241.0h6.5M525.4 241.0h6.5M483.1 242.0h3.5M483.1 244.0h3.5M483.1 245.0h6.5M480.1 246.0h9.6M525.4 246.0h6.5M483.1 247.0h6.5M525.4 247.0h6.5M652.3 247.0h3.5M483.1 248.0h6.5M480.1 249.0h3.5M480.1 250.0h6.5M483.1 252.0h6.5M486.1 253.0h3.5M498.2 253.0h3.5M480.1 254.0h3.5M480.1 255.0h3.5M486.1 255.0h3.5M480.1 256.0h3.5M480.1 257.0h3.5M501.3 262.0h3.5M492.2 263.0h3.5M504.3 263.0h3.5M498.2 264.0h3.5M567.7 265.0h3.5M498.2 267.0h3.5M504.3 267.0h3.5M655.3 268.0h3.5M495.2 269.0h3.5M652.3 269.0h3.5M504.3 270.0h3.5M570.7 270.0h3.5M655.3 270.0h3.5M504.3 271.0h3.5M570.7 271.0h3.5M504.3 272.0h3.5M480.1 275.0h6.5M480.1 279.0h3.5M655.3 280.0h3.5M655.3 284.0h3.5M655.3 287.0h3.5M655.3 292.0h3.5M486.1 295.0h3.5M489.2 298.0h6.5M480.1 300.0h9.6M374.4 301.0h3.5M377.4 302.0h3.5M480.1 303.0h3.5M498.2 303.0h3.5M504.3 305.0h3.5M480.1 307.0h6.5M483.1 308.0h6.5M498.2 308.0h3.5M483.1 309.0h6.5M492.2 309.0h6.5M495.2 312.0h3.5M498.2 315.0h6.5M492.2 319.0h3.5M495.2 320.0h3.5M501.3 320.0h3.5M492.2 321.0h3.5M504.3 324.0h3.5M504.3 325.0h3.5M489.2 332.0h3.5M498.2 333.0h3.5M504.3 334.0h3.5M504.3 345.0h3.5M655.3 374.0h3.5M655.3 377.0h3.5"/><path stroke="#74add1" stroke-width="2" d="M377.4 165.0h3.5M377.4 169.0h3.5M489.2 169.0h6.5M374.4 170.0h3.5M489.2 171.0h3.5M489.2 172.0h3.5M489.2 174.0h3.5M498.2 174.0h3.5M495.2 175.0h3.5M368.3 178.0h3.5M492.2 178.0h9.6M652.3 207.0h3.5M528.4 219.0h3.5M525.4 229.0h6.5M525.4 230.0h3.5M528.4 231.0h3.5M525.4 233.0h3.5M525.4 237.0h3.5M480.1 238.0h3.5M483.1 240.0h6.5M486.1 241.0h3.5M480.1 242.0h3.5M480.1 243.0h3.5M528.4 248.0h3.5M483.1 249.0h6.5M652.3 249.0h3.5M528.4 250.0h3.5M483.1 251.0h6.5M483.1 256.0h6.5M486.1 257.0h3.5M525.4 257.0h3.5M501.3 258.0h3.5M525.4 258.0h6.5M504.3 262.0h3.5M655.3 263.0h3.5M495.2 264.0h3.5M655.3 264.0h3.5M489.2 265.0h3.5M655.3 267.0h3.5M501.3 268.0h3.5M504.3 269.0h3.5M570.7 269.0h3.5M567.7 271.0h3.5M480.1 274.0h9.6M655.3 274.0h3.5M486.1 275.0h3.5M655.3 275.0h3.5M480.1 277.0h3.5M486.1 278.0h3.5M480.1 280.0h9.6M486.1 281.0h3.5M483.1 282.0h6.5M480.1 283.0h3.5M486.1 283.0h3.5M486.1 284.0h3.5M483.1 285.0h3.5M480.1 286.0h9.6M480.1 288.0h9.6M655.3 288.0h3.5M655.3 289.0h3.5M483.1 290.0h6.5M486.1 291.0h3.5M486.1 292.0h3.5M483.1 293.0h6.5M483.1 294.0h6.5M480.1 295.0h6.5M480.1 296.0h9.6M480.1 297.0h3.5M480.1 298.0h9.6M480.1 299.0h3.5M486.1 299.0h3.5M483.1 301.0h6.5M480.1 302.0h9.6M483.1 303.0h3.5M480.1 304.0h6.5M498.2 304.0h3.5M480.1 305.0h9.6M489.2 306.0h3.5M486.1 307.0h6.5M492.2 313.0h3.5M495.2 319.0h3.5M498.2 320.0h3.5M495.2 323.0h3.5M519.4 325.0h3.5M495.2 334.0h3.5M655.3 370.0h3.5M655.3 373.0h3.5"/><path stroke="#90c3dd" stroke-width="2" d="M495.2 169.0h3.5M374.4 171.0h3.5M489.2 178.0h3.5M652.3 182.0h3.5M525.4 219.0h3.5M528.4 225.0h3.5M480.1 240.0h3.5M528.4 243.0h3.5M501.3 248.0h3.5M483.1 257.0h3.5M655.3 261.0h3.5M501.3 264.0h3.5M501.3 267.0h3.5M570.7 268.0h3.5M498.2 270.0h6.5M501.3 272.0h3.5M480.1 276.0h9.6M483.1 277.0h6.5M480.1 278.0h6.5M483.1 279.0h3.5M655.3 279.0h3.5M483.1 281.0h3.5M483.1 283.0h3.5M480.1 285.0h3.5M486.1 285.0h3.5M483.1 287.0h6.5M480.1 289.0h9.6M480.1 290.0h3.5M483.1 291.0h3.5M483.1 292.0h3.5M480.1 293.0h3.5M655.3 293.0h3.5M480.1 294.0h3.5M483.1 297.0h6.5M480.1 301.0h3.5M501.3 302.0h3.5M486.1 303.0h3.5M486.1 304.0h3.5M486.1 306.0h3.5M504.3 311.0h3.5M504.3 318.0h3.5M489.2 324.0h3.5"/><path stroke="#abd9e9" stroke-width="2" d="M492.2 171.0h3.5M377.4 173.0h3.5M368.3 177.0h3.5M525.4 228.0h6.5M525.4 243.0h3.5M501.3 247.0h3.5M498.2 258.0h3.5M504.3 264.0h3.5M504.3 265.0h3.5M655.3 266.0h3.5M489.2 267.0h3.5M489.2 269.0h6.5M501.3 269.0h3.5M489.2 270.0h6.5M480.1 284.0h3.5M483.1 306.0h3.5M489.2 309.0h3.5"/><path stroke="#d8eff6" stroke-width="2" d="M655.3 260.0h3.5M489.2 264.0h6.5M498.2 265.0h3.5M492.2 267.0h3.5M570.7 267.0h3.5M498.2 269.0h3.5M480.1 291.0h3.5M489.2 313.0h3.5"/><path stroke="#fee9cf" stroke-width="2" d="M655.3 156.0h3.5M652.3 190.0h3.5M594.9 279.0h3.5M329.0 281.0h6.5M323.0 294.0h3.5M338.1 296.0h3.5"/><path stroke="#fdd6a5" stroke-width="2" d="M652.3 131.0h3.5M652.3 180.0h3.5M492.2 272.0h3.5M585.8 278.0h3.5M607.0 279.0h3.5M323.0 281.0h3.5M335.1 281.0h3.5M347.2 281.0h3.5M356.2 281.0h3.5M323.0 282.0h3.5M350.2 282.0h3.5M329.0 283.0h3.5M338.1 283.0h3.5M347.2 284.0h6.5M323.0 286.0h3.5M347.2 287.0h3.5M326.0 288.0h3.5M332.1 288.0h9.6M326.0 289.0h3.5M338.1 289.0h3.5M347.2 289.0h6.5M323.0 291.0h3.5M344.2 292.0h3.5M350.2 292.0h3.5M332.1 293.0h3.5M344.2 294.0h3.5M329.0 295.0h3.5M341.1 296.0h3.5M350.2 296.0h3.5M350.2 297.0h6.5M585.8 297.0h3.5M329.0 298.0h6.5M582.8 299.0h3.5M504.3 300.0h12.6M504.3 301.0h3.5M504.3 304.0h3.5M501.3 306.0h3.5"/><path stroke="#fdc283" stroke-width="2" d="M655.3 128.0h3.5M652.3 129.0h3.5M652.3 137.0h3.5M652.3 142.0h3.5M655.3 145.0h3.5M652.3 157.0h3.5M655.3 179.0h3.5M558.7 188.0h12.6M558.7 189.0h9.6M652.3 189.0h3.5M564.7 190.0h3.5M561.7 191.0h9.6M655.3 191.0h3.5M558.7 193.0h12.6M652.3 194.0h3.5M652.3 195.0h3.5M528.4 221.0h3.5M567.7 239.0h3.5M501.3 242.0h3.5M561.7 245.0h3.5M561.7 246.0h3.5M498.2 247.0h3.5M501.3 249.0h3.5M564.7 249.0h3.5M501.3 266.0h6.5M489.2 272.0h3.5M582.8 275.0h3.5M597.9 275.0h3.5M607.0 275.0h3.5M607.0 276.0h3.5M326.0 281.0h3.5M338.1 281.0h9.6M350.2 281.0h3.5M359.3 281.0h9.6M326.0 282.0h6.5M341.1 282.0h9.6M480.1 282.0h3.5M610.0 282.0h3.5M323.0 283.0h6.5M341.1 283.0h6.5M610.0 283.0h3.5M326.0 284.0h6.5M338.1 284.0h9.6M365.3 284.0h3.5M579.8 284.0h3.5M610.0 284.0h3.5M326.0 285.0h3.5M338.1 285.0h6.5M347.2 285.0h6.5M359.3 285.0h3.5M326.0 286.0h6.5M335.1 286.0h3.5M350.2 286.0h3.5M359.3 286.0h3.5M558.7 286.0h3.5M323.0 287.0h3.5M329.0 287.0h3.5M335.1 287.0h12.6M350.2 287.0h3.5M323.0 288.0h3.5M329.0 288.0h3.5M341.1 288.0h12.6M558.7 288.0h3.5M329.0 289.0h6.5M341.1 289.0h6.5M365.3 289.0h3.5M564.7 289.0h3.5M323.0 290.0h12.6M341.1 290.0h12.6M610.0 290.0h3.5M326.0 291.0h12.6M341.1 291.0h12.6M576.8 291.0h6.5M323.0 292.0h21.6M347.2 292.0h3.5M564.7 292.0h3.5M335.1 293.0h30.7M558.7 293.0h3.5M335.1 294.0h9.6M347.2 294.0h3.5M591.9 294.0h3.5M323.0 295.0h6.5M332.1 295.0h9.6M344.2 295.0h9.6M356.2 295.0h3.5M323.0 296.0h12.6M344.2 296.0h6.5M356.2 296.0h3.5M365.3 296.0h3.5M323.0 297.0h6.5M332.1 297.0h3.5M338.1 297.0h12.6M356.2 297.0h3.5M597.9 297.0h3.5M344.2 298.0h12.6M359.3 298.0h3.5M365.3 298.0h3.5M579.8 298.0h3.5M498.2 299.0h3.5M585.8 299.0h3.5M591.9 299.0h3.5M610.0 299.0h3.5M501.3 300.0h3.5M573.8 303.0h3.5M570.7 308.0h3.5M567.7 327.0h6.5M567.7 332.0h3.5M570.7 339.0h3.5"/><path stroke="#fdae61" stroke-width="2" d="M652.3 128.0h3.5M652.3 133.0h3.5M655.3 138.0h3.5M652.3 146.0h3.5M652.3 152.0h3.5M652.3 154.0h6.5M655.3 157.0h3.5M655.3 158.0h3.5M655.3 159.0h3.5M652.3 160.0h3.5M655.3 162.0h3.5M652.3 163.0h3.5M655.3 178.0h3.5M655.3 180.0h3.5M652.3 181.0h3.5M652.3 185.0h6.5M652.3 186.0h3.5M567.7 189.0h3.5M561.7 190.0h3.5M567.7 190.0h3.5M655.3 190.0h3.5M558.7 192.0h15.6M655.3 193.0h3.5M652.3 211.0h3.5M655.3 221.0h3.5M655.3 231.0h3.5M564.7 239.0h3.5M561.7 240.0h3.5M567.7 240.0h3.5M561.7 241.0h3.5M567.7 242.0h3.5M567.7 244.0h3.5M564.7 246.0h6.5M567.7 247.0h3.5M567.7 250.0h3.5M528.4 251.0h3.5M558.7 252.0h6.5M561.7 253.0h3.5M498.2 255.0h6.5M489.2 262.0h3.5M495.2 265.0h3.5M495.2 272.0h3.5M558.7 274.0h3.5M564.7 274.0h3.5M610.0 274.0h3.5M558.7 275.0h3.5M585.8 275.0h12.6M561.7 276.0h6.5M582.8 276.0h6.5M600.9 276.0h3.5M610.0 276.0h6.5M582.8 278.0h3.5M597.9 278.0h3.5M610.0 279.0h3.5M604.0 280.0h6.5M613.0 280.0h3.5M480.1 281.0h3.5M332.1 282.0h6.5M356.2 282.0h12.6M332.1 283.0h3.5M350.2 283.0h3.5M356.2 283.0h3.5M362.3 283.0h6.5M576.8 283.0h3.5M607.0 283.0h3.5M323.0 284.0h3.5M335.1 284.0h3.5M353.2 284.0h3.5M362.3 284.0h3.5M564.7 284.0h3.5M607.0 284.0h3.5M323.0 285.0h3.5M335.1 285.0h3.5M353.2 285.0h3.5M362.3 285.0h3.5M564.7 285.0h3.5M600.9 285.0h9.6M332.1 286.0h3.5M353.2 286.0h3.5M362.3 286.0h6.5M561.7 286.0h6.5M604.0 286.0h12.6M646.3 286.0h3.5M332.1 287.0h3.5M356.2 287.0h9.6M480.1 287.0h3.5M610.0 287.0h3.5M646.3 287.0h3.5M356.2 288.0h6.5M365.3 288.0h3.5M579.8 288.0h3.5M356.2 289.0h9.6M558.7 289.0h6.5M335.1 290.0h6.5M362.3 290.0h3.5M564.7 290.0h3.5M338.1 291.0h3.5M365.3 291.0h3.5M558.7 291.0h3.5M607.0 291.0h3.5M353.2 292.0h3.5M610.0 292.0h3.5M326.0 293.0h6.5M365.3 293.0h3.5M561.7 293.0h6.5M585.8 293.0h3.5M591.9 293.0h3.5M326.0 294.0h9.6M350.2 294.0h3.5M362.3 294.0h6.5M561.7 294.0h3.5M576.8 294.0h3.5M341.1 295.0h3.5M359.3 295.0h9.6M564.7 295.0h3.5M576.8 295.0h9.6M594.9 295.0h3.5M613.0 295.0h3.5M353.2 296.0h3.5M359.3 296.0h3.5M576.8 296.0h6.5M329.0 297.0h3.5M359.3 297.0h3.5M365.3 297.0h3.5M558.7 297.0h6.5M579.8 297.0h3.5M588.9 297.0h9.6M323.0 298.0h3.5M356.2 298.0h3.5M588.9 298.0h3.5M579.8 299.0h3.5M588.9 299.0h3.5M498.2 300.0h3.5M567.7 301.0h3.5M501.3 305.0h3.5M504.3 306.0h3.5M504.3 307.0h3.5M573.8 307.0h3.5M567.7 310.0h3.5M567.7 311.0h3.5M573.8 312.0h9.6M573.8 317.0h3.5M567.7 319.0h3.5M570.7 321.0h3.5M573.8 327.0h3.5M570.7 328.0h3.5M570.7 329.0h3.5M613.0 329.0h3.5M567.7 331.0h6.5M567.7 333.0h3.5M573.8 340.0h3.5M573.8 343.0h3.5M573.8 352.0h3.5M646.3 353.0h3.5M646.3 354.0h3.5M649.3 369.0h3.5"/><path stroke="#f88e52" stroke-width="2" d="M655.3 129.0h3.5M655.3 130.0h3.5M655.3 131.0h3.5M652.3 132.0h3.5M655.3 135.0h3.5M655.3 137.0h3.5M631.2 144.0h3.5M652.3 145.0h3.5M655.3 146.0h3.5M655.3 153.0h3.5M652.3 155.0h6.5M652.3 156.0h3.5M652.3 159.0h3.5M655.3 160.0h3.5M655.3 163.0h3.5M652.3 164.0h6.5M655.3 165.0h3.5M655.3 175.0h3.5M652.3 179.0h3.5M652.3 184.0h3.5M655.3 186.0h3.5M655.3 189.0h3.5M558.7 190.0h3.5M652.3 191.0h3.5M652.3 192.0h3.5M655.3 194.0h3.5M652.3 205.0h3.5M558.7 240.0h3.5M564.7 240.0h3.5M558.7 241.0h3.5M564.7 241.0h3.5M561.7 242.0h6.5M501.3 243.0h3.5M564.7 243.0h6.5M525.4 245.0h3.5M564.7 245.0h6.5M564.7 248.0h6.5M498.2 249.0h3.5M558.7 249.0h3.5M567.7 249.0h3.5M558.7 250.0h9.6M564.7 251.0h6.5M564.7 252.0h6.5M558.7 253.0h3.5M564.7 253.0h3.5M495.2 262.0h3.5M492.2 265.0h3.5M498.2 266.0h3.5M489.2 268.0h3.5M498.2 272.0h3.5M561.7 274.0h3.5M594.9 274.0h6.5M604.0 274.0h6.5M561.7 275.0h6.5M597.9 276.0h3.5M604.0 276.0h3.5M558.7 277.0h9.6M591.9 277.0h12.6M607.0 277.0h6.5M558.7 278.0h9.6M570.7 278.0h6.5M591.9 278.0h6.5M600.9 278.0h6.5M613.0 278.0h3.5M558.7 279.0h6.5M567.7 279.0h3.5M585.8 279.0h6.5M613.0 279.0h3.5M558.7 280.0h6.5M567.7 280.0h3.5M600.9 280.0h3.5M610.0 280.0h3.5M353.2 281.0h3.5M564.7 281.0h3.5M591.9 281.0h3.5M600.9 281.0h3.5M558.7 282.0h6.5M567.7 282.0h3.5M604.0 282.0h6.5M613.0 282.0h3.5M347.2 283.0h3.5M353.2 283.0h3.5M561.7 283.0h6.5M600.9 283.0h6.5M613.0 283.0h3.5M356.2 284.0h6.5M604.0 284.0h3.5M613.0 284.0h3.5M344.2 285.0h3.5M365.3 285.0h3.5M576.8 285.0h3.5M610.0 285.0h9.6M649.3 285.0h3.5M356.2 286.0h3.5M576.8 286.0h6.5M649.3 286.0h3.5M365.3 287.0h3.5M561.7 287.0h6.5M579.8 287.0h3.5M604.0 287.0h6.5M353.2 288.0h3.5M362.3 288.0h3.5M561.7 288.0h6.5M570.7 288.0h3.5M604.0 288.0h12.6M649.3 288.0h3.5M353.2 289.0h3.5M576.8 289.0h6.5M594.9 289.0h3.5M604.0 289.0h12.6M649.3 289.0h3.5M359.3 290.0h3.5M365.3 290.0h3.5M558.7 290.0h6.5M604.0 290.0h3.5M353.2 291.0h12.6M561.7 291.0h6.5M604.0 291.0h3.5M646.3 291.0h3.5M356.2 292.0h12.6M561.7 292.0h3.5M576.8 292.0h3.5M600.9 292.0h6.5M613.0 292.0h3.5M576.8 293.0h9.6M588.9 293.0h3.5M594.9 293.0h3.5M604.0 293.0h3.5M610.0 293.0h6.5M359.3 294.0h3.5M558.7 294.0h3.5M564.7 294.0h3.5M573.8 294.0h3.5M588.9 294.0h3.5M594.9 294.0h6.5M604.0 294.0h3.5M613.0 294.0h3.5M649.3 294.0h3.5M561.7 295.0h3.5M588.9 295.0h6.5M597.9 295.0h6.5M610.0 295.0h3.5M335.1 296.0h3.5M362.3 296.0h3.5M561.7 296.0h6.5M582.8 296.0h6.5M594.9 296.0h9.6M610.0 296.0h6.5M564.7 297.0h3.5M576.8 297.0h3.5M582.8 297.0h3.5M604.0 297.0h3.5M613.0 297.0h3.5M561.7 298.0h3.5M582.8 298.0h6.5M591.9 298.0h6.5M607.0 298.0h6.5M649.3 298.0h3.5M564.7 299.0h3.5M570.7 299.0h3.5M576.8 299.0h3.5M597.9 299.0h9.6M646.3 301.0h3.5M567.7 302.0h3.5M646.3 302.0h3.5M504.3 303.0h3.5M498.2 307.0h6.5M649.3 307.0h3.5M504.3 309.0h3.5M501.3 311.0h3.5M567.7 312.0h6.5M573.8 314.0h3.5M573.8 315.0h3.5M567.7 316.0h6.5M570.7 317.0h3.5M652.3 318.0h3.5M567.7 321.0h3.5M570.7 324.0h6.5M573.8 325.0h3.5M646.3 325.0h3.5M567.7 328.0h3.5M613.0 331.0h3.5M570.7 333.0h3.5M646.3 333.0h3.5M649.3 340.0h3.5M567.7 341.0h3.5M646.3 341.0h3.5M570.7 342.0h3.5M573.8 344.0h3.5M570.7 351.0h3.5M646.3 351.0h6.5M567.7 352.0h3.5M655.3 354.0h3.5M573.8 355.0h3.5M649.3 355.0h3.5M567.7 359.0h3.5M573.8 361.0h3.5M570.7 362.0h3.5"/><path stroke="#f46d43" stroke-width="2" d="M655.3 133.0h3.5M655.3 134.0h3.5M652.3 136.0h6.5M655.3 143.0h3.5M655.3 144.0h3.5M652.3 148.0h6.5M637.2 149.0h3.5M655.3 149.0h3.5M652.3 153.0h3.5M652.3 175.0h3.5M652.3 176.0h3.5M655.3 177.0h3.5M655.3 183.0h3.5M540.5 186.0h3.5M652.3 187.0h3.5M652.3 188.0h3.5M652.3 196.0h6.5M655.3 197.0h3.5M655.3 199.0h3.5M652.3 202.0h3.5M652.3 203.0h3.5M655.3 211.0h3.5M655.3 220.0h3.5M528.4 232.0h3.5M655.3 235.0h3.5M558.7 239.0h6.5M567.7 241.0h3.5M558.7 242.0h3.5M558.7 244.0h9.6M528.4 245.0h3.5M558.7 245.0h3.5M564.7 247.0h3.5M558.7 248.0h6.5M528.4 249.0h3.5M561.7 249.0h3.5M498.2 251.0h3.5M567.7 253.0h3.5M501.3 257.0h3.5M498.2 260.0h3.5M492.2 262.0h3.5M489.2 263.0h3.5M495.2 268.0h6.5M585.8 274.0h3.5M600.9 274.0h3.5M613.0 274.0h3.5M600.9 275.0h6.5M610.0 275.0h3.5M558.7 276.0h3.5M567.7 276.0h3.5M594.9 276.0h3.5M604.0 277.0h3.5M613.0 277.0h3.5M652.3 277.0h3.5M588.9 278.0h3.5M607.0 278.0h6.5M652.3 278.0h3.5M564.7 279.0h3.5M570.7 279.0h3.5M582.8 279.0h3.5M591.9 279.0h3.5M597.9 279.0h3.5M594.9 280.0h6.5M558.7 281.0h6.5M604.0 281.0h12.6M564.7 282.0h3.5M570.7 282.0h3.5M591.9 282.0h3.5M600.9 282.0h3.5M558.7 283.0h3.5M579.8 283.0h3.5M558.7 284.0h6.5M576.8 284.0h3.5M585.8 284.0h3.5M597.9 284.0h6.5M579.8 285.0h3.5M646.3 285.0h3.5M600.9 286.0h3.5M558.7 287.0h3.5M576.8 287.0h3.5M585.8 287.0h3.5M597.9 287.0h3.5M613.0 287.0h6.5M649.3 287.0h6.5M567.7 288.0h3.5M573.8 288.0h6.5M600.9 288.0h3.5M573.8 289.0h3.5M597.9 289.0h6.5M600.9 290.0h3.5M607.0 290.0h3.5M613.0 290.0h3.5M567.7 291.0h3.5M588.9 291.0h9.6M600.9 291.0h3.5M579.8 292.0h3.5M607.0 292.0h3.5M573.8 293.0h3.5M597.9 293.0h6.5M607.0 293.0h3.5M353.2 294.0h6.5M579.8 294.0h9.6M600.9 294.0h3.5M607.0 294.0h6.5M558.7 295.0h3.5M585.8 295.0h3.5M604.0 295.0h6.5M558.7 296.0h3.5M570.7 296.0h3.5M588.9 296.0h6.5M604.0 296.0h6.5M573.8 297.0h3.5M600.9 297.0h3.5M607.0 297.0h6.5M501.3 298.0h6.5M558.7 298.0h3.5M564.7 298.0h3.5M576.8 298.0h3.5M600.9 298.0h3.5M613.0 298.0h3.5M501.3 299.0h3.5M561.7 299.0h3.5M607.0 299.0h3.5M613.0 299.0h3.5M489.2 301.0h3.5M570.7 301.0h6.5M495.2 303.0h3.5M570.7 304.0h3.5M570.7 305.0h6.5M498.2 306.0h3.5M570.7 306.0h3.5M646.3 306.0h3.5M567.7 307.0h3.5M567.7 308.0h3.5M646.3 308.0h3.5M567.7 309.0h3.5M501.3 310.0h3.5M492.2 311.0h3.5M570.7 311.0h6.5M501.3 312.0h3.5M504.3 313.0h3.5M570.7 313.0h6.5M498.2 314.0h3.5M567.7 314.0h6.5M567.7 315.0h3.5M573.8 316.0h3.5M567.7 317.0h3.5M567.7 318.0h3.5M655.3 318.0h3.5M570.7 319.0h3.5M567.7 320.0h3.5M646.3 320.0h3.5M646.3 321.0h3.5M646.3 322.0h3.5M567.7 323.0h3.5M567.7 324.0h3.5M646.3 324.0h6.5M567.7 325.0h6.5M649.3 325.0h3.5M570.7 326.0h3.5M619.1 326.0h3.5M616.1 329.0h3.5M570.7 330.0h6.5M616.1 330.0h3.5M646.3 330.0h3.5M573.8 331.0h3.5M616.1 331.0h3.5M616.1 332.0h6.5M573.8 333.0h3.5M649.3 333.0h3.5M570.7 335.0h6.5M567.7 338.0h9.6M573.8 339.0h3.5M567.7 340.0h6.5M573.8 341.0h3.5M567.7 342.0h3.5M573.8 342.0h3.5M567.7 345.0h3.5M573.8 345.0h3.5M570.7 346.0h6.5M567.7 349.0h6.5M573.8 350.0h3.5M573.8 351.0h3.5M570.7 352.0h3.5M567.7 354.0h3.5M652.3 354.0h3.5M567.7 355.0h3.5M646.3 355.0h3.5M567.7 356.0h6.5M570.7 357.0h3.5M573.8 358.0h3.5M570.7 360.0h6.5M646.3 361.0h3.5M573.8 362.0h3.5M646.3 364.0h3.5M646.3 370.0h3.5M655.3 371.0h3.5M582.8 373.0h3.5M646.3 373.0h6.5M646.3 377.0h6.5M655.3 380.0h3.5M582.8 383.0h3.5"/><path stroke="#e64e35" stroke-width="2" d="M652.3 130.0h3.5M652.3 135.0h3.5M652.3 138.0h3.5M652.3 140.0h6.5M631.2 145.0h9.6M631.2 146.0h3.5M631.2 147.0h3.5M655.3 147.0h3.5M652.3 150.0h6.5M655.3 161.0h3.5M652.3 165.0h3.5M555.6 174.0h3.5M655.3 176.0h3.5M652.3 177.0h3.5M522.4 178.0h3.5M652.3 178.0h3.5M537.5 179.0h3.5M540.5 180.0h3.5M543.5 183.0h3.5M537.5 186.0h3.5M543.5 187.0h3.5M655.3 187.0h3.5M655.3 188.0h3.5M652.3 193.0h3.5M652.3 197.0h3.5M652.3 198.0h3.5M652.3 199.0h3.5M655.3 200.0h3.5M655.3 202.0h3.5M652.3 204.0h6.5M655.3 205.0h3.5M652.3 210.0h3.5M655.3 224.0h3.5M655.3 227.0h3.5M655.3 230.0h3.5M555.6 233.0h3.5M655.3 234.0h3.5M655.3 236.0h3.5M555.6 238.0h3.5M655.3 239.0h3.5M652.3 240.0h3.5M555.6 241.0h3.5M558.7 243.0h6.5M558.7 247.0h6.5M498.2 248.0h3.5M555.6 248.0h3.5M525.4 249.0h3.5M498.2 250.0h3.5M498.2 254.0h6.5M501.3 260.0h3.5M495.2 266.0h3.5M492.2 271.0h3.5M652.3 272.0h3.5M591.9 274.0h3.5M570.7 275.0h3.5M613.0 275.0h3.5M570.7 276.0h3.5M588.9 276.0h3.5M567.7 277.0h3.5M588.9 277.0h3.5M600.9 279.0h3.5M564.7 280.0h3.5M582.8 280.0h9.6M582.8 281.0h3.5M588.9 281.0h3.5M594.9 281.0h3.5M585.8 282.0h3.5M652.3 282.0h3.5M567.7 283.0h3.5M588.9 283.0h3.5M594.9 283.0h3.5M567.7 284.0h3.5M573.8 284.0h3.5M582.8 284.0h3.5M588.9 284.0h3.5M594.9 284.0h3.5M567.7 285.0h6.5M582.8 285.0h3.5M591.9 285.0h3.5M652.3 285.0h3.5M567.7 286.0h3.5M573.8 286.0h3.5M588.9 286.0h3.5M594.9 286.0h6.5M567.7 287.0h9.6M582.8 287.0h3.5M588.9 287.0h9.6M582.8 288.0h3.5M591.9 288.0h9.6M570.7 289.0h3.5M591.9 289.0h3.5M646.3 289.0h3.5M652.3 289.0h3.5M579.8 290.0h12.6M594.9 290.0h6.5M570.7 291.0h6.5M582.8 291.0h3.5M597.9 291.0h3.5M610.0 291.0h3.5M573.8 292.0h3.5M582.8 292.0h3.5M646.3 292.0h3.5M652.3 293.0h3.5M567.7 294.0h6.5M646.3 294.0h3.5M652.3 294.0h3.5M567.7 295.0h3.5M649.3 295.0h3.5M573.8 296.0h3.5M570.7 297.0h3.5M498.2 298.0h3.5M570.7 298.0h3.5M597.9 298.0h3.5M604.0 298.0h3.5M646.3 298.0h3.5M504.3 299.0h3.5M558.7 299.0h3.5M573.8 299.0h3.5M594.9 299.0h3.5M649.3 299.0h3.5M371.3 300.0h3.5M573.8 300.0h3.5M649.3 301.0h3.5M655.3 301.0h3.5M570.7 302.0h3.5M649.3 302.0h6.5M489.2 303.0h6.5M570.7 303.0h3.5M489.2 304.0h3.5M573.8 304.0h3.5M567.7 306.0h3.5M573.8 306.0h3.5M570.7 307.0h3.5M646.3 307.0h3.5M652.3 307.0h3.5M501.3 309.0h3.5M570.7 309.0h6.5M570.7 310.0h6.5M489.2 311.0h3.5M498.2 312.0h3.5M504.3 312.0h3.5M501.3 313.0h3.5M655.3 315.0h3.5M573.8 318.0h3.5M573.8 319.0h3.5M570.7 320.0h6.5M649.3 320.0h6.5M573.8 321.0h3.5M570.7 322.0h6.5M573.8 323.0h3.5M652.3 324.0h3.5M652.3 325.0h3.5M573.8 326.0h3.5M613.0 326.0h3.5M616.1 327.0h6.5M573.8 328.0h3.5M646.3 328.0h3.5M655.3 328.0h3.5M573.8 329.0h3.5M646.3 329.0h3.5M567.7 330.0h3.5M619.1 330.0h3.5M570.7 332.0h6.5M613.0 332.0h3.5M646.3 332.0h3.5M652.3 333.0h3.5M573.8 334.0h3.5M567.7 335.0h3.5M567.7 336.0h9.6M649.3 336.0h3.5M570.7 337.0h3.5M649.3 338.0h3.5M652.3 340.0h3.5M646.3 344.0h6.5M655.3 344.0h3.5M646.3 345.0h3.5M570.7 347.0h6.5M567.7 348.0h6.5M646.3 348.0h3.5M573.8 349.0h3.5M649.3 349.0h3.5M567.7 350.0h3.5M652.3 350.0h3.5M567.7 353.0h9.6M649.3 353.0h9.6M570.7 355.0h3.5M573.8 356.0h3.5M646.3 356.0h3.5M567.7 357.0h3.5M573.8 357.0h3.5M646.3 357.0h6.5M567.7 358.0h6.5M649.3 358.0h3.5M570.7 359.0h6.5M646.3 360.0h6.5M567.7 362.0h3.5M646.3 363.0h3.5M646.3 365.0h3.5M588.9 371.0h3.5M582.8 372.0h9.6M646.3 372.0h3.5M585.8 373.0h3.5M588.9 374.0h3.5M588.9 375.0h3.5M585.8 376.0h3.5M585.8 377.0h6.5M588.9 378.0h3.5M582.8 379.0h3.5M582.8 380.0h3.5M588.9 380.0h3.5M585.8 383.0h3.5M649.3 383.0h3.5"/><path stroke="#d73027" stroke-width="2" d="M652.3 134.0h3.5M655.3 142.0h3.5M634.2 144.0h3.5M637.2 147.0h3.5M634.2 148.0h6.5M634.2 149.0h3.5M652.3 149.0h3.5M655.3 151.0h3.5M655.3 152.0h3.5M555.6 166.0h3.5M555.6 170.0h3.5M555.6 171.0h3.5M555.6 175.0h3.5M513.3 176.0h3.5M513.3 177.0h3.5M552.6 179.0h3.5M513.3 180.0h3.5M510.3 181.0h3.5M519.4 181.0h3.5M552.6 181.0h3.5M543.5 182.0h6.5M546.6 183.0h3.5M549.6 184.0h3.5M537.5 185.0h3.5M543.5 185.0h6.5M543.5 186.0h3.5M552.6 186.0h3.5M537.5 187.0h6.5M552.6 187.0h3.5M655.3 203.0h3.5M655.3 210.0h3.5M655.3 222.0h3.5M655.3 223.0h3.5M655.3 225.0h3.5M655.3 228.0h3.5M655.3 229.0h3.5M655.3 233.0h3.5M655.3 237.0h3.5M555.6 239.0h3.5M655.3 240.0h3.5M555.6 242.0h3.5M498.2 245.0h3.5M558.7 246.0h3.5M555.6 249.0h3.5M501.3 250.0h3.5M555.6 250.0h3.5M558.7 251.0h6.5M498.2 252.0h3.5M555.6 255.0h3.5M501.3 259.0h3.5M489.2 271.0h3.5M495.2 271.0h3.5M582.8 274.0h3.5M567.7 275.0h3.5M652.3 275.0h3.5M591.9 276.0h3.5M652.3 276.0h3.5M585.8 277.0h3.5M567.7 278.0h3.5M570.7 280.0h3.5M591.9 280.0h3.5M570.7 281.0h3.5M585.8 281.0h3.5M597.9 281.0h3.5M582.8 282.0h3.5M588.9 282.0h3.5M594.9 282.0h6.5M570.7 283.0h6.5M582.8 283.0h3.5M591.9 283.0h3.5M597.9 283.0h3.5M652.3 283.0h3.5M570.7 284.0h3.5M591.9 284.0h3.5M561.7 285.0h3.5M573.8 285.0h3.5M585.8 285.0h6.5M570.7 286.0h3.5M582.8 286.0h6.5M591.9 286.0h3.5M652.3 286.0h3.5M600.9 287.0h3.5M585.8 288.0h6.5M652.3 288.0h3.5M567.7 289.0h3.5M582.8 289.0h9.6M567.7 290.0h9.6M591.9 290.0h3.5M567.7 292.0h6.5M585.8 292.0h3.5M591.9 292.0h9.6M649.3 292.0h6.5M567.7 293.0h6.5M649.3 293.0h3.5M573.8 295.0h3.5M567.7 296.0h3.5M655.3 296.0h3.5M567.7 297.0h3.5M646.3 297.0h9.6M567.7 298.0h3.5M573.8 298.0h3.5M646.3 299.0h3.5M652.3 299.0h3.5M567.7 300.0h6.5M646.3 300.0h3.5M655.3 300.0h3.5M489.2 302.0h3.5M573.8 302.0h3.5M655.3 302.0h3.5M567.7 303.0h3.5M652.3 303.0h3.5M646.3 304.0h6.5M655.3 304.0h3.5M649.3 306.0h3.5M501.3 308.0h3.5M573.8 308.0h3.5M652.3 309.0h3.5M504.3 310.0h3.5M649.3 310.0h3.5M655.3 310.0h3.5M498.2 311.0h3.5M498.2 313.0h3.5M655.3 313.0h3.5M646.3 315.0h9.6M652.3 316.0h6.5M570.7 318.0h3.5M649.3 318.0h3.5M655.3 319.0h3.5M655.3 320.0h3.5M655.3 321.0h3.5M567.7 322.0h3.5M570.7 323.0h3.5M655.3 325.0h3.5M616.1 326.0h3.5M652.3 326.0h6.5M613.0 327.0h3.5M613.0 328.0h3.5M567.7 329.0h3.5M619.1 329.0h3.5M649.3 329.0h3.5M655.3 329.0h3.5M649.3 330.0h6.5M619.1 331.0h3.5M649.3 332.0h3.5M655.3 333.0h3.5M570.7 334.0h3.5M646.3 334.0h6.5M649.3 335.0h6.5M567.7 337.0h3.5M573.8 337.0h3.5M646.3 337.0h6.5M652.3 338.0h6.5M649.3 341.0h3.5M652.3 342.0h6.5M652.3 344.0h3.5M649.3 345.0h6.5M567.7 346.0h3.5M649.3 346.0h6.5M646.3 347.0h3.5M652.3 347.0h3.5M649.3 348.0h3.5M646.3 349.0h3.5M652.3 349.0h3.5M570.7 350.0h3.5M655.3 350.0h3.5M652.3 352.0h6.5M570.7 354.0h6.5M649.3 354.0h3.5M652.3 355.0h3.5M649.3 356.0h6.5M652.3 357.0h3.5M646.3 358.0h3.5M655.3 358.0h3.5M646.3 359.0h9.6M567.7 360.0h3.5M652.3 360.0h3.5M652.3 361.0h3.5M646.3 362.0h3.5M655.3 363.0h3.5M649.3 364.0h6.5M649.3 365.0h3.5M646.3 366.0h9.6M646.3 367.0h6.5M588.9 370.0h3.5M585.8 371.0h3.5M646.3 371.0h3.5M652.3 371.0h3.5M649.3 372.0h3.5M588.9 373.0h3.5M585.8 374.0h3.5M649.3 374.0h6.5M585.8 375.0h3.5M646.3 375.0h9.6M582.8 376.0h3.5M588.9 376.0h3.5M646.3 376.0h3.5M652.3 376.0h3.5M652.3 377.0h3.5M582.8 378.0h6.5M649.3 378.0h9.6M585.8 379.0h3.5M646.3 379.0h12.6M585.8 380.0h3.5M646.3 380.0h9.6M582.8 381.0h3.5M582.8 382.0h3.5M655.3 382.0h3.5M588.9 383.0h3.5M646.3 383.0h3.5"/><path stroke="#c32228" stroke-width="2" d="M652.3 141.0h6.5M634.2 146.0h6.5M634.2 147.0h3.5M652.3 147.0h3.5M631.2 148.0h3.5M631.2 149.0h3.5M652.3 151.0h3.5M652.3 161.0h3.5M555.6 167.0h3.5M555.6 168.0h3.5M555.6 169.0h3.5M555.6 173.0h3.5M510.3 176.0h3.5M516.4 176.0h3.5M522.4 176.0h3.5M510.3 177.0h3.5M516.4 177.0h3.5M522.4 177.0h3.5M516.4 178.0h6.5M543.5 178.0h9.6M510.3 179.0h15.6M540.5 179.0h3.5M546.6 179.0h3.5M510.3 180.0h3.5M516.4 180.0h9.6M543.5 180.0h12.6M513.3 181.0h6.5M543.5 181.0h9.6M655.3 181.0h3.5M549.6 182.0h6.5M537.5 183.0h3.5M549.6 183.0h6.5M537.5 184.0h12.6M552.6 184.0h3.5M540.5 185.0h3.5M549.6 185.0h6.5M546.6 186.0h6.5M549.6 187.0h3.5M555.6 236.0h3.5M555.6 237.0h3.5M555.6 240.0h3.5M498.2 243.0h3.5M555.6 243.0h3.5M501.3 244.0h3.5M555.6 244.0h3.5M555.6 245.0h3.5M555.6 246.0h3.5M555.6 247.0h3.5M555.6 251.0h3.5M555.6 252.0h3.5M492.2 266.0h3.5M567.7 274.0h6.5M652.3 274.0h3.5M652.3 280.0h3.5M652.3 281.0h3.5M585.8 283.0h3.5M652.3 284.0h3.5M594.9 285.0h6.5M646.3 288.0h3.5M646.3 290.0h3.5M652.3 290.0h3.5M585.8 291.0h3.5M652.3 291.0h3.5M588.9 292.0h3.5M570.7 295.0h3.5M652.3 296.0h3.5M655.3 297.0h3.5M652.3 298.0h3.5M495.2 299.0h3.5M655.3 299.0h3.5M489.2 300.0h3.5M652.3 301.0h3.5M492.2 302.0h6.5M649.3 303.0h3.5M655.3 303.0h3.5M492.2 304.0h3.5M652.3 304.0h3.5M649.3 305.0h9.6M652.3 306.0h6.5M652.3 308.0h6.5M655.3 309.0h3.5M652.3 310.0h3.5M646.3 311.0h3.5M652.3 311.0h6.5M646.3 312.0h12.6M652.3 313.0h3.5M649.3 314.0h9.6M570.7 315.0h3.5M649.3 316.0h3.5M646.3 317.0h3.5M652.3 317.0h6.5M646.3 318.0h3.5M652.3 319.0h3.5M649.3 321.0h6.5M649.3 322.0h9.6M646.3 323.0h6.5M655.3 323.0h3.5M655.3 324.0h3.5M649.3 326.0h3.5M652.3 327.0h6.5M616.1 328.0h3.5M649.3 328.0h6.5M652.3 329.0h3.5M655.3 330.0h3.5M652.3 331.0h6.5M652.3 332.0h6.5M567.7 334.0h3.5M655.3 334.0h3.5M652.3 336.0h6.5M652.3 337.0h6.5M652.3 339.0h6.5M655.3 340.0h3.5M652.3 341.0h6.5M570.7 345.0h3.5M655.3 345.0h3.5M646.3 346.0h3.5M655.3 346.0h3.5M649.3 347.0h3.5M655.3 347.0h3.5M652.3 348.0h3.5M655.3 349.0h3.5M652.3 351.0h6.5M655.3 355.0h3.5M655.3 356.0h3.5M652.3 358.0h3.5M655.3 359.0h3.5M649.3 361.0h3.5M652.3 363.0h3.5M652.3 365.0h3.5M652.3 367.0h3.5M646.3 368.0h9.6M646.3 369.0h3.5M652.3 369.0h3.5M582.8 370.0h3.5M652.3 370.0h3.5M649.3 371.0h3.5M652.3 373.0h3.5M582.8 374.0h3.5M646.3 374.0h3.5M582.8 375.0h3.5M649.3 376.0h3.5M582.8 377.0h3.5M588.9 379.0h3.5M585.8 382.0h6.5M646.3 382.0h3.5M652.3 383.0h6.5"/><path stroke="#af1428" stroke-width="2" d="M655.3 139.0h3.5M637.2 144.0h3.5M555.6 172.0h3.5M519.4 176.0h3.5M519.4 177.0h3.5M510.3 178.0h6.5M540.5 178.0h3.5M552.6 178.0h3.5M543.5 179.0h3.5M549.6 179.0h3.5M522.4 181.0h3.5M540.5 183.0h3.5M546.6 187.0h3.5M655.3 192.0h3.5M655.3 201.0h3.5M655.3 219.0h3.5M655.3 232.0h3.5M555.6 235.0h3.5M498.2 246.0h3.5M501.3 251.0h3.5M555.6 253.0h3.5M555.6 256.0h3.5M555.6 257.0h3.5M555.6 258.0h3.5M498.2 259.0h3.5M555.6 259.0h3.5M555.6 260.0h3.5M498.2 271.0h3.5M652.3 273.0h3.5M570.7 277.0h3.5M567.7 281.0h3.5M649.3 290.0h3.5M649.3 291.0h3.5M652.3 295.0h6.5M646.3 296.0h6.5M655.3 298.0h3.5M492.2 299.0h3.5M652.3 300.0h3.5M495.2 304.0h3.5M655.3 307.0h3.5M646.3 309.0h6.5M646.3 310.0h3.5M649.3 311.0h3.5M649.3 313.0h3.5M646.3 314.0h3.5M646.3 316.0h3.5M646.3 319.0h6.5M652.3 323.0h3.5M646.3 326.0h3.5M646.3 327.0h6.5M619.1 328.0h3.5M649.3 331.0h3.5M652.3 334.0h3.5M655.3 335.0h3.5M646.3 336.0h3.5M646.3 339.0h6.5M646.3 340.0h3.5M655.3 348.0h3.5M646.3 352.0h6.5M655.3 357.0h3.5M649.3 362.0h6.5M582.8 371.0h3.5M652.3 372.0h3.5M585.8 381.0h6.5"/></g></g>
<path d="M392.8 18.3L536.0 18.3M392.8 18.3L392.8 69.5M536.0 18.3L536.0 33.3M499.8 33.3L571.2 33.3M499.8 33.3L499.8 72.4M571.2 33.3L571.2 61.6M326.2 69.5L460.3 69.5M326.2 69.5L326.2 74.4M460.3 69.5L460.3 86.8M276.8 74.4L375.3 74.4M375.3 74.4L375.3 88.5M276.8 74.4L276.8 78.4M205.0 78.4L349.4 78.4M349.4 78.4L349.4 85.1M124.0 79.2L285.6 79.2M285.6 79.2L285.6 85.0M116.2 81.5L124.0 81.5M116.2 81.5L116.2 91.4M124.0 79.2L124.0 82.5M124.0 82.5L135.0 82.5M130.0 83.2L150.0 83.2M140.0 83.8L160.0 83.8M150.0 84.4L170.0 84.4M179.8 86.5L290.0 86.5M224.8 85.6L287.0 85.6M338.0 85.1L367.4 85.1M338.0 85.1L338.0 89.0M367.4 85.1L367.4 89.0M350.8 87.5L367.4 87.5M285.0 85.5L314.5 85.5M306.6 87.2L319.4 87.2M306.6 88.4L314.5 88.4M322.3 89.4L343.9 89.4M370.4 89.0L381.2 89.0M370.4 89.0L370.4 91.4M381.2 89.0L381.2 91.4M383.1 89.0L426.3 89.0M396.9 87.9L451.8 87.9M425.3 86.5L460.3 86.5M446.0 85.9L460.3 85.9M469.5 86.5L478.3 86.5M469.5 86.5L469.5 91.4M478.3 86.5L478.3 91.4M474.0 83.0L474.0 86.5M494.6 72.4L504.8 72.4M494.6 72.4L494.6 76.1M504.8 72.4L504.8 83.6M489.9 76.1L499.2 76.1M489.9 76.1L489.9 78.9M499.2 76.1L499.2 90.1M486.2 78.9L493.6 78.9M486.2 78.9L486.2 83.6M493.6 78.9L493.6 82.6M483.4 83.6L488.1 83.6M483.4 83.6L483.4 90.1M488.1 83.6L488.1 90.1M491.8 82.6L494.6 82.6M491.8 82.6L491.8 90.1M494.6 82.6L494.6 90.1M503.9 83.6L507.1 83.6M503.9 83.6L503.9 90.1M507.1 83.6L507.1 90.1M529.1 61.6L613.0 61.6M529.1 61.6L529.1 72.7M515.1 72.7L544.4 72.7M515.1 72.7L515.1 78.9M544.4 72.7L544.4 75.2M510.4 78.9L519.8 78.9M510.4 78.9L510.4 90.1M519.8 78.9L519.8 83.2M513.2 83.2L523.5 83.2M513.2 83.2L513.2 90.1M516.0 83.2L516.0 90.1M518.8 83.2L518.8 90.1M521.2 83.2L521.2 90.1M523.5 83.2L523.5 90.1M534.7 75.2L552.4 75.2M534.7 75.2L534.7 78.0M552.4 75.2L552.4 80.8M529.1 78.0L540.6 78.0M529.1 78.0L529.1 80.8M540.6 78.0L540.6 80.8M526.3 80.8L531.9 80.8M526.3 80.8L526.3 90.1M528.1 80.8L528.1 90.1M530.9 80.8L530.9 90.1M531.9 80.8L531.9 90.1M538.4 80.8L543.1 80.8M538.4 80.8L538.4 90.1M540.3 80.8L540.3 90.1M543.1 80.8L543.1 90.1M549.6 80.8L555.2 80.8M549.6 80.8L549.6 90.1M551.4 80.8L551.4 90.1M555.2 80.8L555.2 90.1M534.7 84.5L537.5 84.5M534.7 84.5L534.7 90.1M537.5 84.5L537.5 90.1M544.9 84.5L547.7 84.5M544.9 84.5L544.9 90.1M547.7 84.5L547.7 90.1M613.0 61.6L613.0 67.7M581.3 67.7L643.7 67.7M581.3 67.7L581.3 72.4M568.2 72.4L593.4 72.4M568.2 72.7L593.4 72.7M593.4 72.4L593.4 85.4M568.2 72.4L568.2 74.6M559.8 74.6L576.6 74.6M559.8 74.6L559.8 90.1M576.6 74.6L576.6 82.6M558.0 77.0L562.6 77.0M558.0 77.0L558.0 90.1M562.6 77.0L562.6 87.3M572.9 82.6L579.4 82.6M572.9 82.6L572.9 90.1M576.6 82.6L576.6 90.1M579.4 82.6L579.4 90.1M561.7 87.3L567.3 87.3M564.5 87.3L564.5 90.1M567.3 87.3L567.3 90.1M586.9 85.4L599.0 85.4M586.9 85.4L586.9 90.1M599.0 85.4L599.0 87.3M584.1 86.9L590.6 86.9M584.1 86.9L584.1 90.1M590.6 86.9L590.6 90.1M596.2 86.4L612.1 86.4M596.2 86.4L596.2 90.1M612.1 86.4L612.1 90.1M599.0 87.9L603.7 87.9M599.0 87.9L599.0 90.1M603.7 87.9L603.7 90.1M606.5 87.9L610.2 87.9M606.5 87.9L606.5 90.1M610.2 87.9L610.2 90.1M643.7 67.7L643.7 70.1M633.5 70.1L656.8 70.1M656.8 70.1L656.8 90.1M654.4 71.4L654.4 90.1M652.1 71.4L654.4 71.4M633.5 70.1L633.5 77.0M624.2 77.0L641.9 77.0M624.2 77.0L624.2 80.8M641.9 77.0L641.9 79.8M619.5 80.8L628.8 80.8M619.5 80.8L619.5 83.6M628.8 80.8L628.8 90.1M615.8 83.6L624.2 83.6M615.8 83.6L615.8 90.1M618.6 83.6L618.6 90.1M622.3 83.6L622.3 90.1M624.2 83.6L624.2 90.1M636.3 79.8L647.5 79.8M636.3 79.8L636.3 82.6M647.5 79.8L647.5 82.6M632.6 82.6L640.0 82.6M632.6 82.6L632.6 90.1M635.4 82.6L635.4 90.1M638.2 82.6L638.2 90.1M640.0 82.6L640.0 90.1M644.7 82.6L650.3 82.6M644.7 82.6L644.7 90.1M647.5 82.6L647.5 90.1M650.3 82.6L650.3 90.1M116.3 85.5L116.3 91.4M116.3 85.5L119.3 85.5M119.3 87.5L119.3 91.4M122.3 84.5L122.3 91.4M125.4 86.5L125.4 91.4M128.4 87.5L128.4 91.4M128.4 87.5L131.4 87.5M131.4 87.5L131.4 91.4M131.4 87.5L134.4 87.5M134.4 85.5L134.4 91.4M137.4 87.5L137.4 91.4M140.5 84.5L140.5 91.4M140.5 84.5L143.5 84.5M143.5 84.5L143.5 91.4M143.5 84.5L146.5 84.5M146.5 86.5L146.5 91.4M146.5 86.5L149.5 86.5M149.5 87.5L149.5 91.4M152.5 87.5L152.5 91.4M155.6 87.5L155.6 91.4M158.6 86.5L158.6 91.4M158.6 86.5L161.6 86.5M161.6 87.5L161.6 91.4M161.6 87.5L164.6 87.5M164.6 87.5L164.6 91.4M167.6 87.5L167.6 91.4M167.6 87.5L170.7 87.5M170.7 86.5L170.7 91.4M170.7 86.5L173.7 86.5M173.7 85.5L173.7 91.4M176.7 84.5L176.7 91.4M179.7 85.5L179.7 91.4M182.7 88.0L182.7 91.4M185.8 89.2L185.8 91.4M188.8 86.5L188.8 91.4M191.8 86.5L191.8 91.4M194.8 89.2L194.8 91.4M194.8 89.2L197.8 89.2M197.8 86.5L197.8 91.4M197.8 86.5L200.9 86.5M200.9 86.5L200.9 91.4M203.9 86.5L203.9 91.4M203.9 86.5L206.9 86.5M206.9 86.5L206.9 91.4M206.9 86.5L209.9 86.5M209.9 87.2L209.9 91.4M209.9 87.2L212.9 87.2M212.9 88.6L212.9 91.4M216.0 86.5L216.0 91.4M216.0 86.5L219.0 86.5M219.0 89.2L219.0 91.4M222.0 88.6L222.0 91.4M225.0 88.0L225.0 91.4M228.0 88.0L228.0 91.4M228.0 88.0L231.1 88.0M231.1 86.5L231.1 91.4M231.1 86.5L234.1 86.5M234.1 86.5L234.1 91.4M234.1 86.5L237.1 86.5M237.1 89.2L237.1 91.4M237.1 89.2L240.1 89.2M240.1 87.2L240.1 91.4M243.1 88.0L243.1 91.4M246.2 87.2L246.2 91.4M249.2 88.0L249.2 91.4M249.2 88.0L252.2 88.0M252.2 87.2L252.2 91.4M255.2 88.6L255.2 91.4M255.2 88.6L258.2 88.6M258.2 89.2L258.2 91.4M258.2 89.2L261.3 89.2M261.3 89.2L261.3 91.4M264.3 86.5L264.3 91.4M267.3 89.2L267.3 91.4M267.3 89.2L270.3 89.2M270.3 86.5L270.3 91.4M273.3 87.2L273.3 91.4M276.4 88.6L276.4 91.4M279.4 89.2L279.4 91.4M279.4 89.2L282.4 89.2M282.4 88.0L282.4 91.4M282.4 88.0L285.4 88.0M285.4 88.6L285.4 91.4M288.4 88.0L288.4 91.4M288.4 88.0L291.5 88.0M291.5 89.2L291.5 91.4M294.5 87.2L294.5 91.4M294.5 87.2L297.5 87.2M297.5 86.5L297.5 91.4M297.5 86.5L300.5 86.5M300.5 88.0L300.5 91.4M303.5 88.0L303.5 91.4M306.6 88.0L306.6 91.4M309.6 86.5L309.6 91.4M312.6 86.5L312.6 91.4M312.6 86.5L315.6 86.5M315.6 88.0L315.6 91.4M315.6 88.0L318.6 88.0M318.6 88.6L318.6 91.4M318.6 88.6L321.7 88.6M321.7 89.2L321.7 91.4M321.7 89.2L324.7 89.2M324.7 89.0L324.7 91.4M324.7 89.0L327.7 89.0M327.7 88.4L327.7 91.4M327.7 88.4L330.7 88.4M330.7 89.0L330.7 91.4M333.7 88.4L333.7 91.4M336.8 89.6L336.8 91.4M336.8 89.6L339.8 89.6M339.8 89.6L339.8 91.4M339.8 89.6L342.8 89.6M342.8 88.4L342.8 91.4M342.8 88.4L345.8 88.4M345.8 86.5L345.8 91.4M345.8 86.5L348.8 86.5M348.8 89.2L348.8 91.4M348.8 89.2L351.9 89.2M351.9 88.0L351.9 91.4M354.9 87.2L354.9 91.4M354.9 87.2L357.9 87.2M357.9 87.2L357.9 91.4M357.9 87.2L360.9 87.2M360.9 86.5L360.9 91.4M363.9 89.2L363.9 91.4M363.9 89.2L367.0 89.2M367.0 87.2L367.0 91.4M370.0 86.5L370.0 91.4M370.0 86.5L373.0 86.5M373.0 87.2L373.0 91.4M373.0 87.2L376.0 87.2M376.0 89.2L376.0 91.4M376.0 89.2L379.0 89.2M379.0 88.0L379.0 91.4M379.0 88.0L382.1 88.0M382.1 86.5L382.1 91.4M382.1 86.5L385.1 86.5M385.1 89.6L385.1 91.4M388.1 89.6L388.1 91.4M388.1 89.6L391.1 89.6M391.1 89.6L391.1 91.4M391.1 89.6L394.1 89.6M394.1 89.6L394.1 91.4M394.1 89.6L397.2 89.6M397.2 89.0L397.2 91.4M400.2 89.0L400.2 91.4M400.2 89.0L403.2 89.0M403.2 88.4L403.2 91.4M403.2 88.4L406.2 88.4M406.2 89.0L406.2 91.4M406.2 89.0L409.2 89.0M409.2 88.4L409.2 91.4M412.3 88.4L412.3 91.4M412.3 88.4L415.3 88.4M415.3 89.0L415.3 91.4M418.3 89.0L418.3 91.4M421.3 89.0L421.3 91.4M424.3 88.4L424.3 91.4M427.4 88.4L427.4 91.4M427.4 88.4L430.4 88.4M430.4 88.4L430.4 91.4M430.4 88.4L433.4 88.4M433.4 89.6L433.4 91.4M433.4 89.6L436.4 89.6M436.4 88.4L436.4 91.4M436.4 88.4L439.4 88.4M439.4 88.4L439.4 91.4M439.4 88.4L442.5 88.4M442.5 89.6L442.5 91.4M445.5 89.6L445.5 91.4M448.5 89.6L448.5 91.4M448.5 89.6L451.5 89.6M451.5 88.4L451.5 91.4M454.5 89.0L454.5 91.4M454.5 89.0L457.6 89.0M457.6 89.0L457.6 91.4M460.6 86.5L460.6 91.4M460.6 86.5L463.6 86.5M463.6 89.2L463.6 91.4M466.6 86.5L466.6 91.4M469.6 87.2L469.6 91.4M469.6 87.2L472.7 87.2M472.7 89.2L472.7 91.4M472.7 89.2L475.7 89.2M475.7 86.5L475.7 91.4M475.7 86.5L478.7 86.5M478.7 86.5L478.7 91.4M481.7 87.2L481.7 91.4M481.7 87.2L484.7 87.2" stroke="#2a2a2a" stroke-width="0.90" fill="none"/><rect x="658.8" y="127.8" width="5.8" height="85.2" fill="#000"/><rect x="658.8" y="218.6" width="5.8" height="165.8" fill="#000"/><path d="M793.9 212.6L793.9 317.1M721.5 212.6L793.9 212.6M714.3 317.1L793.9 317.1M721.5 181.4L721.5 243.8M691.2 181.4L721.5 181.4M691.2 243.8L721.5 243.8M691.2 157.8L691.2 204.7M675.0 157.8L691.2 157.8M679.3 204.7L691.2 204.7M673.1 133.2L673.1 150.3M666.1 133.2L673.1 133.2M668.0 150.3L673.1 150.3M668.5 144.6L668.5 155.0M665.1 144.6L668.5 144.6M665.1 155.0L668.5 155.0M675.0 141.7L675.0 175.2M673.1 141.7L675.0 141.7M669.9 175.2L675.0 175.2M669.9 170.7L669.9 178.6M665.1 170.7L669.9 170.7M665.1 178.6L669.9 178.6M667.0 162.5L667.0 169.5M664.7 162.5L667.0 162.5M664.7 169.5L667.0 169.5M667.0 165.9L669.9 165.9M679.3 196.6L679.3 212.6M671.2 196.6L679.3 196.6M659.5 212.6L679.3 212.6M671.2 189.0L671.2 205.1M666.1 189.0L671.2 189.0M665.1 205.1L671.2 205.1M667.4 184.3L667.4 193.7M664.7 184.3L667.4 184.3M664.7 193.7L667.4 193.7M668.0 200.4L668.0 208.9M664.7 200.4L668.0 200.4M664.7 208.9L668.0 208.9M691.2 228.7L691.2 257.1M669.5 228.7L691.2 228.7M669.5 223.6L669.5 233.4M665.1 223.6L669.5 223.6M665.1 233.4L669.5 233.4M674.2 248.6L674.2 266.5M669.9 248.6L674.2 248.6M669.9 242.9L669.9 254.2M665.1 242.9L669.9 242.9M665.1 254.2L669.9 254.2M674.2 257.2L691.2 257.2M669.9 266.6L674.2 266.6M669.9 263.2L669.9 269.9M665.1 263.2L669.9 263.2M665.1 269.9L669.9 269.9M714.3 285.4L714.3 349.6M671.7 285.4L714.3 285.4M671.7 281.2L671.7 290.7M666.1 281.2L671.7 281.2M666.1 290.7L671.7 290.7M695.8 349.6L714.3 349.6M695.8 326.6L695.8 373.8M681.8 326.6L695.8 326.6M669.9 373.8L695.8 373.8M681.8 308.6L681.8 345.5M674.6 308.6L681.8 308.6M674.6 345.5L681.8 345.5M674.6 300.7L674.6 316.2M666.1 300.7L674.6 300.7M672.3 316.2L674.6 316.2M672.3 309.6L672.3 322.8M667.0 309.6L672.3 309.6M668.0 322.8L672.3 322.8M674.6 337.0L674.6 354.9M668.9 337.0L674.6 337.0M667.0 354.9L674.6 354.9M668.9 330.4L668.9 342.6M665.1 330.4L668.9 330.4M665.1 342.6L668.9 342.6M669.9 368.2L669.9 380.5M665.1 368.2L669.9 368.2M665.1 380.5L669.9 380.5" stroke="#333" stroke-width="0.90" fill="none"/><path d="M664.6 129.0L668.1 129.0M668.1 129.0L668.1 135.0M664.6 135.0L668.1 135.0M664.6 136.0L668.1 136.0M668.1 136.0L668.1 142.0M664.6 142.0L668.1 142.0M664.6 142.5L667.1 142.5M667.1 142.5L667.1 148.5M664.6 148.5L667.1 148.5M667.1 145.5L670.1 145.5M664.6 149.0L666.6 149.0M666.6 149.0L666.6 154.0M664.6 154.0L666.6 154.0M666.6 151.5L668.1 151.5M664.6 156.0L669.6 156.0M669.6 156.0L669.6 158.5M664.6 158.5L669.6 158.5M664.6 159.5L668.1 159.5M668.1 159.5L668.1 165.5M664.6 165.5L668.1 165.5M664.6 167.5L666.6 167.5M666.6 167.5L666.6 173.5M664.6 173.5L666.6 173.5M666.6 170.5L668.1 170.5M664.6 174.0L667.1 174.0M667.1 174.0L667.1 180.0M664.6 180.0L667.1 180.0M667.1 177.0L669.1 177.0M664.6 181.0L668.1 181.0M668.1 181.0L668.1 187.0M664.6 187.0L668.1 187.0M664.6 189.0L667.1 189.0M667.1 189.0L667.1 193.0M664.6 193.0L667.1 193.0M667.1 191.0L670.1 191.0M664.6 193.5L668.1 193.5M668.1 193.5L668.1 197.5M664.6 197.5L668.1 197.5M668.1 195.5L671.1 195.5M664.6 198.0L669.6 198.0M669.6 198.0L669.6 202.0M664.6 202.0L669.6 202.0M669.6 200.0L671.1 200.0M664.6 204.0L667.6 204.0M667.6 204.0L667.6 206.5M664.6 206.5L667.6 206.5M667.6 205.2L669.1 205.2M664.6 207.5L666.6 207.5M666.6 207.5L666.6 211.5M664.6 211.5L666.6 211.5M666.6 209.5L668.1 209.5M664.6 219.5L666.6 219.5M666.6 219.5L666.6 222.5M664.6 222.5L666.6 222.5M666.6 221.0L668.1 221.0M664.6 223.5L668.1 223.5M668.1 223.5L668.1 228.5M664.6 228.5L668.1 228.5M668.1 226.0L671.1 226.0M664.6 230.5L667.1 230.5M667.1 230.5L667.1 234.5M664.6 234.5L667.1 234.5M667.1 232.5L669.1 232.5M664.6 235.5L666.6 235.5M666.6 235.5L666.6 240.5M664.6 240.5L666.6 240.5M664.6 241.0L667.1 241.0M667.1 241.0L667.1 244.0M664.6 244.0L667.1 244.0M664.6 244.5L666.6 244.5M666.6 244.5L666.6 249.5M664.6 249.5L666.6 249.5M664.6 250.0L669.6 250.0M669.6 250.0L669.6 256.0M664.6 256.0L669.6 256.0M669.6 253.0L672.6 253.0M664.6 256.5L669.6 256.5M669.6 256.5L669.6 259.5M664.6 259.5L669.6 259.5M669.6 258.0L671.6 258.0M664.6 260.0L668.1 260.0M668.1 260.0L668.1 265.0M664.6 265.0L668.1 265.0M664.6 265.5L667.6 265.5M667.6 265.5L667.6 271.5M664.6 271.5L667.6 271.5M667.6 268.5L669.1 268.5M664.6 272.0L667.1 272.0M667.1 272.0L667.1 277.0M664.6 277.0L667.1 277.0M664.6 279.0L669.6 279.0M669.6 279.0L669.6 285.0M664.6 285.0L669.6 285.0M669.6 282.0L671.1 282.0M664.6 285.5L668.1 285.5M668.1 285.5L668.1 289.5M664.6 289.5L668.1 289.5M668.1 287.5L671.1 287.5M664.6 290.5L667.6 290.5M667.6 290.5L667.6 295.5M664.6 295.5L667.6 295.5M667.6 293.0L669.1 293.0M664.6 296.0L668.6 296.0M668.6 296.0L668.6 299.0M664.6 299.0L668.6 299.0M668.6 297.5L670.6 297.5M664.6 300.0L668.6 300.0M668.6 300.0L668.6 305.0M664.6 305.0L668.6 305.0M668.6 302.5L671.6 302.5M664.6 306.0L668.6 306.0M668.6 306.0L668.6 309.0M664.6 309.0L668.6 309.0M664.6 309.5L669.6 309.5M669.6 309.5L669.6 312.5M664.6 312.5L669.6 312.5M669.6 311.0L671.1 311.0M664.6 314.5L667.1 314.5M667.1 314.5L667.1 317.5M664.6 317.5L667.1 317.5M667.1 316.0L670.1 316.0M664.6 319.5L667.1 319.5M667.1 319.5L667.1 324.5M664.6 324.5L667.1 324.5M664.6 326.5L666.6 326.5M666.6 326.5L666.6 331.5M664.6 331.5L666.6 331.5M666.6 329.0L668.1 329.0M664.6 332.0L668.6 332.0M668.6 332.0L668.6 336.0M664.6 336.0L668.6 336.0M668.6 334.0L671.6 334.0M664.6 337.0L667.6 337.0M667.6 337.0L667.6 342.0M664.6 342.0L667.6 342.0M664.6 344.0L668.1 344.0M668.1 344.0L668.1 348.0M664.6 348.0L668.1 348.0M664.6 350.0L666.6 350.0M666.6 350.0L666.6 353.0M664.6 353.0L666.6 353.0M666.6 351.5L669.6 351.5M664.6 355.0L668.6 355.0M668.6 355.0L668.6 361.0M664.6 361.0L668.6 361.0M668.6 358.0L670.1 358.0M664.6 361.5L669.6 361.5M669.6 361.5L669.6 364.0M664.6 364.0L669.6 364.0M669.6 362.8L671.6 362.8M664.6 365.0L667.1 365.0M667.1 365.0L667.1 367.5M664.6 367.5L667.1 367.5M667.1 366.2L669.1 366.2M664.6 368.5L668.6 368.5M668.6 368.5L668.6 374.5M664.6 374.5L668.6 374.5M664.6 375.0L667.6 375.0M667.6 375.0L667.6 378.0M664.6 378.0L667.6 378.0" stroke="#000" stroke-width="1.30" fill="none"/>
<path d="M113.4 128L103.5 128.0L104.0 129.0L103.9 130.0L101.6 131.0L104.5 132.0L104.4 133.0L103.0 134.0L103.2 135.0L101.5 136.0L102.4 137.0L104.0 138.0L104.1 139.0L103.5 140.0L101.5 141.0L102.2 142.0L104.6 143.0L102.4 144.0L103.2 145.0L102.2 146.0L103.7 147.0L104.4 148.0L102.7 149.0L99.0 150.0L102.5 151.0L101.5 152.0L102.6 153.0L104.1 154.0L102.5 155.0L100.8 156.0L101.6 157.0L103.9 158.0L101.6 159.0L102.7 160.0L98.5 161.0L102.1 162.0L102.1 163.0L104.5 164.0L102.6 165.0L103.2 166.0L101.8 167.0L104.1 168.0L101.6 169.0L101.8 170.0L103.5 171.0L102.6 172.0L103.2 173.0L102.5 174.0L101.8 175.0L103.7 176.0L99.0 177.0L104.7 178.0L102.8 179.0L103.4 180.0L103.0 181.0L101.7 182.0L101.6 183.0L104.2 184.0L103.8 185.0L103.5 186.0L101.8 187.0L102.0 188.0L102.4 189.0L104.7 190.0L104.6 191.0L103.1 192.0L103.0 193.0L102.8 194.0L102.7 195.0L104.6 196.0L103.1 197.0L101.8 198.0L104.0 199.0L102.7 200.0L104.0 201.0L103.6 202.0L102.7 203.0L102.4 204.0L104.0 205.0L102.4 206.0L103.6 207.0L101.5 208.0L102.3 209.0L103.0 210.0L103.6 211.0L102.6 212.0L103.9 213.0L102.6 214.0L104.3 215.0L104.6 216.0L103.2 217.0L102.0 218.0L104.5 219.0L103.7 220.0L103.8 221.0L104.0 222.0L103.6 223.0L103.5 224.0L103.5 225.0L101.6 226.0L102.9 227.0L102.2 228.0L100.5 229.0L103.0 230.0L101.7 231.0L102.5 232.0L99.1 233.0L103.0 234.0L103.5 235.0L102.3 236.0L101.5 237.0L102.4 238.0L101.9 239.0L99.7 240.0L103.5 241.0L103.2 242.0L103.4 243.0L104.1 244.0L104.1 245.0L102.7 246.0L103.4 247.0L104.6 248.0L103.4 249.0L101.4 250.0L101.8 251.0L103.5 252.0L103.5 253.0L102.7 254.0L102.2 255.0L104.6 256.0L104.6 257.0L103.4 258.0L104.6 259.0L102.8 260.0L104.6 261.0L102.4 262.0L101.9 263.0L102.9 264.0L104.0 265.0L101.5 266.0L102.4 267.0L104.0 268.0L102.4 269.0L104.7 270.0L103.4 271.0L103.6 272.0L103.9 273.0L103.9 274.0L103.2 275.0L102.4 276.0L103.0 277.0L103.9 278.0L101.6 279.0L103.0 280.0L104.3 281.0L101.5 282.0L102.9 283.0L103.8 284.0L103.0 285.0L102.7 286.0L104.2 287.0L102.4 288.0L101.7 289.0L103.7 290.0L102.4 291.0L104.4 292.0L103.0 293.0L103.1 294.0L102.0 295.0L101.1 296.0L102.2 297.0L104.0 298.0L101.6 299.0L104.6 300.0L100.7 301.0L104.2 302.0L103.6 303.0L103.8 304.0L102.4 305.0L102.0 306.0L102.8 307.0L100.5 308.0L101.8 309.0L98.7 310.0L103.3 311.0L104.3 312.0L102.9 313.0L103.4 314.0L104.5 315.0L101.7 316.0L102.0 317.0L103.1 318.0L103.3 319.0L102.3 320.0L102.3 321.0L103.2 322.0L102.3 323.0L103.9 324.0L103.8 325.0L101.8 326.0L101.8 327.0L103.4 328.0L104.3 329.0L102.5 330.0L101.6 331.0L101.7 332.0L104.5 333.0L102.2 334.0L104.6 335.0L104.1 336.0L103.5 337.0L102.3 338.0L103.5 339.0L102.7 340.0L104.2 341.0L104.1 342.0L104.2 343.0L103.4 344.0L103.9 345.0L98.8 346.0L99.1 347.0L104.3 348.0L100.9 349.0L103.0 350.0L103.5 351.0L103.0 352.0L102.0 353.0L102.7 354.0L104.3 355.0L102.3 356.0L102.0 357.0L102.3 358.0L101.6 359.0L102.7 360.0L103.7 361.0L103.0 362.0L101.9 363.0L102.4 364.0L103.8 365.0L99.1 366.0L99.2 367.0L102.8 368.0L102.7 369.0L103.0 370.0L103.8 371.0L102.0 372.0L103.7 373.0L103.6 374.0L101.6 375.0L101.7 376.0L99.8 377.0L103.3 378.0L103.2 379.0L98.8 380.0L104.4 381.0L101.5 382.0L99.3 383.0L99.8 384.0L113.4 384Z" fill="#9a9a9a"/><rect x="107" y="128" width="6.4" height="256" fill="#8a8a8a" opacity="0.6"/><rect x="113.2" y="128" width="1.3" height="256" fill="#707070"/><path d="M116.3 385.5v6M119.3 385.5v6M122.3 385.5v6M125.4 385.5v6M128.4 385.5v6M131.4 385.5v6M134.4 385.5v6M137.4 385.5v6M140.5 385.5v6M143.5 385.5v6M146.5 385.5v6M149.5 385.5v6M152.6 385.5v6M155.6 385.5v6M158.6 385.5v6M161.6 385.5v6M164.6 385.5v6M167.7 385.5v6M170.7 385.5v6M173.7 385.5v6M176.7 385.5v6M179.7 385.5v6M182.8 385.5v6M185.8 385.5v6M188.8 385.5v6M191.8 385.5v6M194.8 385.5v6M197.9 385.5v6M200.9 385.5v6M203.9 385.5v6M206.9 385.5v6M210.0 385.5v6M213.0 385.5v6M216.0 385.5v6M219.0 385.5v6M222.0 385.5v6M225.1 385.5v6M228.1 385.5v6M231.1 385.5v6M234.1 385.5v6M237.1 385.5v6M240.2 385.5v6M243.2 385.5v6M246.2 385.5v6M249.2 385.5v6M252.2 385.5v6M255.3 385.5v6M258.3 385.5v6M261.3 385.5v6M264.3 385.5v6M267.3 385.5v6M270.4 385.5v6M273.4 385.5v6M276.4 385.5v6M279.4 385.5v6M282.5 385.5v6M285.5 385.5v6M288.5 385.5v6M291.5 385.5v6M294.5 385.5v6M297.6 385.5v6M300.6 385.5v6M303.6 385.5v6M306.6 385.5v6M309.6 385.5v6M312.7 385.5v6M315.7 385.5v6M318.7 385.5v6M321.7 385.5v6M324.7 385.5v6M327.8 385.5v6M330.8 385.5v6M333.8 385.5v6M336.8 385.5v6M339.9 385.5v6M342.9 385.5v6M345.9 385.5v6M348.9 385.5v6M351.9 385.5v6M355.0 385.5v6M358.0 385.5v6M361.0 385.5v6M364.0 385.5v6M367.0 385.5v6M370.1 385.5v6M373.1 385.5v6M376.1 385.5v6M379.1 385.5v6M382.1 385.5v6M385.2 385.5v6M388.2 385.5v6M391.2 385.5v6M394.2 385.5v6M397.3 385.5v6M400.3 385.5v6M403.3 385.5v6M406.3 385.5v6M409.3 385.5v6M412.4 385.5v6M415.4 385.5v6M418.4 385.5v6M421.4 385.5v6M424.4 385.5v6M427.5 385.5v6M430.5 385.5v6M433.5 385.5v6M436.5 385.5v6M439.5 385.5v6M442.6 385.5v6M445.6 385.5v6M448.6 385.5v6M451.6 385.5v6M454.7 385.5v6M457.7 385.5v6M460.7 385.5v6M463.7 385.5v6M466.7 385.5v6M469.8 385.5v6M472.8 385.5v6M475.8 385.5v6M478.8 385.5v6M481.8 385.5v6M484.9 385.5v6M487.9 385.5v6M490.9 385.5v6M493.9 385.5v6M496.9 385.5v6M500.0 385.5v6M503.0 385.5v6M506.0 385.5v6M509.0 385.5v6M512.1 385.5v6M515.1 385.5v6M518.1 385.5v6M521.1 385.5v6M524.1 385.5v6M527.2 385.5v6M530.2 385.5v6M533.2 385.5v6M536.2 385.5v6M539.2 385.5v6M542.3 385.5v6M545.3 385.5v6M548.3 385.5v6M551.3 385.5v6M554.3 385.5v6M557.4 385.5v6M560.4 385.5v6M563.4 385.5v6M566.4 385.5v6M569.4 385.5v6M572.5 385.5v6M575.5 385.5v6M578.5 385.5v6M581.5 385.5v6M584.6 385.5v6M587.6 385.5v6M590.6 385.5v6M593.6 385.5v6M596.6 385.5v6M599.7 385.5v6M602.7 385.5v6M605.7 385.5v6M608.7 385.5v6M611.7 385.5v6M614.8 385.5v6M617.8 385.5v6M620.8 385.5v6M623.8 385.5v6M626.8 385.5v6M629.9 385.5v6M632.9 385.5v6M635.9 385.5v6M638.9 385.5v6M642.0 385.5v6M645.0 385.5v6M648.0 385.5v6M651.0 385.5v6M654.0 385.5v6M657.1 385.5v6" stroke="#c9c9c9" stroke-width="1" fill="none" stroke-dasharray="1.2 1"/><rect x="320.9" y="369.1" width="51.0" height="12.9" fill="#000"/><rect x="325.5" y="373.4" width="41.0" height="3.9" fill="#fff"/><rect x="326.5" y="374.6" width="39.0" height="1.6" fill="#f9a66c"/><rect x="488.3" y="365.4" width="25.4" height="14.0" fill="#000"/><rect x="492.8" y="369.7" width="16.2" height="5.8" fill="#fff"/><rect x="493.8" y="371.8" width="14.2" height="1.6" fill="#3b55a8"/><rect x="629.0" y="370.6" width="23.3" height="13.1" fill="#000"/><rect x="632.8" y="375.0" width="15.8" height="5.0" fill="#fff"/><rect x="633.8" y="376.7" width="13.8" height="1.6" fill="#c8323a"/>
<text x="28.2" y="51.9" font-size="16.5" font-weight="bold" textLength="20.5" lengthAdjust="spacingAndGlyphs" fill="#000">(a)</text><text x="50.5" y="113.3" font-size="13.4" font-weight="bold" textLength="50.2" lengthAdjust="spacingAndGlyphs" fill="#000">Disease</text><line x1="107.7" y1="109.5" x2="114.4" y2="109.5" stroke="#bdbdbd" stroke-width="1"/><text x="78.5" y="272.1" font-size="13.4" font-weight="bold" textLength="41.2" lengthAdjust="spacingAndGlyphs" transform="rotate(-90 78.5 272.1)" fill="#000">Genes</text><text x="376.6" y="423.0" font-size="13.6" font-weight="bold" textLength="97.8" lengthAdjust="spacingAndGlyphs" fill="#000">Mouse models</text><rect x="320.9" y="393.4" width="45.4" height="2.6" fill="#000"/><text x="335.2" y="409.2" font-size="13.0" font-weight="bold" textLength="16.0" lengthAdjust="spacingAndGlyphs" fill="#000">R1</text><rect x="491.7" y="393.4" width="17.3" height="2.6" fill="#000"/><text x="493.7" y="409.2" font-size="13.0" font-weight="bold" textLength="16.1" lengthAdjust="spacingAndGlyphs" fill="#000">R2</text><rect x="633.8" y="393.4" width="16.2" height="2.6" fill="#000"/><text x="633.8" y="410.2" font-size="13.0" font-weight="bold" textLength="16.2" lengthAdjust="spacingAndGlyphs" fill="#000">R3</text>
<text x="802.4" y="32.6" font-size="13.6" font-weight="bold" textLength="50.5" lengthAdjust="spacingAndGlyphs" fill="#000">Disease</text><rect x="797.8" y="41.50" width="30.8" height="14.25" fill="#ffff99"/><line x1="828.6" y1="48.5" x2="831.2" y2="48.5" stroke="#555" stroke-width="0.8"/><text x="833.2" y="52.7" font-size="11.6" textLength="24.5" lengthAdjust="spacingAndGlyphs" fill="#2a2a2a">SCA</text><rect x="797.8" y="55.55" width="30.8" height="14.25" fill="#6a3d9a"/><line x1="828.6" y1="62.6" x2="831.2" y2="62.6" stroke="#555" stroke-width="0.8"/><text x="833.2" y="66.8" font-size="11.6" textLength="150.0" lengthAdjust="spacingAndGlyphs" fill="#2a2a2a">other-neurodevelopment</text><rect x="797.8" y="69.59" width="30.8" height="14.25" fill="#cab2d6"/><line x1="828.6" y1="76.6" x2="831.2" y2="76.6" stroke="#555" stroke-width="0.8"/><text x="833.2" y="80.8" font-size="11.6" textLength="178.0" lengthAdjust="spacingAndGlyphs" fill="#2a2a2a">other-inflammation-immunity</text><rect x="797.8" y="83.64" width="30.8" height="14.25" fill="#ff8524"/><line x1="828.6" y1="90.7" x2="831.2" y2="90.7" stroke="#555" stroke-width="0.8"/><text x="833.2" y="94.9" font-size="11.6" textLength="94.0" lengthAdjust="spacingAndGlyphs" fill="#2a2a2a">other-cell types</text><rect x="797.8" y="97.68" width="30.8" height="14.25" fill="#fdbf6f"/><line x1="828.6" y1="104.7" x2="831.2" y2="104.7" stroke="#555" stroke-width="0.8"/><text x="833.2" y="108.9" font-size="11.6" textLength="70.0" lengthAdjust="spacingAndGlyphs" fill="#2a2a2a">other-aging</text><rect x="797.8" y="111.73" width="30.8" height="14.25" fill="#ee3124"/><line x1="828.6" y1="118.7" x2="831.2" y2="118.7" stroke="#555" stroke-width="0.8"/><text x="833.2" y="122.9" font-size="11.6" textLength="30.5" lengthAdjust="spacingAndGlyphs" fill="#2a2a2a">other</text><rect x="797.8" y="125.77" width="30.8" height="14.25" fill="#fb9a99"/><line x1="828.6" y1="132.8" x2="831.2" y2="132.8" stroke="#555" stroke-width="0.8"/><text x="833.2" y="137.0" font-size="11.6" textLength="109.5" lengthAdjust="spacingAndGlyphs" fill="#2a2a2a">Neurofibromatosis</text><rect x="797.8" y="139.82" width="30.8" height="14.25" fill="#0a9b30"/><line x1="828.6" y1="146.8" x2="831.2" y2="146.8" stroke="#555" stroke-width="0.8"/><text x="833.2" y="151.0" font-size="11.6" textLength="17.0" lengthAdjust="spacingAndGlyphs" fill="#2a2a2a">HD</text><rect x="797.8" y="153.86" width="30.8" height="14.25" fill="#b2df8a"/><line x1="828.6" y1="160.9" x2="831.2" y2="160.9" stroke="#555" stroke-width="0.8"/><text x="833.2" y="165.1" font-size="11.6" textLength="51.5" lengthAdjust="spacingAndGlyphs" fill="#2a2a2a">FTD-ALS</text><rect x="797.8" y="167.91" width="30.8" height="14.25" fill="#1f78b4"/><line x1="828.6" y1="174.9" x2="831.2" y2="174.9" stroke="#555" stroke-width="0.8"/><text x="833.2" y="179.1" font-size="11.6" textLength="22.5" lengthAdjust="spacingAndGlyphs" fill="#2a2a2a">CJD</text><rect x="797.8" y="181.95" width="30.8" height="14.25" fill="#a6cee3"/><line x1="828.6" y1="189.0" x2="831.2" y2="189.0" stroke="#555" stroke-width="0.8"/><text x="833.2" y="193.2" font-size="11.6" textLength="16.5" lengthAdjust="spacingAndGlyphs" fill="#2a2a2a">AD</text><rect x="797.8" y="41.5" width="30.8" height="154.5" fill="none" stroke="#555" stroke-width="0.9"/>
<text x="801.9" y="223.0" font-size="14.2" font-weight="bold" textLength="36.5" lengthAdjust="spacingAndGlyphs" fill="#000">logFC</text><defs><linearGradient id="cb" x1="0" y1="0" x2="0" y2="1"><stop offset="0.000" stop-color="#af1428"/><stop offset="0.033" stop-color="#bc1d28"/><stop offset="0.067" stop-color="#ca2727"/><stop offset="0.100" stop-color="#d73027"/><stop offset="0.133" stop-color="#e14430"/><stop offset="0.167" stop-color="#ea593a"/><stop offset="0.200" stop-color="#f46d43"/><stop offset="0.233" stop-color="#f7834d"/><stop offset="0.267" stop-color="#fa9857"/><stop offset="0.300" stop-color="#fdae61"/><stop offset="0.333" stop-color="#fdbe71"/><stop offset="0.367" stop-color="#fece82"/><stop offset="0.400" stop-color="#fede92"/><stop offset="0.433" stop-color="#feecb2"/><stop offset="0.467" stop-color="#fffad7"/><stop offset="0.500" stop-color="#ffffff"/><stop offset="0.533" stop-color="#e6f5f9"/><stop offset="0.567" stop-color="#c9e8f2"/><stop offset="0.600" stop-color="#abd9e9"/><stop offset="0.633" stop-color="#99cae1"/><stop offset="0.667" stop-color="#86bcd9"/><stop offset="0.700" stop-color="#74add1"/><stop offset="0.733" stop-color="#649ac7"/><stop offset="0.767" stop-color="#5588be"/><stop offset="0.800" stop-color="#4575b4"/><stop offset="0.833" stop-color="#416aaf"/><stop offset="0.867" stop-color="#3e5fa9"/><stop offset="0.900" stop-color="#3a54a4"/><stop offset="0.933" stop-color="#374a9f"/><stop offset="0.967" stop-color="#34409a"/><stop offset="1.000" stop-color="#313695"/></linearGradient></defs><rect x="808" y="232.5" width="13.6" height="97.3" fill="url(#cb)"/><text x="837.6" y="240.3" font-size="9.2" font-weight="bold" text-anchor="end" fill="#000">+3</text><text x="837.6" y="254.7" font-size="9.2" font-weight="bold" text-anchor="end" fill="#000">+2</text><text x="837.6" y="269.9" font-size="9.2" font-weight="bold" text-anchor="end" fill="#000">+1</text><text x="837.6" y="286.5" font-size="9.2" font-weight="bold" text-anchor="end" fill="#000">0</text><text x="837.6" y="303.3" font-size="9.2" font-weight="bold" text-anchor="end" fill="#000">-1</text><text x="837.6" y="319.5" font-size="9.2" font-weight="bold" text-anchor="end" fill="#000">-2</text><text x="837.6" y="333.9" font-size="9.2" font-weight="bold" text-anchor="end" fill="#000">-3</text>
<text x="28.1" y="451.5" font-size="14.6" font-weight="bold" textLength="45.7" lengthAdjust="spacingAndGlyphs" fill="#000">(b) R1</text><g shape-rendering="crispEdges"><clipPath id="cpb"><rect x="140.3" y="484.4" width="154.3" height="202.9"/></clipPath><g clip-path="url(#cpb)"><rect x="140.30" y="485.60" width="10.96" height="10.49" fill="#fdd08c"/><rect x="151.11" y="485.60" width="10.96" height="10.49" fill="#fdbf76"/><rect x="161.91" y="485.60" width="10.96" height="10.49" fill="#fdb066"/><rect x="172.72" y="485.60" width="10.96" height="10.49" fill="#fdbf76"/><rect x="183.53" y="485.60" width="10.96" height="10.49" fill="#fdb066"/><rect x="194.34" y="485.60" width="10.96" height="10.49" fill="#fdb066"/><rect x="205.14" y="485.60" width="10.96" height="10.49" fill="#fdbf76"/><rect x="215.95" y="485.60" width="10.96" height="10.49" fill="#fa8649"/><rect x="226.76" y="485.60" width="10.96" height="10.49" fill="#fc9a56"/><rect x="237.56" y="485.60" width="10.96" height="10.49" fill="#ee5a36"/><rect x="259.18" y="485.60" width="10.96" height="10.49" fill="#fdb066"/><rect x="269.99" y="485.60" width="10.96" height="10.49" fill="#f77040"/><rect x="280.79" y="485.60" width="10.96" height="10.49" fill="#f77040"/><rect x="161.91" y="495.94" width="10.96" height="10.49" fill="#fdd08c"/><rect x="183.53" y="495.94" width="10.96" height="10.49" fill="#fdd08c"/><rect x="194.34" y="495.94" width="10.96" height="10.49" fill="#fdd08c"/><rect x="248.37" y="495.94" width="10.96" height="10.49" fill="#fdb066"/><rect x="269.99" y="495.94" width="10.96" height="10.49" fill="#f77040"/><rect x="280.79" y="495.94" width="10.96" height="10.49" fill="#fc9a56"/><rect x="161.91" y="506.28" width="10.96" height="10.49" fill="#fdd08c"/><rect x="172.72" y="506.28" width="10.96" height="10.49" fill="#fc9a56"/><rect x="140.30" y="516.62" width="10.96" height="10.49" fill="#fdbf76"/><rect x="151.11" y="516.62" width="10.96" height="10.49" fill="#fdbf76"/><rect x="161.91" y="516.62" width="10.96" height="10.49" fill="#fdbf76"/><rect x="172.72" y="516.62" width="10.96" height="10.49" fill="#fdb066"/><rect x="183.53" y="516.62" width="10.96" height="10.49" fill="#fdbf76"/><rect x="194.34" y="516.62" width="10.96" height="10.49" fill="#fdbf76"/><rect x="205.14" y="516.62" width="10.96" height="10.49" fill="#fdbf76"/><rect x="215.95" y="516.62" width="10.96" height="10.49" fill="#fc9a56"/><rect x="226.76" y="516.62" width="10.96" height="10.49" fill="#fc9a56"/><rect x="237.56" y="516.62" width="10.96" height="10.49" fill="#df3e2c"/><rect x="248.37" y="516.62" width="10.96" height="10.49" fill="#fdb066"/><rect x="259.18" y="516.62" width="10.96" height="10.49" fill="#fdb066"/><rect x="269.99" y="516.62" width="10.96" height="10.49" fill="#f77040"/><rect x="280.79" y="516.62" width="10.96" height="10.49" fill="#cc2a27"/><rect x="140.30" y="526.96" width="10.96" height="10.49" fill="#fdd08c"/><rect x="151.11" y="526.96" width="10.96" height="10.49" fill="#fdbf76"/><rect x="172.72" y="526.96" width="10.96" height="10.49" fill="#fdd08c"/><rect x="183.53" y="526.96" width="10.96" height="10.49" fill="#fdd08c"/><rect x="205.14" y="526.96" width="10.96" height="10.49" fill="#fdbf76"/><rect x="215.95" y="526.96" width="10.96" height="10.49" fill="#fc9a56"/><rect x="248.37" y="526.96" width="10.96" height="10.49" fill="#fdb066"/><rect x="259.18" y="526.96" width="10.96" height="10.49" fill="#fdb066"/><rect x="280.79" y="526.96" width="10.96" height="10.49" fill="#cc2a27"/><rect x="140.30" y="537.30" width="10.96" height="10.49" fill="#fdd08c"/><rect x="151.11" y="537.30" width="10.96" height="10.49" fill="#fdd08c"/><rect x="161.91" y="537.30" width="10.96" height="10.49" fill="#fdbf76"/><rect x="172.72" y="537.30" width="10.96" height="10.49" fill="#fdbf76"/><rect x="183.53" y="537.30" width="10.96" height="10.49" fill="#fdb066"/><rect x="194.34" y="537.30" width="10.96" height="10.49" fill="#fc9a56"/><rect x="205.14" y="537.30" width="10.96" height="10.49" fill="#fdbf76"/><rect x="215.95" y="537.30" width="10.96" height="10.49" fill="#cc2a27"/><rect x="226.76" y="537.30" width="10.96" height="10.49" fill="#df3e2c"/><rect x="248.37" y="537.30" width="10.96" height="10.49" fill="#fc9a56"/><rect x="259.18" y="537.30" width="10.96" height="10.49" fill="#fa8649"/><rect x="269.99" y="537.30" width="10.96" height="10.49" fill="#b11226"/><rect x="280.79" y="537.30" width="10.96" height="10.49" fill="#b11226"/><rect x="226.76" y="547.64" width="10.96" height="10.49" fill="#fdd08c"/><rect x="237.56" y="547.64" width="10.96" height="10.49" fill="#cc2a27"/><rect x="248.37" y="547.64" width="10.96" height="10.49" fill="#fc9a56"/><rect x="259.18" y="547.64" width="10.96" height="10.49" fill="#fa8649"/><rect x="269.99" y="547.64" width="10.96" height="10.49" fill="#b11226"/><rect x="280.79" y="547.64" width="10.96" height="10.49" fill="#b11226"/><rect x="161.91" y="557.98" width="10.96" height="10.49" fill="#fdd08c"/><rect x="172.72" y="557.98" width="10.96" height="10.49" fill="#fdd08c"/><rect x="248.37" y="557.98" width="10.96" height="10.49" fill="#fdbf76"/><rect x="161.91" y="568.32" width="10.96" height="10.49" fill="#fdd08c"/><rect x="172.72" y="568.32" width="10.96" height="10.49" fill="#fdd08c"/><rect x="183.53" y="568.32" width="10.96" height="10.49" fill="#fdd08c"/><rect x="194.34" y="568.32" width="10.96" height="10.49" fill="#fdd08c"/><rect x="237.56" y="568.32" width="10.96" height="10.49" fill="#cc2a27"/><rect x="248.37" y="568.32" width="10.96" height="10.49" fill="#fc9a56"/><rect x="259.18" y="568.32" width="10.96" height="10.49" fill="#fa8649"/><rect x="280.79" y="568.32" width="10.96" height="10.49" fill="#ee5a36"/><rect x="140.30" y="578.66" width="10.96" height="10.49" fill="#fdd08c"/><rect x="151.11" y="578.66" width="10.96" height="10.49" fill="#fdbf76"/><rect x="172.72" y="578.66" width="10.96" height="10.49" fill="#fdbf76"/><rect x="183.53" y="578.66" width="10.96" height="10.49" fill="#fdbf76"/><rect x="194.34" y="578.66" width="10.96" height="10.49" fill="#fdd08c"/><rect x="205.14" y="578.66" width="10.96" height="10.49" fill="#fdd08c"/><rect x="248.37" y="578.66" width="10.96" height="10.49" fill="#fc9a56"/><rect x="280.79" y="578.66" width="10.96" height="10.49" fill="#fc9a56"/><rect x="151.11" y="589.00" width="10.96" height="10.49" fill="#fdd08c"/><rect x="161.91" y="589.00" width="10.96" height="10.49" fill="#fc9a56"/><rect x="172.72" y="589.00" width="10.96" height="10.49" fill="#fdbf76"/><rect x="183.53" y="589.00" width="10.96" height="10.49" fill="#fdd08c"/><rect x="194.34" y="589.00" width="10.96" height="10.49" fill="#fdbf76"/><rect x="215.95" y="589.00" width="10.96" height="10.49" fill="#df3e2c"/><rect x="226.76" y="589.00" width="10.96" height="10.49" fill="#fdb066"/><rect x="237.56" y="589.00" width="10.96" height="10.49" fill="#d53328"/><rect x="248.37" y="589.00" width="10.96" height="10.49" fill="#fa8649"/><rect x="259.18" y="589.00" width="10.96" height="10.49" fill="#fa8649"/><rect x="280.79" y="589.00" width="10.96" height="10.49" fill="#df3e2c"/><rect x="140.30" y="599.34" width="10.96" height="10.49" fill="#fdbf76"/><rect x="151.11" y="599.34" width="10.96" height="10.49" fill="#fdbf76"/><rect x="161.91" y="599.34" width="10.96" height="10.49" fill="#fdd08c"/><rect x="172.72" y="599.34" width="10.96" height="10.49" fill="#fdb066"/><rect x="183.53" y="599.34" width="10.96" height="10.49" fill="#fa8649"/><rect x="194.34" y="599.34" width="10.96" height="10.49" fill="#f77040"/><rect x="205.14" y="599.34" width="10.96" height="10.49" fill="#cc2a27"/><rect x="215.95" y="599.34" width="10.96" height="10.49" fill="#b11226"/><rect x="226.76" y="599.34" width="10.96" height="10.49" fill="#b11226"/><rect x="237.56" y="599.34" width="10.96" height="10.49" fill="#b11226"/><rect x="248.37" y="599.34" width="10.96" height="10.49" fill="#fa8649"/><rect x="259.18" y="599.34" width="10.96" height="10.49" fill="#f97d45"/><rect x="269.99" y="599.34" width="10.96" height="10.49" fill="#b11226"/><rect x="280.79" y="599.34" width="10.96" height="10.49" fill="#b11226"/><rect x="172.72" y="609.68" width="10.96" height="10.49" fill="#fdb066"/><rect x="183.53" y="609.68" width="10.96" height="10.49" fill="#fc9a56"/><rect x="194.34" y="609.68" width="10.96" height="10.49" fill="#fc9a56"/><rect x="205.14" y="609.68" width="10.96" height="10.49" fill="#b11226"/><rect x="215.95" y="609.68" width="10.96" height="10.49" fill="#b11226"/><rect x="226.76" y="609.68" width="10.96" height="10.49" fill="#b11226"/><rect x="237.56" y="609.68" width="10.96" height="10.49" fill="#b11226"/><rect x="248.37" y="609.68" width="10.96" height="10.49" fill="#fa8649"/><rect x="259.18" y="609.68" width="10.96" height="10.49" fill="#f4683d"/><rect x="269.99" y="609.68" width="10.96" height="10.49" fill="#b11226"/><rect x="280.79" y="609.68" width="10.96" height="10.49" fill="#b11226"/><rect x="151.11" y="620.02" width="10.96" height="10.49" fill="#fdd08c"/><rect x="161.91" y="620.02" width="10.96" height="10.49" fill="#fdbf76"/><rect x="172.72" y="620.02" width="10.96" height="10.49" fill="#fc9a56"/><rect x="183.53" y="620.02" width="10.96" height="10.49" fill="#fdbf76"/><rect x="194.34" y="620.02" width="10.96" height="10.49" fill="#fdbf76"/><rect x="226.76" y="620.02" width="10.96" height="10.49" fill="#fdd08c"/><rect x="237.56" y="620.02" width="10.96" height="10.49" fill="#d53328"/><rect x="248.37" y="620.02" width="10.96" height="10.49" fill="#fdb066"/><rect x="259.18" y="620.02" width="10.96" height="10.49" fill="#fa8649"/><rect x="269.99" y="620.02" width="10.96" height="10.49" fill="#fa8649"/><rect x="280.79" y="620.02" width="10.96" height="10.49" fill="#f77040"/><rect x="151.11" y="630.36" width="10.96" height="10.49" fill="#fdbf76"/><rect x="161.91" y="630.36" width="10.96" height="10.49" fill="#fdb96e"/><rect x="172.72" y="630.36" width="10.96" height="10.49" fill="#fdb96e"/><rect x="237.56" y="630.36" width="10.96" height="10.49" fill="#fa8649"/><rect x="248.37" y="630.36" width="10.96" height="10.49" fill="#fdb066"/><rect x="280.79" y="630.36" width="10.96" height="10.49" fill="#fdbf76"/><rect x="161.91" y="640.70" width="10.96" height="10.49" fill="#fdbf76"/><rect x="172.72" y="640.70" width="10.96" height="10.49" fill="#fdbf76"/><rect x="259.18" y="640.70" width="10.96" height="10.49" fill="#fc9a56"/><rect x="140.30" y="651.04" width="10.96" height="10.49" fill="#fdd08c"/><rect x="205.14" y="651.04" width="10.96" height="10.49" fill="#fdd08c"/><rect x="215.95" y="651.04" width="10.96" height="10.49" fill="#f77040"/><rect x="226.76" y="651.04" width="10.96" height="10.49" fill="#df3e2c"/><rect x="248.37" y="651.04" width="10.96" height="10.49" fill="#fa8649"/><rect x="259.18" y="651.04" width="10.96" height="10.49" fill="#fb9050"/><rect x="161.91" y="661.38" width="10.96" height="10.49" fill="#fc9a56"/><rect x="248.37" y="661.38" width="10.96" height="10.49" fill="#f97d45"/><rect x="259.18" y="661.38" width="10.96" height="10.49" fill="#fb9050"/><rect x="269.99" y="671.72" width="10.96" height="10.49" fill="#f77040"/><rect x="280.79" y="671.72" width="10.96" height="10.49" fill="#b11226"/></g><rect x="140.30" y="454.8" width="10.96" height="29.6" fill="#a6cee3"/><rect x="151.11" y="454.8" width="10.96" height="29.6" fill="#a6cee3"/><rect x="161.91" y="454.8" width="10.96" height="29.6" fill="#b2df8a"/><rect x="172.72" y="454.8" width="10.96" height="29.6" fill="#a6cee3"/><rect x="183.53" y="454.8" width="10.96" height="29.6" fill="#a6cee3"/><rect x="194.34" y="454.8" width="10.96" height="29.6" fill="#a6cee3"/><rect x="205.14" y="454.8" width="10.96" height="29.6" fill="#a6cee3"/><rect x="215.95" y="454.8" width="10.96" height="29.6" fill="#a6cee3"/><rect x="226.76" y="454.8" width="10.96" height="29.6" fill="#a6cee3"/><rect x="237.56" y="454.8" width="10.96" height="29.6" fill="#1f78b4"/><rect x="248.37" y="454.8" width="10.96" height="29.6" fill="#a6cee3"/><rect x="259.18" y="454.8" width="10.96" height="29.6" fill="#a6cee3"/><rect x="269.99" y="454.8" width="10.96" height="29.6" fill="#a6cee3"/><rect x="280.79" y="454.8" width="10.96" height="29.6" fill="#a6cee3"/></g><text x="133.8" y="473.4" font-size="10.4" text-anchor="end" textLength="40.3" lengthAdjust="spacingAndGlyphs" fill="#4d4d4d">Disease</text><line x1="135.3" y1="469.6" x2="139.3" y2="469.6" stroke="#555" stroke-width="0.8"/><text x="133.8" y="494.5" font-size="10.4" text-anchor="end" textLength="64.4" lengthAdjust="spacingAndGlyphs" fill="#4d4d4d">CAPG_CAPG</text><line x1="135.3" y1="490.8" x2="139.3" y2="490.8" stroke="#555" stroke-width="0.8"/><text x="133.8" y="504.9" font-size="10.4" text-anchor="end" textLength="61.7" lengthAdjust="spacingAndGlyphs" fill="#4d4d4d">BST2_BST2</text><line x1="135.3" y1="501.1" x2="139.3" y2="501.1" stroke="#555" stroke-width="0.8"/><text x="133.8" y="515.2" font-size="10.4" text-anchor="end" textLength="34.7" lengthAdjust="spacingAndGlyphs" fill="#4d4d4d">C3_C3</text><line x1="135.3" y1="511.5" x2="139.3" y2="511.5" stroke="#555" stroke-width="0.8"/><text x="133.8" y="525.6" font-size="10.4" text-anchor="end" textLength="59.4" lengthAdjust="spacingAndGlyphs" fill="#4d4d4d">TLR2_TLR2</text><line x1="135.3" y1="521.8" x2="139.3" y2="521.8" stroke="#555" stroke-width="0.8"/><text x="133.8" y="535.9" font-size="10.4" text-anchor="end" textLength="63.1" lengthAdjust="spacingAndGlyphs" fill="#4d4d4d">CYBB_CYBB</text><line x1="135.3" y1="532.1" x2="139.3" y2="532.1" stroke="#555" stroke-width="0.8"/><text x="133.8" y="546.2" font-size="10.4" text-anchor="end" textLength="88.4" lengthAdjust="spacingAndGlyphs" fill="#4d4d4d">LILRB4_LILRB4A</text><line x1="135.3" y1="542.5" x2="139.3" y2="542.5" stroke="#555" stroke-width="0.8"/><text x="133.8" y="556.6" font-size="10.4" text-anchor="end" textLength="81.3" lengthAdjust="spacingAndGlyphs" fill="#4d4d4d">LILRB4_LILR4B</text><line x1="135.3" y1="552.8" x2="139.3" y2="552.8" stroke="#555" stroke-width="0.8"/><text x="133.8" y="566.9" font-size="10.4" text-anchor="end" textLength="69.6" lengthAdjust="spacingAndGlyphs" fill="#4d4d4d">IFI16_IFI204</text><line x1="135.3" y1="563.1" x2="139.3" y2="563.1" stroke="#555" stroke-width="0.8"/><text x="133.8" y="577.3" font-size="10.4" text-anchor="end" textLength="60.8" lengthAdjust="spacingAndGlyphs" fill="#4d4d4d">BCL3_BCL3</text><line x1="135.3" y1="573.5" x2="139.3" y2="573.5" stroke="#555" stroke-width="0.8"/><text x="133.8" y="587.6" font-size="10.4" text-anchor="end" textLength="88.8" lengthAdjust="spacingAndGlyphs" fill="#4d4d4d">CXCL16_CXCL16</text><line x1="135.3" y1="583.8" x2="139.3" y2="583.8" stroke="#555" stroke-width="0.8"/><text x="133.8" y="597.9" font-size="10.4" text-anchor="end" textLength="88.2" lengthAdjust="spacingAndGlyphs" fill="#4d4d4d">LGALS3_LGALS3</text><line x1="135.3" y1="594.2" x2="139.3" y2="594.2" stroke="#555" stroke-width="0.8"/><text x="133.8" y="608.3" font-size="10.4" text-anchor="end" textLength="88.4" lengthAdjust="spacingAndGlyphs" fill="#4d4d4d">CLEC7A_CLEC7A</text><line x1="135.3" y1="604.5" x2="139.3" y2="604.5" stroke="#555" stroke-width="0.8"/><text x="133.8" y="618.6" font-size="10.4" text-anchor="end" textLength="61.9" lengthAdjust="spacingAndGlyphs" fill="#4d4d4d">CST7_CST7</text><line x1="135.3" y1="614.9" x2="139.3" y2="614.9" stroke="#555" stroke-width="0.8"/><text x="133.8" y="629.0" font-size="10.4" text-anchor="end" textLength="121.1" lengthAdjust="spacingAndGlyphs" fill="#4d4d4d">SERPINA3_SERPINA3N</text><line x1="135.3" y1="625.2" x2="139.3" y2="625.2" stroke="#555" stroke-width="0.8"/><text x="133.8" y="639.3" font-size="10.4" text-anchor="end" textLength="64.2" lengthAdjust="spacingAndGlyphs" fill="#4d4d4d">CD44_CD44</text><line x1="135.3" y1="635.5" x2="139.3" y2="635.5" stroke="#555" stroke-width="0.8"/><text x="133.8" y="649.6" font-size="10.4" text-anchor="end" textLength="60.0" lengthAdjust="spacingAndGlyphs" fill="#4d4d4d">PTX3_PTX3</text><line x1="135.3" y1="645.9" x2="139.3" y2="645.9" stroke="#555" stroke-width="0.8"/><text x="133.8" y="660.0" font-size="10.4" text-anchor="end" textLength="79.4" lengthAdjust="spacingAndGlyphs" fill="#4d4d4d">CH25H_CH25H</text><line x1="135.3" y1="656.2" x2="139.3" y2="656.2" stroke="#555" stroke-width="0.8"/><text x="133.8" y="670.3" font-size="10.4" text-anchor="end" textLength="71.9" lengthAdjust="spacingAndGlyphs" fill="#4d4d4d">TIMP1_TIMP1</text><line x1="135.3" y1="666.5" x2="139.3" y2="666.5" stroke="#555" stroke-width="0.8"/><text x="133.8" y="680.7" font-size="10.4" text-anchor="end" textLength="95.3" lengthAdjust="spacingAndGlyphs" fill="#4d4d4d">IL18RAP_IL18RAP</text><line x1="135.3" y1="676.9" x2="139.3" y2="676.9" stroke="#555" stroke-width="0.8"/><text x="133.8" y="689.4" font-size="10.4" text-anchor="end" textLength="87.2" lengthAdjust="spacingAndGlyphs" fill="#4d4d4d">STEAP4_STEAP4</text><line x1="135.3" y1="685.6" x2="139.3" y2="685.6" stroke="#555" stroke-width="0.8"/><line x1="145.7" y1="688.9" x2="145.7" y2="692.1" stroke="#555" stroke-width="0.8"/><text x="139.9" y="700.4" font-size="10.4" textLength="28.8" lengthAdjust="spacingAndGlyphs" transform="rotate(90 139.9 700.4)" fill="#4d4d4d">M240</text><line x1="156.5" y1="688.9" x2="156.5" y2="692.1" stroke="#555" stroke-width="0.8"/><text x="150.7" y="700.4" font-size="10.4" textLength="28.8" lengthAdjust="spacingAndGlyphs" transform="rotate(90 150.7 700.4)" fill="#4d4d4d">M241</text><line x1="167.3" y1="688.9" x2="167.3" y2="692.1" stroke="#555" stroke-width="0.8"/><text x="161.5" y="700.4" font-size="10.4" textLength="22.2" lengthAdjust="spacingAndGlyphs" transform="rotate(90 161.5 700.4)" fill="#4d4d4d">M14</text><line x1="178.1" y1="688.9" x2="178.1" y2="692.1" stroke="#555" stroke-width="0.8"/><text x="172.3" y="700.4" font-size="10.4" textLength="28.8" lengthAdjust="spacingAndGlyphs" transform="rotate(90 172.3 700.4)" fill="#4d4d4d">M246</text><line x1="188.9" y1="688.9" x2="188.9" y2="692.1" stroke="#555" stroke-width="0.8"/><text x="183.1" y="700.4" font-size="10.4" textLength="28.8" lengthAdjust="spacingAndGlyphs" transform="rotate(90 183.1 700.4)" fill="#4d4d4d">M245</text><line x1="199.7" y1="688.9" x2="199.7" y2="692.1" stroke="#555" stroke-width="0.8"/><text x="193.9" y="700.4" font-size="10.4" textLength="28.8" lengthAdjust="spacingAndGlyphs" transform="rotate(90 193.9 700.4)" fill="#4d4d4d">M248</text><line x1="210.5" y1="688.9" x2="210.5" y2="692.1" stroke="#555" stroke-width="0.8"/><text x="204.7" y="700.4" font-size="10.4" textLength="22.2" lengthAdjust="spacingAndGlyphs" transform="rotate(90 204.7 700.4)" fill="#4d4d4d">M12</text><line x1="221.4" y1="688.9" x2="221.4" y2="692.1" stroke="#555" stroke-width="0.8"/><text x="215.6" y="700.4" font-size="10.4" textLength="15.5" lengthAdjust="spacingAndGlyphs" transform="rotate(90 215.6 700.4)" fill="#4d4d4d">M8</text><line x1="232.2" y1="688.9" x2="232.2" y2="692.1" stroke="#555" stroke-width="0.8"/><text x="226.4" y="700.4" font-size="10.4" textLength="15.5" lengthAdjust="spacingAndGlyphs" transform="rotate(90 226.4 700.4)" fill="#4d4d4d">M7</text><line x1="243.0" y1="688.9" x2="243.0" y2="692.1" stroke="#555" stroke-width="0.8"/><text x="237.2" y="700.4" font-size="10.4" textLength="28.8" lengthAdjust="spacingAndGlyphs" transform="rotate(90 237.2 700.4)" fill="#4d4d4d">M199</text><line x1="253.8" y1="688.9" x2="253.8" y2="692.1" stroke="#555" stroke-width="0.8"/><text x="248.0" y="700.4" font-size="10.4" textLength="28.8" lengthAdjust="spacingAndGlyphs" transform="rotate(90 248.0 700.4)" fill="#4d4d4d">M235</text><line x1="264.6" y1="688.9" x2="264.6" y2="692.1" stroke="#555" stroke-width="0.8"/><text x="258.8" y="700.4" font-size="10.4" textLength="28.8" lengthAdjust="spacingAndGlyphs" transform="rotate(90 258.8 700.4)" fill="#4d4d4d">M233</text><line x1="275.4" y1="688.9" x2="275.4" y2="692.1" stroke="#555" stroke-width="0.8"/><text x="269.6" y="700.4" font-size="10.4" textLength="28.8" lengthAdjust="spacingAndGlyphs" transform="rotate(90 269.6 700.4)" fill="#4d4d4d">M201</text><line x1="286.2" y1="688.9" x2="286.2" y2="692.1" stroke="#555" stroke-width="0.8"/><text x="280.4" y="700.4" font-size="10.4" textLength="28.8" lengthAdjust="spacingAndGlyphs" transform="rotate(90 280.4 700.4)" fill="#4d4d4d">M202</text><rect x="144.4" y="455.1" width="11.6" height="1.1" fill="#4f6272" opacity="0.8"/><rect x="188.4" y="455.1" width="11.0" height="1.1" fill="#4f6272" opacity="0.8"/><rect x="165.9" y="455.1" width="1.4" height="1.1" fill="#4f6272" opacity="0.8"/><rect x="176.7" y="455.1" width="1.4" height="1.1" fill="#4f6272" opacity="0.8"/><rect x="208.8" y="455.1" width="1.4" height="1.1" fill="#4f6272" opacity="0.8"/><rect x="221.3" y="455.1" width="1.4" height="1.1" fill="#4f6272" opacity="0.8"/><rect x="231.9" y="455.1" width="1.4" height="1.1" fill="#4f6272" opacity="0.8"/><rect x="242.5" y="455.1" width="1.4" height="1.1" fill="#4f6272" opacity="0.8"/><rect x="253.6" y="455.1" width="1.4" height="1.1" fill="#4f6272" opacity="0.8"/><rect x="264.3" y="455.1" width="1.4" height="1.1" fill="#4f6272" opacity="0.8"/><rect x="275.2" y="455.1" width="1.4" height="1.1" fill="#4f6272" opacity="0.8"/><rect x="285.7" y="455.1" width="1.4" height="1.1" fill="#4f6272" opacity="0.8"/><text x="321.9" y="449.9" font-size="14.6" font-weight="bold" textLength="44.5" lengthAdjust="spacingAndGlyphs" fill="#000">(c) R2</text><g shape-rendering="crispEdges"><clipPath id="cpc"><rect x="440.6" y="481.2" width="86.1" height="209.0"/></clipPath><g clip-path="url(#cpc)"><rect x="440.60" y="478.00" width="14.00" height="11.30" fill="#2b3191"/><rect x="454.45" y="478.00" width="14.00" height="11.30" fill="#2b3191"/><rect x="468.30" y="478.00" width="14.00" height="11.30" fill="#4a8cc5"/><rect x="482.15" y="478.00" width="14.00" height="11.30" fill="#2f55a5"/><rect x="496.00" y="478.00" width="14.00" height="11.30" fill="#2b3191"/><rect x="509.85" y="478.00" width="14.00" height="11.30" fill="#2b3c98"/><rect x="440.60" y="489.15" width="14.00" height="11.30" fill="#2f4aa0"/><rect x="482.15" y="489.15" width="14.00" height="11.30" fill="#2b3191"/><rect x="496.00" y="489.15" width="14.00" height="11.30" fill="#2b3191"/><rect x="509.85" y="489.15" width="14.00" height="11.30" fill="#2b3191"/><rect x="440.60" y="500.30" width="14.00" height="11.30" fill="#2b3191"/><rect x="454.45" y="500.30" width="14.00" height="11.30" fill="#2b3191"/><rect x="468.30" y="500.30" width="14.00" height="11.30" fill="#2b3191"/><rect x="482.15" y="500.30" width="14.00" height="11.30" fill="#2b3191"/><rect x="496.00" y="500.30" width="14.00" height="11.30" fill="#2b3191"/><rect x="509.85" y="500.30" width="14.00" height="11.30" fill="#2b3191"/><rect x="440.60" y="511.45" width="14.00" height="11.30" fill="#2b3191"/><rect x="454.45" y="511.45" width="14.00" height="11.30" fill="#2b3191"/><rect x="468.30" y="511.45" width="14.00" height="11.30" fill="#74b3d8"/><rect x="482.15" y="511.45" width="14.00" height="11.30" fill="#2b3191"/><rect x="496.00" y="511.45" width="14.00" height="11.30" fill="#2b3191"/><rect x="509.85" y="511.45" width="14.00" height="11.30" fill="#2b3191"/><rect x="440.60" y="522.60" width="14.00" height="11.30" fill="#3c78b8"/><rect x="454.45" y="522.60" width="14.00" height="11.30" fill="#4a88c2"/><rect x="468.30" y="522.60" width="14.00" height="11.30" fill="#2b3191"/><rect x="482.15" y="522.60" width="14.00" height="11.30" fill="#3c78b8"/><rect x="496.00" y="522.60" width="14.00" height="11.30" fill="#2b3191"/><rect x="509.85" y="522.60" width="14.00" height="11.30" fill="#2b3191"/><rect x="440.60" y="533.75" width="14.00" height="11.30" fill="#a8dcea"/><rect x="468.30" y="533.75" width="14.00" height="11.30" fill="#2b3191"/><rect x="482.15" y="533.75" width="14.00" height="11.30" fill="#2b3191"/><rect x="496.00" y="533.75" width="14.00" height="11.30" fill="#2b3191"/><rect x="509.85" y="533.75" width="14.00" height="11.30" fill="#2b3191"/><rect x="440.60" y="544.90" width="14.00" height="11.30" fill="#2b3191"/><rect x="468.30" y="544.90" width="14.00" height="11.30" fill="#2b3191"/><rect x="482.15" y="544.90" width="14.00" height="11.30" fill="#2b3191"/><rect x="496.00" y="544.90" width="14.00" height="11.30" fill="#2b3191"/><rect x="509.85" y="544.90" width="14.00" height="11.30" fill="#3568b0"/><rect x="440.60" y="556.05" width="14.00" height="11.30" fill="#2b3191"/><rect x="454.45" y="556.05" width="14.00" height="11.30" fill="#2b3191"/><rect x="468.30" y="556.05" width="14.00" height="11.30" fill="#2b3191"/><rect x="482.15" y="556.05" width="14.00" height="11.30" fill="#3060a8"/><rect x="496.00" y="556.05" width="14.00" height="11.30" fill="#2b3191"/><rect x="509.85" y="556.05" width="14.00" height="11.30" fill="#5ea0cf"/><rect x="440.60" y="567.20" width="14.00" height="11.30" fill="#2b3191"/><rect x="454.45" y="567.20" width="14.00" height="11.30" fill="#2b3191"/><rect x="468.30" y="567.20" width="14.00" height="11.30" fill="#2b3191"/><rect x="482.15" y="567.20" width="14.00" height="11.30" fill="#2b3191"/><rect x="496.00" y="567.20" width="14.00" height="11.30" fill="#2b3191"/><rect x="509.85" y="567.20" width="14.00" height="11.30" fill="#4585c0"/><rect x="440.60" y="578.35" width="14.00" height="11.30" fill="#2b3191"/><rect x="454.45" y="578.35" width="14.00" height="11.30" fill="#2b3191"/><rect x="468.30" y="578.35" width="14.00" height="11.30" fill="#2f5aa5"/><rect x="482.15" y="578.35" width="14.00" height="11.30" fill="#2b3191"/><rect x="496.00" y="578.35" width="14.00" height="11.30" fill="#2b3191"/><rect x="509.85" y="578.35" width="14.00" height="11.30" fill="#5a9ccd"/><rect x="440.60" y="589.50" width="14.00" height="11.30" fill="#2b3191"/><rect x="454.45" y="589.50" width="14.00" height="11.30" fill="#2b3191"/><rect x="468.30" y="589.50" width="14.00" height="11.30" fill="#2b3191"/><rect x="482.15" y="589.50" width="14.00" height="11.30" fill="#2b3191"/><rect x="496.00" y="589.50" width="14.00" height="11.30" fill="#2b3191"/><rect x="509.85" y="589.50" width="14.00" height="11.30" fill="#3565b0"/><rect x="440.60" y="600.65" width="14.00" height="11.30" fill="#2b3191"/><rect x="454.45" y="600.65" width="14.00" height="11.30" fill="#2b3191"/><rect x="468.30" y="600.65" width="14.00" height="11.30" fill="#2b3191"/><rect x="482.15" y="600.65" width="14.00" height="11.30" fill="#2b3191"/><rect x="496.00" y="600.65" width="14.00" height="11.30" fill="#2b3191"/><rect x="509.85" y="600.65" width="14.00" height="11.30" fill="#3060aa"/><rect x="440.60" y="611.80" width="14.00" height="11.30" fill="#4a90c5"/><rect x="454.45" y="611.80" width="14.00" height="11.30" fill="#5fa5d0"/><rect x="468.30" y="611.80" width="14.00" height="11.30" fill="#2b3191"/><rect x="482.15" y="611.80" width="14.00" height="11.30" fill="#2b3191"/><rect x="496.00" y="611.80" width="14.00" height="11.30" fill="#2b3191"/><rect x="509.85" y="611.80" width="14.00" height="11.30" fill="#a5d8e8"/><rect x="440.60" y="622.95" width="14.00" height="11.30" fill="#2f4aa0"/><rect x="468.30" y="622.95" width="14.00" height="11.30" fill="#2b3191"/><rect x="482.15" y="622.95" width="14.00" height="11.30" fill="#78b5d8"/><rect x="496.00" y="622.95" width="14.00" height="11.30" fill="#2b3191"/><rect x="509.85" y="622.95" width="14.00" height="11.30" fill="#2b3191"/><rect x="440.60" y="634.10" width="14.00" height="11.30" fill="#3565b0"/><rect x="454.45" y="634.10" width="14.00" height="11.30" fill="#6aaad2"/><rect x="468.30" y="634.10" width="14.00" height="11.30" fill="#2b3191"/><rect x="496.00" y="634.10" width="14.00" height="11.30" fill="#4585c0"/><rect x="509.85" y="634.10" width="14.00" height="11.30" fill="#3060aa"/><rect x="440.60" y="645.25" width="14.00" height="11.30" fill="#2b3191"/><rect x="454.45" y="645.25" width="14.00" height="11.30" fill="#2f4aa0"/><rect x="468.30" y="645.25" width="14.00" height="11.30" fill="#2b3191"/><rect x="482.15" y="645.25" width="14.00" height="11.30" fill="#5fa5d0"/><rect x="496.00" y="645.25" width="14.00" height="11.30" fill="#2b3191"/><rect x="509.85" y="645.25" width="14.00" height="11.30" fill="#2b3191"/><rect x="440.60" y="656.40" width="14.00" height="11.30" fill="#2b3191"/><rect x="454.45" y="656.40" width="14.00" height="11.30" fill="#85bede"/><rect x="468.30" y="656.40" width="14.00" height="11.30" fill="#2b3191"/><rect x="482.15" y="656.40" width="14.00" height="11.30" fill="#2b3191"/><rect x="496.00" y="656.40" width="14.00" height="11.30" fill="#2b3191"/><rect x="509.85" y="656.40" width="14.00" height="11.30" fill="#4080bd"/><rect x="440.60" y="667.55" width="14.00" height="11.30" fill="#2b3191"/><rect x="454.45" y="667.55" width="14.00" height="11.30" fill="#3060aa"/><rect x="468.30" y="667.55" width="14.00" height="11.30" fill="#2b3191"/><rect x="482.15" y="667.55" width="14.00" height="11.30" fill="#a8dcea"/><rect x="496.00" y="667.55" width="14.00" height="11.30" fill="#3060aa"/><rect x="509.85" y="667.55" width="14.00" height="11.30" fill="#4080bd"/><rect x="440.60" y="678.70" width="14.00" height="11.30" fill="#2b3191"/><rect x="454.45" y="678.70" width="14.00" height="11.30" fill="#b0e0ee"/><rect x="468.30" y="678.70" width="14.00" height="11.30" fill="#2b3191"/><rect x="482.15" y="678.70" width="14.00" height="11.30" fill="#2b3191"/><rect x="496.00" y="678.70" width="14.00" height="11.30" fill="#5fa5d0"/><rect x="509.85" y="678.70" width="14.00" height="11.30" fill="#fdb56a"/></g><rect x="440.60" y="452.7" width="14.00" height="28.5" fill="#ff8524"/><rect x="454.45" y="452.7" width="14.00" height="28.5" fill="#ff8524"/><rect x="468.30" y="452.7" width="14.00" height="28.5" fill="#ff8524"/><rect x="482.15" y="452.7" width="14.00" height="28.5" fill="#ff8524"/><rect x="496.00" y="452.7" width="14.00" height="28.5" fill="#ff8524"/><rect x="509.85" y="452.7" width="14.00" height="28.5" fill="#ff8524"/></g><rect x="523.7" y="482.2" width="1.5" height="208.0" fill="#000"/><rect x="523.4" y="605" width="2.5" height="11" fill="#fff"/><text x="434.4" y="470.7" font-size="10.4" text-anchor="end" textLength="40.1" lengthAdjust="spacingAndGlyphs" fill="#4d4d4d">Disease</text><line x1="435.9" y1="466.9" x2="439.6" y2="466.9" stroke="#555" stroke-width="0.8"/><text x="434.4" y="487.3" font-size="10.4" text-anchor="end" textLength="89.0" lengthAdjust="spacingAndGlyphs" fill="#4d4d4d">GIMAP1_GIMAP1</text><line x1="435.9" y1="483.6" x2="439.6" y2="483.6" stroke="#555" stroke-width="0.8"/><text x="434.4" y="498.5" font-size="10.4" text-anchor="end" textLength="60.9" lengthAdjust="spacingAndGlyphs" fill="#4d4d4d">DEF6_DEF6</text><line x1="435.9" y1="494.7" x2="439.6" y2="494.7" stroke="#555" stroke-width="0.8"/><text x="434.4" y="509.6" font-size="10.4" text-anchor="end" textLength="65.5" lengthAdjust="spacingAndGlyphs" fill="#4d4d4d">THBD_THBD</text><line x1="435.9" y1="505.9" x2="439.6" y2="505.9" stroke="#555" stroke-width="0.8"/><text x="434.4" y="520.8" font-size="10.4" text-anchor="end" textLength="89.0" lengthAdjust="spacingAndGlyphs" fill="#4d4d4d">ACVRL1_ACVRL1</text><line x1="435.9" y1="517.0" x2="439.6" y2="517.0" stroke="#555" stroke-width="0.8"/><text x="434.4" y="531.9" font-size="10.4" text-anchor="end" textLength="63.2" lengthAdjust="spacingAndGlyphs" fill="#4d4d4d">GPR4_GPR4</text><line x1="435.9" y1="528.2" x2="439.6" y2="528.2" stroke="#555" stroke-width="0.8"/><text x="434.4" y="543.1" font-size="10.4" text-anchor="end" textLength="108.2" lengthAdjust="spacingAndGlyphs" fill="#4d4d4d">RHOBTB1_RHOBTB1</text><line x1="435.9" y1="539.3" x2="439.6" y2="539.3" stroke="#555" stroke-width="0.8"/><text x="434.4" y="554.2" font-size="10.4" text-anchor="end" textLength="58.9" lengthAdjust="spacingAndGlyphs" fill="#4d4d4d">RIN3_RIN3</text><line x1="435.9" y1="550.5" x2="439.6" y2="550.5" stroke="#555" stroke-width="0.8"/><text x="434.4" y="565.4" font-size="10.4" text-anchor="end" textLength="65.3" lengthAdjust="spacingAndGlyphs" fill="#4d4d4d">HHEX_HHEX</text><line x1="435.9" y1="561.6" x2="439.6" y2="561.6" stroke="#555" stroke-width="0.8"/><text x="434.4" y="576.5" font-size="10.4" text-anchor="end" textLength="90.5" lengthAdjust="spacingAndGlyphs" fill="#4d4d4d">SH3TC1_SH3TC1</text><line x1="435.9" y1="572.8" x2="439.6" y2="572.8" stroke="#555" stroke-width="0.8"/><text x="434.4" y="587.7" font-size="10.4" text-anchor="end" textLength="59.7" lengthAdjust="spacingAndGlyphs" fill="#4d4d4d">F11R_F11R</text><line x1="435.9" y1="583.9" x2="439.6" y2="583.9" stroke="#555" stroke-width="0.8"/><text x="434.4" y="598.8" font-size="10.4" text-anchor="end" textLength="73.2" lengthAdjust="spacingAndGlyphs" fill="#4d4d4d">KLHL6_KLHL6</text><line x1="435.9" y1="595.1" x2="439.6" y2="595.1" stroke="#555" stroke-width="0.8"/><text x="434.4" y="610.0" font-size="10.4" text-anchor="end" textLength="75.5" lengthAdjust="spacingAndGlyphs" fill="#4d4d4d">STAB1_STAB1</text><line x1="435.9" y1="606.2" x2="439.6" y2="606.2" stroke="#555" stroke-width="0.8"/><text x="434.4" y="621.1" font-size="10.4" text-anchor="end" textLength="87.8" lengthAdjust="spacingAndGlyphs" fill="#4d4d4d">LGALS9_LGALS9</text><line x1="435.9" y1="617.4" x2="439.6" y2="617.4" stroke="#555" stroke-width="0.8"/><text x="434.4" y="632.3" font-size="10.4" text-anchor="end" textLength="106.1" lengthAdjust="spacingAndGlyphs" fill="#4d4d4d">ZC3HAV1_ZC3HAV1</text><line x1="435.9" y1="628.5" x2="439.6" y2="628.5" stroke="#555" stroke-width="0.8"/><text x="434.4" y="643.4" font-size="10.4" text-anchor="end" textLength="73.6" lengthAdjust="spacingAndGlyphs" fill="#4d4d4d">PARP9_PARP9</text><line x1="435.9" y1="639.7" x2="439.6" y2="639.7" stroke="#555" stroke-width="0.8"/><text x="434.4" y="654.6" font-size="10.4" text-anchor="end" textLength="86.9" lengthAdjust="spacingAndGlyphs" fill="#4d4d4d">PARP14_PARP14</text><line x1="435.9" y1="650.8" x2="439.6" y2="650.8" stroke="#555" stroke-width="0.8"/><text x="434.4" y="665.7" font-size="10.4" text-anchor="end" textLength="58.7" lengthAdjust="spacingAndGlyphs" fill="#4d4d4d">LCP2_LCP2</text><line x1="435.9" y1="662.0" x2="439.6" y2="662.0" stroke="#555" stroke-width="0.8"/><text x="434.4" y="676.9" font-size="10.4" text-anchor="end" textLength="46.8" lengthAdjust="spacingAndGlyphs" fill="#4d4d4d">LYN_LYN</text><line x1="435.9" y1="673.1" x2="439.6" y2="673.1" stroke="#555" stroke-width="0.8"/><text x="434.4" y="688.0" font-size="10.4" text-anchor="end" textLength="58.7" lengthAdjust="spacingAndGlyphs" fill="#4d4d4d">LCP1_LCP1</text><line x1="435.9" y1="684.3" x2="439.6" y2="684.3" stroke="#555" stroke-width="0.8"/><line x1="447.5" y1="691.8" x2="447.5" y2="695.0" stroke="#555" stroke-width="0.8"/><text x="441.6" y="702.3" font-size="10.4" textLength="22.0" lengthAdjust="spacingAndGlyphs" transform="rotate(90 441.6 702.3)" fill="#4d4d4d">M48</text><line x1="461.4" y1="691.8" x2="461.4" y2="695.0" stroke="#555" stroke-width="0.8"/><text x="455.5" y="702.3" font-size="10.4" textLength="22.0" lengthAdjust="spacingAndGlyphs" transform="rotate(90 455.5 702.3)" fill="#4d4d4d">M63</text><line x1="475.2" y1="691.8" x2="475.2" y2="695.0" stroke="#555" stroke-width="0.8"/><text x="469.3" y="702.3" font-size="10.4" textLength="28.7" lengthAdjust="spacingAndGlyphs" transform="rotate(90 469.3 702.3)" fill="#4d4d4d">M129</text><line x1="489.1" y1="691.8" x2="489.1" y2="695.0" stroke="#555" stroke-width="0.8"/><text x="483.2" y="702.3" font-size="10.4" textLength="22.0" lengthAdjust="spacingAndGlyphs" transform="rotate(90 483.2 702.3)" fill="#4d4d4d">M44</text><line x1="502.9" y1="691.8" x2="502.9" y2="695.0" stroke="#555" stroke-width="0.8"/><text x="497.0" y="702.3" font-size="10.4" textLength="22.0" lengthAdjust="spacingAndGlyphs" transform="rotate(90 497.0 702.3)" fill="#4d4d4d">M49</text><line x1="516.8" y1="691.8" x2="516.8" y2="695.0" stroke="#555" stroke-width="0.8"/><text x="510.9" y="702.3" font-size="10.4" textLength="22.0" lengthAdjust="spacingAndGlyphs" transform="rotate(90 510.9 702.3)" fill="#4d4d4d">M46</text><text x="565.9" y="451.1" font-size="14.6" font-weight="bold" textLength="45.3" lengthAdjust="spacingAndGlyphs" fill="#000">(d) R3</text><g shape-rendering="crispEdges"><clipPath id="cpd"><rect x="700.5" y="480.0" width="80.1" height="204.8"/></clipPath><g clip-path="url(#cpd)"><rect x="700.50" y="480.50" width="15.57" height="10.53" fill="#f15a30"/><rect x="715.92" y="480.50" width="15.57" height="10.53" fill="#b11226"/><rect x="731.34" y="480.50" width="15.57" height="10.53" fill="#e33c2a"/><rect x="746.76" y="480.50" width="15.57" height="10.53" fill="#fb7840"/><rect x="762.18" y="480.50" width="15.57" height="10.53" fill="#b11226"/><rect x="700.50" y="490.88" width="15.57" height="10.53" fill="#b11226"/><rect x="715.92" y="490.88" width="15.57" height="10.53" fill="#b11226"/><rect x="746.76" y="490.88" width="15.57" height="10.53" fill="#b11226"/><rect x="762.18" y="490.88" width="15.57" height="10.53" fill="#b11226"/><rect x="700.50" y="501.26" width="15.57" height="10.53" fill="#b11226"/><rect x="715.92" y="501.26" width="15.57" height="10.53" fill="#b81a28"/><rect x="731.34" y="501.26" width="15.57" height="10.53" fill="#b11226"/><rect x="746.76" y="501.26" width="15.57" height="10.53" fill="#b11226"/><rect x="762.18" y="501.26" width="15.57" height="10.53" fill="#f86a40"/><rect x="700.50" y="511.64" width="15.57" height="10.53" fill="#b11226"/><rect x="715.92" y="511.64" width="15.57" height="10.53" fill="#b11226"/><rect x="731.34" y="511.64" width="15.57" height="10.53" fill="#b11226"/><rect x="746.76" y="511.64" width="15.57" height="10.53" fill="#fdb870"/><rect x="762.18" y="511.64" width="15.57" height="10.53" fill="#b11226"/><rect x="715.92" y="522.02" width="15.57" height="10.53" fill="#b11226"/><rect x="731.34" y="522.02" width="15.57" height="10.53" fill="#b11226"/><rect x="762.18" y="522.02" width="15.57" height="10.53" fill="#b11226"/><rect x="700.50" y="532.40" width="15.57" height="10.53" fill="#b11226"/><rect x="715.92" y="532.40" width="15.57" height="10.53" fill="#b11226"/><rect x="731.34" y="532.40" width="15.57" height="10.53" fill="#d02a25"/><rect x="746.76" y="532.40" width="15.57" height="10.53" fill="#b11226"/><rect x="762.18" y="532.40" width="15.57" height="10.53" fill="#b11226"/><rect x="700.50" y="542.78" width="15.57" height="10.53" fill="#fc8d4a"/><rect x="731.34" y="542.78" width="15.57" height="10.53" fill="#b11226"/><rect x="746.76" y="542.78" width="15.57" height="10.53" fill="#d93327"/><rect x="762.18" y="542.78" width="15.57" height="10.53" fill="#fdb466"/><rect x="700.50" y="553.16" width="15.57" height="10.53" fill="#b11226"/><rect x="715.92" y="553.16" width="15.57" height="10.53" fill="#b11226"/><rect x="746.76" y="553.16" width="15.57" height="10.53" fill="#b11226"/><rect x="762.18" y="553.16" width="15.57" height="10.53" fill="#b11226"/><rect x="700.50" y="563.54" width="15.57" height="10.53" fill="#cf2a25"/><rect x="715.92" y="563.54" width="15.57" height="10.53" fill="#b11226"/><rect x="731.34" y="563.54" width="15.57" height="10.53" fill="#b11226"/><rect x="746.76" y="563.54" width="15.57" height="10.53" fill="#b11226"/><rect x="762.18" y="563.54" width="15.57" height="10.53" fill="#fdae5e"/><rect x="700.50" y="573.92" width="15.57" height="10.53" fill="#b11226"/><rect x="715.92" y="573.92" width="15.57" height="10.53" fill="#b11226"/><rect x="731.34" y="573.92" width="15.57" height="10.53" fill="#b11226"/><rect x="746.76" y="573.92" width="15.57" height="10.53" fill="#b11226"/><rect x="762.18" y="573.92" width="15.57" height="10.53" fill="#b11226"/><rect x="700.50" y="584.30" width="15.57" height="10.53" fill="#b11226"/><rect x="715.92" y="584.30" width="15.57" height="10.53" fill="#b11226"/><rect x="731.34" y="584.30" width="15.57" height="10.53" fill="#fdae5e"/><rect x="746.76" y="584.30" width="15.57" height="10.53" fill="#b11226"/><rect x="762.18" y="584.30" width="15.57" height="10.53" fill="#b11226"/><rect x="700.50" y="594.68" width="15.57" height="10.53" fill="#b11226"/><rect x="715.92" y="594.68" width="15.57" height="10.53" fill="#b11226"/><rect x="731.34" y="594.68" width="15.57" height="10.53" fill="#b11226"/><rect x="746.76" y="594.68" width="15.57" height="10.53" fill="#fb7840"/><rect x="700.50" y="605.06" width="15.57" height="10.53" fill="#b11226"/><rect x="715.92" y="605.06" width="15.57" height="10.53" fill="#b11226"/><rect x="746.76" y="605.06" width="15.57" height="10.53" fill="#b11226"/><rect x="762.18" y="605.06" width="15.57" height="10.53" fill="#b11226"/><rect x="700.50" y="615.44" width="15.57" height="10.53" fill="#b11226"/><rect x="715.92" y="615.44" width="15.57" height="10.53" fill="#b81a28"/><rect x="746.76" y="615.44" width="15.57" height="10.53" fill="#b11226"/><rect x="762.18" y="615.44" width="15.57" height="10.53" fill="#fdb870"/><rect x="700.50" y="625.82" width="15.57" height="10.53" fill="#f96b3c"/><rect x="715.92" y="625.82" width="15.57" height="10.53" fill="#dc3a28"/><rect x="731.34" y="625.82" width="15.57" height="10.53" fill="#fc8d4a"/><rect x="746.76" y="625.82" width="15.57" height="10.53" fill="#b11226"/><rect x="762.18" y="625.82" width="15.57" height="10.53" fill="#b11226"/><rect x="700.50" y="636.20" width="15.57" height="10.53" fill="#f96b3c"/><rect x="715.92" y="636.20" width="15.57" height="10.53" fill="#c9242a"/><rect x="731.34" y="636.20" width="15.57" height="10.53" fill="#c9242a"/><rect x="746.76" y="636.20" width="15.57" height="10.53" fill="#ea4a30"/><rect x="762.18" y="636.20" width="15.57" height="10.53" fill="#b11226"/><rect x="700.50" y="646.58" width="15.57" height="10.53" fill="#ee4a30"/><rect x="715.92" y="646.58" width="15.57" height="10.53" fill="#b81a28"/><rect x="746.76" y="646.58" width="15.57" height="10.53" fill="#b11226"/><rect x="762.18" y="646.58" width="15.57" height="10.53" fill="#fdae5e"/><rect x="700.50" y="656.96" width="15.57" height="10.53" fill="#fdb870"/><rect x="746.76" y="656.96" width="15.57" height="10.53" fill="#b11226"/><rect x="762.18" y="656.96" width="15.57" height="10.53" fill="#b11226"/><rect x="700.50" y="667.34" width="15.57" height="10.53" fill="#b11226"/><rect x="715.92" y="667.34" width="15.57" height="10.53" fill="#b11226"/><rect x="731.34" y="667.34" width="15.57" height="10.53" fill="#b11226"/><rect x="746.76" y="667.34" width="15.57" height="10.53" fill="#b11226"/><rect x="762.18" y="667.34" width="15.57" height="10.53" fill="#fc9a50"/><rect x="700.50" y="677.72" width="15.57" height="10.53" fill="#b11226"/><rect x="715.92" y="677.72" width="15.57" height="10.53" fill="#b11226"/><rect x="731.34" y="677.72" width="15.57" height="10.53" fill="#b11226"/><rect x="746.76" y="677.72" width="15.57" height="10.53" fill="#b11226"/><rect x="762.18" y="677.72" width="15.57" height="10.53" fill="#b11226"/></g><rect x="700.50" y="452.7" width="15.57" height="27.3" fill="#cab2d6"/><rect x="715.92" y="452.7" width="15.57" height="27.3" fill="#cab2d6"/><rect x="731.34" y="452.7" width="15.57" height="27.3" fill="#cab2d6"/><rect x="746.76" y="452.7" width="15.57" height="27.3" fill="#cab2d6"/><rect x="762.18" y="452.7" width="15.57" height="27.3" fill="#cab2d6"/></g><rect x="777.6" y="481.0" width="1.5" height="203.8" fill="#000"/><text x="693.8" y="470.5" font-size="11.7" text-anchor="end" textLength="45.0" lengthAdjust="spacingAndGlyphs" fill="#4d4d4d">Disease</text><line x1="695.3" y1="466.4" x2="699.5" y2="466.4" stroke="#555" stroke-width="0.8"/><text x="693.8" y="489.9" font-size="11.7" text-anchor="end" textLength="71.5" lengthAdjust="spacingAndGlyphs" fill="#4d4d4d">CD44_CD44</text><line x1="695.3" y1="485.7" x2="699.5" y2="485.7" stroke="#555" stroke-width="0.8"/><text x="693.8" y="500.3" font-size="11.7" text-anchor="end" textLength="66.9" lengthAdjust="spacingAndGlyphs" fill="#4d4d4d">PTX3_PTX3</text><line x1="695.3" y1="496.1" x2="699.5" y2="496.1" stroke="#555" stroke-width="0.8"/><text x="693.8" y="510.6" font-size="11.7" text-anchor="end" textLength="88.5" lengthAdjust="spacingAndGlyphs" fill="#4d4d4d">CH25H_CH25H</text><line x1="695.3" y1="506.4" x2="699.5" y2="506.4" stroke="#555" stroke-width="0.8"/><text x="693.8" y="521.0" font-size="11.7" text-anchor="end" textLength="80.2" lengthAdjust="spacingAndGlyphs" fill="#4d4d4d">TIMP1_TIMP1</text><line x1="695.3" y1="516.8" x2="699.5" y2="516.8" stroke="#555" stroke-width="0.8"/><text x="693.8" y="531.4" font-size="11.7" text-anchor="end" textLength="106.2" lengthAdjust="spacingAndGlyphs" fill="#4d4d4d">IL18RAP_IL18RAP</text><line x1="695.3" y1="527.2" x2="699.5" y2="527.2" stroke="#555" stroke-width="0.8"/><text x="693.8" y="541.8" font-size="11.7" text-anchor="end" textLength="97.2" lengthAdjust="spacingAndGlyphs" fill="#4d4d4d">STEAP4_STEAP4</text><line x1="695.3" y1="537.6" x2="699.5" y2="537.6" stroke="#555" stroke-width="0.8"/><text x="693.8" y="552.2" font-size="11.7" text-anchor="end" textLength="94.4" lengthAdjust="spacingAndGlyphs" fill="#4d4d4d">FCGR3A_FCGR4</text><line x1="695.3" y1="548.0" x2="699.5" y2="548.0" stroke="#555" stroke-width="0.8"/><text x="693.8" y="562.5" font-size="11.7" text-anchor="end" textLength="131.2" lengthAdjust="spacingAndGlyphs" fill="#4d4d4d">SERPINA3_SERPINA3I</text><line x1="695.3" y1="558.4" x2="699.5" y2="558.4" stroke="#555" stroke-width="0.8"/><text x="693.8" y="572.9" font-size="11.7" text-anchor="end" textLength="87.4" lengthAdjust="spacingAndGlyphs" fill="#4d4d4d">TREM1_TREM1</text><line x1="695.3" y1="568.7" x2="699.5" y2="568.7" stroke="#555" stroke-width="0.8"/><text x="693.8" y="583.3" font-size="11.7" text-anchor="end" textLength="69.2" lengthAdjust="spacingAndGlyphs" fill="#4d4d4d">LCN2_LCN2</text><line x1="695.3" y1="579.1" x2="699.5" y2="579.1" stroke="#555" stroke-width="0.8"/><text x="693.8" y="593.7" font-size="11.7" text-anchor="end" textLength="84.1" lengthAdjust="spacingAndGlyphs" fill="#4d4d4d">CXCL2_CXCL1</text><line x1="695.3" y1="589.5" x2="699.5" y2="589.5" stroke="#555" stroke-width="0.8"/><text x="693.8" y="604.1" font-size="11.7" text-anchor="end" textLength="100.7" lengthAdjust="spacingAndGlyphs" fill="#4d4d4d">CLEC4D_CLEC4D</text><line x1="695.3" y1="599.9" x2="699.5" y2="599.9" stroke="#555" stroke-width="0.8"/><text x="693.8" y="614.4" font-size="11.7" text-anchor="end" textLength="83.6" lengthAdjust="spacingAndGlyphs" fill="#4d4d4d">STX11_STX11</text><line x1="695.3" y1="610.2" x2="699.5" y2="610.2" stroke="#555" stroke-width="0.8"/><text x="693.8" y="624.8" font-size="11.7" text-anchor="end" textLength="67.1" lengthAdjust="spacingAndGlyphs" fill="#4d4d4d">BATF_BATF</text><line x1="695.3" y1="620.6" x2="699.5" y2="620.6" stroke="#555" stroke-width="0.8"/><text x="693.8" y="635.2" font-size="11.7" text-anchor="end" textLength="84.3" lengthAdjust="spacingAndGlyphs" fill="#4d4d4d">CASP4_CASP4</text><line x1="695.3" y1="631.0" x2="699.5" y2="631.0" stroke="#555" stroke-width="0.8"/><text x="693.8" y="645.6" font-size="11.7" text-anchor="end" textLength="102.8" lengthAdjust="spacingAndGlyphs" fill="#4d4d4d">MAP3K8_MAP3K8</text><line x1="695.3" y1="641.4" x2="699.5" y2="641.4" stroke="#555" stroke-width="0.8"/><text x="693.8" y="656.0" font-size="11.7" text-anchor="end" textLength="45.2" lengthAdjust="spacingAndGlyphs" fill="#4d4d4d">IL6_IL6</text><line x1="695.3" y1="651.8" x2="699.5" y2="651.8" stroke="#555" stroke-width="0.8"/><text x="693.8" y="666.3" font-size="11.7" text-anchor="end" textLength="91.2" lengthAdjust="spacingAndGlyphs" fill="#4d4d4d">HLA-F_GM7030</text><line x1="695.3" y1="662.1" x2="699.5" y2="662.1" stroke="#555" stroke-width="0.8"/><text x="693.8" y="676.7" font-size="11.7" text-anchor="end" textLength="77.6" lengthAdjust="spacingAndGlyphs" fill="#4d4d4d">IFI16_IFI205</text><line x1="695.3" y1="672.5" x2="699.5" y2="672.5" stroke="#555" stroke-width="0.8"/><text x="693.8" y="687.1" font-size="11.7" text-anchor="end" textLength="84.1" lengthAdjust="spacingAndGlyphs" fill="#4d4d4d">CXCL9_CXCL9</text><line x1="695.3" y1="682.9" x2="699.5" y2="682.9" stroke="#555" stroke-width="0.8"/><line x1="708.2" y1="686.4" x2="708.2" y2="689.6" stroke="#555" stroke-width="0.8"/><text x="701.4" y="697.8" font-size="11.7" textLength="32.2" lengthAdjust="spacingAndGlyphs" transform="rotate(90 701.4 697.8)" fill="#4d4d4d">M210</text><line x1="723.6" y1="686.4" x2="723.6" y2="689.6" stroke="#555" stroke-width="0.8"/><text x="716.8" y="697.8" font-size="11.7" textLength="32.2" lengthAdjust="spacingAndGlyphs" transform="rotate(90 716.8 697.8)" fill="#4d4d4d">M209</text><line x1="739.0" y1="686.4" x2="739.0" y2="689.6" stroke="#555" stroke-width="0.8"/><text x="732.2" y="697.8" font-size="11.7" textLength="32.2" lengthAdjust="spacingAndGlyphs" transform="rotate(90 732.2 697.8)" fill="#4d4d4d">M143</text><line x1="754.5" y1="686.4" x2="754.5" y2="689.6" stroke="#555" stroke-width="0.8"/><text x="747.7" y="697.8" font-size="11.7" textLength="32.2" lengthAdjust="spacingAndGlyphs" transform="rotate(90 747.7 697.8)" fill="#4d4d4d">M204</text><line x1="769.9" y1="686.4" x2="769.9" y2="689.6" stroke="#555" stroke-width="0.8"/><text x="763.1" y="697.8" font-size="11.7" textLength="32.2" lengthAdjust="spacingAndGlyphs" transform="rotate(90 763.1 697.8)" fill="#4d4d4d">M142</text>
</svg>
</body></html>
